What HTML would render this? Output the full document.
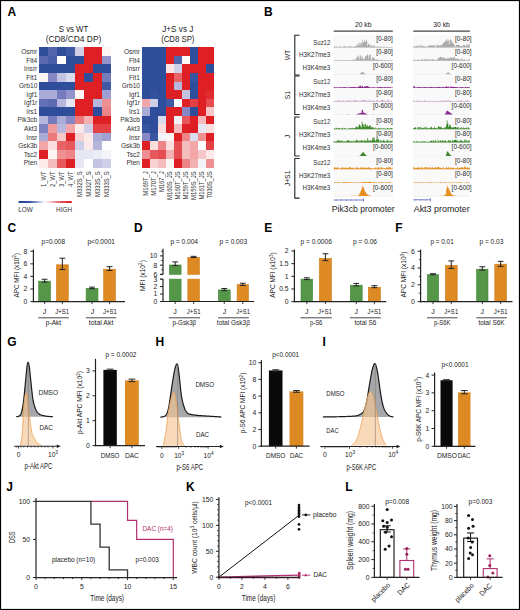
<!DOCTYPE html>
<html><head><meta charset="utf-8"><style>
html,body{margin:0;padding:0;background:#fff;}
svg{display:block;font-family:"Liberation Sans",sans-serif;}
</style></head><body>
<svg width="520" height="610" viewBox="0 0 520 610">
<rect x="0" y="0" width="520" height="610" fill="#fff"/>
<rect x="39.40" y="47.30" width="9.43" height="9.06" fill="#2e4e9c" shape-rendering="crispEdges"/>
<rect x="48.33" y="47.30" width="9.43" height="9.06" fill="#5265ad" shape-rendering="crispEdges"/>
<rect x="57.25" y="47.30" width="9.43" height="9.06" fill="#2e4e9c" shape-rendering="crispEdges"/>
<rect x="66.17" y="47.30" width="9.43" height="9.06" fill="#4059a4" shape-rendering="crispEdges"/>
<rect x="75.10" y="47.30" width="9.43" height="9.06" fill="#cfcfe8" shape-rendering="crispEdges"/>
<rect x="84.03" y="47.30" width="9.43" height="9.06" fill="#de2024" shape-rendering="crispEdges"/>
<rect x="92.95" y="47.30" width="9.43" height="9.06" fill="#de2024" shape-rendering="crispEdges"/>
<rect x="101.88" y="47.30" width="9.43" height="9.06" fill="#fdf4f4" shape-rendering="crispEdges"/>
<rect x="39.40" y="55.86" width="9.43" height="9.06" fill="#5a6ab1" shape-rendering="crispEdges"/>
<rect x="48.33" y="55.86" width="9.43" height="9.06" fill="#495fa9" shape-rendering="crispEdges"/>
<rect x="57.25" y="55.86" width="9.43" height="9.06" fill="#ffffff" shape-rendering="crispEdges"/>
<rect x="66.17" y="55.86" width="9.43" height="9.06" fill="#2e4e9c" shape-rendering="crispEdges"/>
<rect x="75.10" y="55.86" width="9.43" height="9.06" fill="#2e4e9c" shape-rendering="crispEdges"/>
<rect x="84.03" y="55.86" width="9.43" height="9.06" fill="#de2024" shape-rendering="crispEdges"/>
<rect x="92.95" y="55.86" width="9.43" height="9.06" fill="#de2024" shape-rendering="crispEdges"/>
<rect x="101.88" y="55.86" width="9.43" height="9.06" fill="#9393cc" shape-rendering="crispEdges"/>
<rect x="39.40" y="64.41" width="9.43" height="9.06" fill="#2e4e9c" shape-rendering="crispEdges"/>
<rect x="48.33" y="64.41" width="9.43" height="9.06" fill="#2e4e9c" shape-rendering="crispEdges"/>
<rect x="57.25" y="64.41" width="9.43" height="9.06" fill="#2e4e9c" shape-rendering="crispEdges"/>
<rect x="66.17" y="64.41" width="9.43" height="9.06" fill="#2e4e9c" shape-rendering="crispEdges"/>
<rect x="75.10" y="64.41" width="9.43" height="9.06" fill="#de2024" shape-rendering="crispEdges"/>
<rect x="84.03" y="64.41" width="9.43" height="9.06" fill="#de2024" shape-rendering="crispEdges"/>
<rect x="92.95" y="64.41" width="9.43" height="9.06" fill="#2e4e9c" shape-rendering="crispEdges"/>
<rect x="101.88" y="64.41" width="9.43" height="9.06" fill="#2e4e9c" shape-rendering="crispEdges"/>
<rect x="39.40" y="72.97" width="9.43" height="9.06" fill="#fdf4f4" shape-rendering="crispEdges"/>
<rect x="48.33" y="72.97" width="9.43" height="9.06" fill="#8787c6" shape-rendering="crispEdges"/>
<rect x="57.25" y="72.97" width="9.43" height="9.06" fill="#c3c3e2" shape-rendering="crispEdges"/>
<rect x="66.17" y="72.97" width="9.43" height="9.06" fill="#dbdbee" shape-rendering="crispEdges"/>
<rect x="75.10" y="72.97" width="9.43" height="9.06" fill="#de2024" shape-rendering="crispEdges"/>
<rect x="84.03" y="72.97" width="9.43" height="9.06" fill="#2e4e9c" shape-rendering="crispEdges"/>
<rect x="92.95" y="72.97" width="9.43" height="9.06" fill="#de2024" shape-rendering="crispEdges"/>
<rect x="101.88" y="72.97" width="9.43" height="9.06" fill="#757cbe" shape-rendering="crispEdges"/>
<rect x="39.40" y="81.53" width="9.43" height="9.06" fill="#2e4e9c" shape-rendering="crispEdges"/>
<rect x="48.33" y="81.53" width="9.43" height="9.06" fill="#2e4e9c" shape-rendering="crispEdges"/>
<rect x="57.25" y="81.53" width="9.43" height="9.06" fill="#2e4e9c" shape-rendering="crispEdges"/>
<rect x="66.17" y="81.53" width="9.43" height="9.06" fill="#2e4e9c" shape-rendering="crispEdges"/>
<rect x="75.10" y="81.53" width="9.43" height="9.06" fill="#de2024" shape-rendering="crispEdges"/>
<rect x="84.03" y="81.53" width="9.43" height="9.06" fill="#de2024" shape-rendering="crispEdges"/>
<rect x="92.95" y="81.53" width="9.43" height="9.06" fill="#de2024" shape-rendering="crispEdges"/>
<rect x="101.88" y="81.53" width="9.43" height="9.06" fill="#4059a4" shape-rendering="crispEdges"/>
<rect x="39.40" y="90.09" width="9.43" height="9.06" fill="#ababd7" shape-rendering="crispEdges"/>
<rect x="48.33" y="90.09" width="9.43" height="9.06" fill="#ababd7" shape-rendering="crispEdges"/>
<rect x="57.25" y="90.09" width="9.43" height="9.06" fill="#757cbe" shape-rendering="crispEdges"/>
<rect x="66.17" y="90.09" width="9.43" height="9.06" fill="#9393cc" shape-rendering="crispEdges"/>
<rect x="75.10" y="90.09" width="9.43" height="9.06" fill="#fdf4f4" shape-rendering="crispEdges"/>
<rect x="84.03" y="90.09" width="9.43" height="9.06" fill="#de2024" shape-rendering="crispEdges"/>
<rect x="92.95" y="90.09" width="9.43" height="9.06" fill="#de2024" shape-rendering="crispEdges"/>
<rect x="101.88" y="90.09" width="9.43" height="9.06" fill="#9f9fd1" shape-rendering="crispEdges"/>
<rect x="39.40" y="98.64" width="9.43" height="9.06" fill="#6370b5" shape-rendering="crispEdges"/>
<rect x="48.33" y="98.64" width="9.43" height="9.06" fill="#5a6ab1" shape-rendering="crispEdges"/>
<rect x="57.25" y="98.64" width="9.43" height="9.06" fill="#b7b7dd" shape-rendering="crispEdges"/>
<rect x="66.17" y="98.64" width="9.43" height="9.06" fill="#e7e7f4" shape-rendering="crispEdges"/>
<rect x="75.10" y="98.64" width="9.43" height="9.06" fill="#de2024" shape-rendering="crispEdges"/>
<rect x="84.03" y="98.64" width="9.43" height="9.06" fill="#de2024" shape-rendering="crispEdges"/>
<rect x="92.95" y="98.64" width="9.43" height="9.06" fill="#b7b7dd" shape-rendering="crispEdges"/>
<rect x="101.88" y="98.64" width="9.43" height="9.06" fill="#ee9092" shape-rendering="crispEdges"/>
<rect x="39.40" y="107.20" width="9.43" height="9.06" fill="#2e4e9c" shape-rendering="crispEdges"/>
<rect x="48.33" y="107.20" width="9.43" height="9.06" fill="#2e4e9c" shape-rendering="crispEdges"/>
<rect x="57.25" y="107.20" width="9.43" height="9.06" fill="#2e4e9c" shape-rendering="crispEdges"/>
<rect x="66.17" y="107.20" width="9.43" height="9.06" fill="#2e4e9c" shape-rendering="crispEdges"/>
<rect x="75.10" y="107.20" width="9.43" height="9.06" fill="#de2024" shape-rendering="crispEdges"/>
<rect x="84.03" y="107.20" width="9.43" height="9.06" fill="#de2024" shape-rendering="crispEdges"/>
<rect x="92.95" y="107.20" width="9.43" height="9.06" fill="#2e4e9c" shape-rendering="crispEdges"/>
<rect x="101.88" y="107.20" width="9.43" height="9.06" fill="#ed8487" shape-rendering="crispEdges"/>
<rect x="39.40" y="115.76" width="9.43" height="9.06" fill="#b7b7dd" shape-rendering="crispEdges"/>
<rect x="48.33" y="115.76" width="9.43" height="9.06" fill="#757cbe" shape-rendering="crispEdges"/>
<rect x="57.25" y="115.76" width="9.43" height="9.06" fill="#ababd7" shape-rendering="crispEdges"/>
<rect x="66.17" y="115.76" width="9.43" height="9.06" fill="#8787c6" shape-rendering="crispEdges"/>
<rect x="75.10" y="115.76" width="9.43" height="9.06" fill="#eb797c" shape-rendering="crispEdges"/>
<rect x="84.03" y="115.76" width="9.43" height="9.06" fill="#f3b1b2" shape-rendering="crispEdges"/>
<rect x="92.95" y="115.76" width="9.43" height="9.06" fill="#de2024" shape-rendering="crispEdges"/>
<rect x="101.88" y="115.76" width="9.43" height="9.06" fill="#de2024" shape-rendering="crispEdges"/>
<rect x="39.40" y="124.31" width="9.43" height="9.06" fill="#7e81c2" shape-rendering="crispEdges"/>
<rect x="48.33" y="124.31" width="9.43" height="9.06" fill="#f09b9c" shape-rendering="crispEdges"/>
<rect x="57.25" y="124.31" width="9.43" height="9.06" fill="#b7b7dd" shape-rendering="crispEdges"/>
<rect x="66.17" y="124.31" width="9.43" height="9.06" fill="#f2a6a7" shape-rendering="crispEdges"/>
<rect x="75.10" y="124.31" width="9.43" height="9.06" fill="#fce9e9" shape-rendering="crispEdges"/>
<rect x="84.03" y="124.31" width="9.43" height="9.06" fill="#cfcfe8" shape-rendering="crispEdges"/>
<rect x="92.95" y="124.31" width="9.43" height="9.06" fill="#e34145" shape-rendering="crispEdges"/>
<rect x="101.88" y="124.31" width="9.43" height="9.06" fill="#e34145" shape-rendering="crispEdges"/>
<rect x="39.40" y="132.87" width="9.43" height="9.06" fill="#ababd7" shape-rendering="crispEdges"/>
<rect x="48.33" y="132.87" width="9.43" height="9.06" fill="#eb797c" shape-rendering="crispEdges"/>
<rect x="57.25" y="132.87" width="9.43" height="9.06" fill="#f7c7c8" shape-rendering="crispEdges"/>
<rect x="66.17" y="132.87" width="9.43" height="9.06" fill="#de2024" shape-rendering="crispEdges"/>
<rect x="75.10" y="132.87" width="9.43" height="9.06" fill="#f8d2d3" shape-rendering="crispEdges"/>
<rect x="84.03" y="132.87" width="9.43" height="9.06" fill="#fce9e9" shape-rendering="crispEdges"/>
<rect x="92.95" y="132.87" width="9.43" height="9.06" fill="#ababd7" shape-rendering="crispEdges"/>
<rect x="101.88" y="132.87" width="9.43" height="9.06" fill="#9f9fd1" shape-rendering="crispEdges"/>
<rect x="39.40" y="141.43" width="9.43" height="9.06" fill="#f2a6a7" shape-rendering="crispEdges"/>
<rect x="48.33" y="141.43" width="9.43" height="9.06" fill="#fadede" shape-rendering="crispEdges"/>
<rect x="57.25" y="141.43" width="9.43" height="9.06" fill="#e86366" shape-rendering="crispEdges"/>
<rect x="66.17" y="141.43" width="9.43" height="9.06" fill="#e6585b" shape-rendering="crispEdges"/>
<rect x="75.10" y="141.43" width="9.43" height="9.06" fill="#cfcfe8" shape-rendering="crispEdges"/>
<rect x="84.03" y="141.43" width="9.43" height="9.06" fill="#fce9e9" shape-rendering="crispEdges"/>
<rect x="92.95" y="141.43" width="9.43" height="9.06" fill="#b7b7dd" shape-rendering="crispEdges"/>
<rect x="101.88" y="141.43" width="9.43" height="9.06" fill="#ffffff" shape-rendering="crispEdges"/>
<rect x="39.40" y="149.99" width="9.43" height="9.06" fill="#de2024" shape-rendering="crispEdges"/>
<rect x="48.33" y="149.99" width="9.43" height="9.06" fill="#fdf4f4" shape-rendering="crispEdges"/>
<rect x="57.25" y="149.99" width="9.43" height="9.06" fill="#ee9092" shape-rendering="crispEdges"/>
<rect x="66.17" y="149.99" width="9.43" height="9.06" fill="#ed8487" shape-rendering="crispEdges"/>
<rect x="75.10" y="149.99" width="9.43" height="9.06" fill="#e7e7f4" shape-rendering="crispEdges"/>
<rect x="84.03" y="149.99" width="9.43" height="9.06" fill="#e7e7f4" shape-rendering="crispEdges"/>
<rect x="92.95" y="149.99" width="9.43" height="9.06" fill="#ececf6" shape-rendering="crispEdges"/>
<rect x="101.88" y="149.99" width="9.43" height="9.06" fill="#f3f3f9" shape-rendering="crispEdges"/>
<rect x="39.40" y="158.54" width="9.43" height="9.06" fill="#fce9e9" shape-rendering="crispEdges"/>
<rect x="48.33" y="158.54" width="9.43" height="9.06" fill="#f5bcbd" shape-rendering="crispEdges"/>
<rect x="57.25" y="158.54" width="9.43" height="9.06" fill="#e6585b" shape-rendering="crispEdges"/>
<rect x="66.17" y="158.54" width="9.43" height="9.06" fill="#de2024" shape-rendering="crispEdges"/>
<rect x="75.10" y="158.54" width="9.43" height="9.06" fill="#e7e7f4" shape-rendering="crispEdges"/>
<rect x="84.03" y="158.54" width="9.43" height="9.06" fill="#ffffff" shape-rendering="crispEdges"/>
<rect x="92.95" y="158.54" width="9.43" height="9.06" fill="#c3c3e2" shape-rendering="crispEdges"/>
<rect x="101.88" y="158.54" width="9.43" height="9.06" fill="#cfcfe8" shape-rendering="crispEdges"/>
<text x="37.30" y="53.98" font-size="6.6" text-anchor="end" fill="#333">Osmr</text>
<text x="37.30" y="62.54" font-size="6.6" text-anchor="end" fill="#333">Flt4</text>
<text x="37.30" y="71.09" font-size="6.6" text-anchor="end" fill="#333">Insrr</text>
<text x="37.30" y="79.65" font-size="6.6" text-anchor="end" fill="#333">Flt1</text>
<text x="37.30" y="88.21" font-size="6.6" text-anchor="end" fill="#333">Grb10</text>
<text x="37.30" y="96.76" font-size="6.6" text-anchor="end" fill="#333">Igf1</text>
<text x="37.30" y="105.32" font-size="6.6" text-anchor="end" fill="#333">Igf1r</text>
<text x="37.30" y="113.88" font-size="6.6" text-anchor="end" fill="#333">Irs1</text>
<text x="37.30" y="122.44" font-size="6.6" text-anchor="end" fill="#333">Pik3cb</text>
<text x="37.30" y="130.99" font-size="6.6" text-anchor="end" fill="#333">Akt3</text>
<text x="37.30" y="139.55" font-size="6.6" text-anchor="end" fill="#333">Insr</text>
<text x="37.30" y="148.11" font-size="6.6" text-anchor="end" fill="#333">Gsk3b</text>
<text x="37.30" y="156.66" font-size="6.6" text-anchor="end" fill="#333">Tsc2</text>
<text x="37.30" y="165.22" font-size="6.6" text-anchor="end" fill="#333">Pten</text>
<text x="46.16" y="171.30" font-size="6.8" text-anchor="end" fill="#333" textLength="15.60" lengthAdjust="spacingAndGlyphs" transform="rotate(-90 46.16 171.30)">1_WT</text>
<text x="55.09" y="171.30" font-size="6.8" text-anchor="end" fill="#333" textLength="15.60" lengthAdjust="spacingAndGlyphs" transform="rotate(-90 55.09 171.30)">2_WT</text>
<text x="64.01" y="171.30" font-size="6.8" text-anchor="end" fill="#333" textLength="15.60" lengthAdjust="spacingAndGlyphs" transform="rotate(-90 64.01 171.30)">3_WT</text>
<text x="72.94" y="171.30" font-size="6.8" text-anchor="end" fill="#333" textLength="15.60" lengthAdjust="spacingAndGlyphs" transform="rotate(-90 72.94 171.30)">4_WT</text>
<text x="81.86" y="171.30" font-size="6.8" text-anchor="end" fill="#333" textLength="25.68" lengthAdjust="spacingAndGlyphs" transform="rotate(-90 81.86 171.30)">M332S_S</text>
<text x="90.79" y="171.30" font-size="6.8" text-anchor="end" fill="#333" textLength="25.35" lengthAdjust="spacingAndGlyphs" transform="rotate(-90 90.79 171.30)">M332T_S</text>
<text x="99.71" y="171.30" font-size="6.8" text-anchor="end" fill="#333" textLength="25.68" lengthAdjust="spacingAndGlyphs" transform="rotate(-90 99.71 171.30)">M333S_S</text>
<text x="108.64" y="171.30" font-size="6.8" text-anchor="end" fill="#333" textLength="25.68" lengthAdjust="spacingAndGlyphs" transform="rotate(-90 108.64 171.30)">M333S_S</text>
<text x="73.50" y="32.40" font-size="8.6" text-anchor="middle" fill="#222" textLength="29.50" lengthAdjust="spacingAndGlyphs">S vs WT</text>
<text x="73.50" y="42.00" font-size="8.6" text-anchor="middle" fill="#222" textLength="55.70" lengthAdjust="spacingAndGlyphs">(CD8/CD4 DP)</text>
<rect x="142.10" y="47.30" width="8.46" height="9.06" fill="#2e4e9c" shape-rendering="crispEdges"/>
<rect x="150.06" y="47.30" width="8.46" height="9.06" fill="#2e4e9c" shape-rendering="crispEdges"/>
<rect x="158.01" y="47.30" width="8.46" height="9.06" fill="#2e4e9c" shape-rendering="crispEdges"/>
<rect x="165.97" y="47.30" width="8.46" height="9.06" fill="#de2024" shape-rendering="crispEdges"/>
<rect x="173.92" y="47.30" width="8.46" height="9.06" fill="#de2024" shape-rendering="crispEdges"/>
<rect x="181.88" y="47.30" width="8.46" height="9.06" fill="#de2024" shape-rendering="crispEdges"/>
<rect x="189.83" y="47.30" width="8.46" height="9.06" fill="#2e4e9c" shape-rendering="crispEdges"/>
<rect x="197.79" y="47.30" width="8.46" height="9.06" fill="#de2024" shape-rendering="crispEdges"/>
<rect x="205.74" y="47.30" width="8.46" height="9.06" fill="#de2024" shape-rendering="crispEdges"/>
<rect x="142.10" y="55.86" width="8.46" height="9.06" fill="#2e4e9c" shape-rendering="crispEdges"/>
<rect x="150.06" y="55.86" width="8.46" height="9.06" fill="#2e4e9c" shape-rendering="crispEdges"/>
<rect x="158.01" y="55.86" width="8.46" height="9.06" fill="#2e4e9c" shape-rendering="crispEdges"/>
<rect x="165.97" y="55.86" width="8.46" height="9.06" fill="#de2024" shape-rendering="crispEdges"/>
<rect x="173.92" y="55.86" width="8.46" height="9.06" fill="#5265ad" shape-rendering="crispEdges"/>
<rect x="181.88" y="55.86" width="8.46" height="9.06" fill="#fef8f8" shape-rendering="crispEdges"/>
<rect x="189.83" y="55.86" width="8.46" height="9.06" fill="#2e4e9c" shape-rendering="crispEdges"/>
<rect x="197.79" y="55.86" width="8.46" height="9.06" fill="#de2024" shape-rendering="crispEdges"/>
<rect x="205.74" y="55.86" width="8.46" height="9.06" fill="#de2024" shape-rendering="crispEdges"/>
<rect x="142.10" y="64.41" width="8.46" height="9.06" fill="#2e4e9c" shape-rendering="crispEdges"/>
<rect x="150.06" y="64.41" width="8.46" height="9.06" fill="#2e4e9c" shape-rendering="crispEdges"/>
<rect x="158.01" y="64.41" width="8.46" height="9.06" fill="#2e4e9c" shape-rendering="crispEdges"/>
<rect x="165.97" y="64.41" width="8.46" height="9.06" fill="#fbe4e5" shape-rendering="crispEdges"/>
<rect x="173.92" y="64.41" width="8.46" height="9.06" fill="#cfcfe8" shape-rendering="crispEdges"/>
<rect x="181.88" y="64.41" width="8.46" height="9.06" fill="#de2024" shape-rendering="crispEdges"/>
<rect x="189.83" y="64.41" width="8.46" height="9.06" fill="#de2024" shape-rendering="crispEdges"/>
<rect x="197.79" y="64.41" width="8.46" height="9.06" fill="#de2024" shape-rendering="crispEdges"/>
<rect x="205.74" y="64.41" width="8.46" height="9.06" fill="#2e4e9c" shape-rendering="crispEdges"/>
<rect x="142.10" y="72.97" width="8.46" height="9.06" fill="#2e4e9c" shape-rendering="crispEdges"/>
<rect x="150.06" y="72.97" width="8.46" height="9.06" fill="#2e4e9c" shape-rendering="crispEdges"/>
<rect x="158.01" y="72.97" width="8.46" height="9.06" fill="#2e4e9c" shape-rendering="crispEdges"/>
<rect x="165.97" y="72.97" width="8.46" height="9.06" fill="#de2024" shape-rendering="crispEdges"/>
<rect x="173.92" y="72.97" width="8.46" height="9.06" fill="#e86366" shape-rendering="crispEdges"/>
<rect x="181.88" y="72.97" width="8.46" height="9.06" fill="#de2024" shape-rendering="crispEdges"/>
<rect x="189.83" y="72.97" width="8.46" height="9.06" fill="#3754a0" shape-rendering="crispEdges"/>
<rect x="197.79" y="72.97" width="8.46" height="9.06" fill="#de2024" shape-rendering="crispEdges"/>
<rect x="205.74" y="72.97" width="8.46" height="9.06" fill="#de2024" shape-rendering="crispEdges"/>
<rect x="142.10" y="81.53" width="8.46" height="9.06" fill="#2e4e9c" shape-rendering="crispEdges"/>
<rect x="150.06" y="81.53" width="8.46" height="9.06" fill="#2e4e9c" shape-rendering="crispEdges"/>
<rect x="158.01" y="81.53" width="8.46" height="9.06" fill="#2e4e9c" shape-rendering="crispEdges"/>
<rect x="165.97" y="81.53" width="8.46" height="9.06" fill="#de2024" shape-rendering="crispEdges"/>
<rect x="173.92" y="81.53" width="8.46" height="9.06" fill="#b7b7dd" shape-rendering="crispEdges"/>
<rect x="181.88" y="81.53" width="8.46" height="9.06" fill="#de2024" shape-rendering="crispEdges"/>
<rect x="189.83" y="81.53" width="8.46" height="9.06" fill="#2e4e9c" shape-rendering="crispEdges"/>
<rect x="197.79" y="81.53" width="8.46" height="9.06" fill="#de2024" shape-rendering="crispEdges"/>
<rect x="205.74" y="81.53" width="8.46" height="9.06" fill="#de2024" shape-rendering="crispEdges"/>
<rect x="142.10" y="90.09" width="8.46" height="9.06" fill="#2e4e9c" shape-rendering="crispEdges"/>
<rect x="150.06" y="90.09" width="8.46" height="9.06" fill="#33519f" shape-rendering="crispEdges"/>
<rect x="158.01" y="90.09" width="8.46" height="9.06" fill="#2e4e9c" shape-rendering="crispEdges"/>
<rect x="165.97" y="90.09" width="8.46" height="9.06" fill="#de2024" shape-rendering="crispEdges"/>
<rect x="173.92" y="90.09" width="8.46" height="9.06" fill="#de2024" shape-rendering="crispEdges"/>
<rect x="181.88" y="90.09" width="8.46" height="9.06" fill="#c3c3e2" shape-rendering="crispEdges"/>
<rect x="189.83" y="90.09" width="8.46" height="9.06" fill="#2e4e9c" shape-rendering="crispEdges"/>
<rect x="197.79" y="90.09" width="8.46" height="9.06" fill="#de2024" shape-rendering="crispEdges"/>
<rect x="205.74" y="90.09" width="8.46" height="9.06" fill="#e02b2f" shape-rendering="crispEdges"/>
<rect x="142.10" y="98.64" width="8.46" height="9.06" fill="#f2a6a7" shape-rendering="crispEdges"/>
<rect x="150.06" y="98.64" width="8.46" height="9.06" fill="#cfcfe8" shape-rendering="crispEdges"/>
<rect x="158.01" y="98.64" width="8.46" height="9.06" fill="#2e4e9c" shape-rendering="crispEdges"/>
<rect x="165.97" y="98.64" width="8.46" height="9.06" fill="#4059a4" shape-rendering="crispEdges"/>
<rect x="173.92" y="98.64" width="8.46" height="9.06" fill="#ffffff" shape-rendering="crispEdges"/>
<rect x="181.88" y="98.64" width="8.46" height="9.06" fill="#de2024" shape-rendering="crispEdges"/>
<rect x="189.83" y="98.64" width="8.46" height="9.06" fill="#e34145" shape-rendering="crispEdges"/>
<rect x="197.79" y="98.64" width="8.46" height="9.06" fill="#de2024" shape-rendering="crispEdges"/>
<rect x="205.74" y="98.64" width="8.46" height="9.06" fill="#e54d50" shape-rendering="crispEdges"/>
<rect x="142.10" y="107.20" width="8.46" height="9.06" fill="#ababd7" shape-rendering="crispEdges"/>
<rect x="150.06" y="107.20" width="8.46" height="9.06" fill="#2e4e9c" shape-rendering="crispEdges"/>
<rect x="158.01" y="107.20" width="8.46" height="9.06" fill="#2e4e9c" shape-rendering="crispEdges"/>
<rect x="165.97" y="107.20" width="8.46" height="9.06" fill="#de2024" shape-rendering="crispEdges"/>
<rect x="173.92" y="107.20" width="8.46" height="9.06" fill="#de2024" shape-rendering="crispEdges"/>
<rect x="181.88" y="107.20" width="8.46" height="9.06" fill="#8787c6" shape-rendering="crispEdges"/>
<rect x="189.83" y="107.20" width="8.46" height="9.06" fill="#2e4e9c" shape-rendering="crispEdges"/>
<rect x="197.79" y="107.20" width="8.46" height="9.06" fill="#de2024" shape-rendering="crispEdges"/>
<rect x="205.74" y="107.20" width="8.46" height="9.06" fill="#f7c7c8" shape-rendering="crispEdges"/>
<rect x="142.10" y="115.76" width="8.46" height="9.06" fill="#2e4e9c" shape-rendering="crispEdges"/>
<rect x="150.06" y="115.76" width="8.46" height="9.06" fill="#2e4e9c" shape-rendering="crispEdges"/>
<rect x="158.01" y="115.76" width="8.46" height="9.06" fill="#dbdbee" shape-rendering="crispEdges"/>
<rect x="165.97" y="115.76" width="8.46" height="9.06" fill="#de2024" shape-rendering="crispEdges"/>
<rect x="173.92" y="115.76" width="8.46" height="9.06" fill="#f3f3f9" shape-rendering="crispEdges"/>
<rect x="181.88" y="115.76" width="8.46" height="9.06" fill="#e6585b" shape-rendering="crispEdges"/>
<rect x="189.83" y="115.76" width="8.46" height="9.06" fill="#de2024" shape-rendering="crispEdges"/>
<rect x="197.79" y="115.76" width="8.46" height="9.06" fill="#f5bcbd" shape-rendering="crispEdges"/>
<rect x="205.74" y="115.76" width="8.46" height="9.06" fill="#de2024" shape-rendering="crispEdges"/>
<rect x="142.10" y="124.31" width="8.46" height="9.06" fill="#3754a0" shape-rendering="crispEdges"/>
<rect x="150.06" y="124.31" width="8.46" height="9.06" fill="#2e4e9c" shape-rendering="crispEdges"/>
<rect x="158.01" y="124.31" width="8.46" height="9.06" fill="#fadede" shape-rendering="crispEdges"/>
<rect x="165.97" y="124.31" width="8.46" height="9.06" fill="#de2024" shape-rendering="crispEdges"/>
<rect x="173.92" y="124.31" width="8.46" height="9.06" fill="#f5bcbd" shape-rendering="crispEdges"/>
<rect x="181.88" y="124.31" width="8.46" height="9.06" fill="#de2024" shape-rendering="crispEdges"/>
<rect x="189.83" y="124.31" width="8.46" height="9.06" fill="#de2024" shape-rendering="crispEdges"/>
<rect x="197.79" y="124.31" width="8.46" height="9.06" fill="#e7e7f4" shape-rendering="crispEdges"/>
<rect x="205.74" y="124.31" width="8.46" height="9.06" fill="#fadede" shape-rendering="crispEdges"/>
<rect x="142.10" y="132.87" width="8.46" height="9.06" fill="#8787c6" shape-rendering="crispEdges"/>
<rect x="150.06" y="132.87" width="8.46" height="9.06" fill="#3754a0" shape-rendering="crispEdges"/>
<rect x="158.01" y="132.87" width="8.46" height="9.06" fill="#f3f3f9" shape-rendering="crispEdges"/>
<rect x="165.97" y="132.87" width="8.46" height="9.06" fill="#fdf4f4" shape-rendering="crispEdges"/>
<rect x="173.92" y="132.87" width="8.46" height="9.06" fill="#de2024" shape-rendering="crispEdges"/>
<rect x="181.88" y="132.87" width="8.46" height="9.06" fill="#ed8487" shape-rendering="crispEdges"/>
<rect x="189.83" y="132.87" width="8.46" height="9.06" fill="#dbdbee" shape-rendering="crispEdges"/>
<rect x="197.79" y="132.87" width="8.46" height="9.06" fill="#ee9092" shape-rendering="crispEdges"/>
<rect x="205.74" y="132.87" width="8.46" height="9.06" fill="#de2024" shape-rendering="crispEdges"/>
<rect x="142.10" y="141.43" width="8.46" height="9.06" fill="#de2024" shape-rendering="crispEdges"/>
<rect x="150.06" y="141.43" width="8.46" height="9.06" fill="#fadede" shape-rendering="crispEdges"/>
<rect x="158.01" y="141.43" width="8.46" height="9.06" fill="#ed8487" shape-rendering="crispEdges"/>
<rect x="165.97" y="141.43" width="8.46" height="9.06" fill="#fadede" shape-rendering="crispEdges"/>
<rect x="173.92" y="141.43" width="8.46" height="9.06" fill="#e54d50" shape-rendering="crispEdges"/>
<rect x="181.88" y="141.43" width="8.46" height="9.06" fill="#f5bcbd" shape-rendering="crispEdges"/>
<rect x="189.83" y="141.43" width="8.46" height="9.06" fill="#f2a6a7" shape-rendering="crispEdges"/>
<rect x="197.79" y="141.43" width="8.46" height="9.06" fill="#ffffff" shape-rendering="crispEdges"/>
<rect x="205.74" y="141.43" width="8.46" height="9.06" fill="#e34145" shape-rendering="crispEdges"/>
<rect x="142.10" y="149.99" width="8.46" height="9.06" fill="#ee9092" shape-rendering="crispEdges"/>
<rect x="150.06" y="149.99" width="8.46" height="9.06" fill="#e6585b" shape-rendering="crispEdges"/>
<rect x="158.01" y="149.99" width="8.46" height="9.06" fill="#e54d50" shape-rendering="crispEdges"/>
<rect x="165.97" y="149.99" width="8.46" height="9.06" fill="#f3b1b2" shape-rendering="crispEdges"/>
<rect x="173.92" y="149.99" width="8.46" height="9.06" fill="#e54d50" shape-rendering="crispEdges"/>
<rect x="181.88" y="149.99" width="8.46" height="9.06" fill="#f5bcbd" shape-rendering="crispEdges"/>
<rect x="189.83" y="149.99" width="8.46" height="9.06" fill="#f2a6a7" shape-rendering="crispEdges"/>
<rect x="197.79" y="149.99" width="8.46" height="9.06" fill="#f7c7c8" shape-rendering="crispEdges"/>
<rect x="205.74" y="149.99" width="8.46" height="9.06" fill="#fce9e9" shape-rendering="crispEdges"/>
<rect x="142.10" y="158.54" width="8.46" height="9.06" fill="#de2024" shape-rendering="crispEdges"/>
<rect x="150.06" y="158.54" width="8.46" height="9.06" fill="#f8d2d3" shape-rendering="crispEdges"/>
<rect x="158.01" y="158.54" width="8.46" height="9.06" fill="#f5bcbd" shape-rendering="crispEdges"/>
<rect x="165.97" y="158.54" width="8.46" height="9.06" fill="#fdf4f4" shape-rendering="crispEdges"/>
<rect x="173.92" y="158.54" width="8.46" height="9.06" fill="#de2024" shape-rendering="crispEdges"/>
<rect x="181.88" y="158.54" width="8.46" height="9.06" fill="#ed8487" shape-rendering="crispEdges"/>
<rect x="189.83" y="158.54" width="8.46" height="9.06" fill="#f3b1b2" shape-rendering="crispEdges"/>
<rect x="197.79" y="158.54" width="8.46" height="9.06" fill="#f3f3f9" shape-rendering="crispEdges"/>
<rect x="205.74" y="158.54" width="8.46" height="9.06" fill="#ee9092" shape-rendering="crispEdges"/>
<text x="140.00" y="53.98" font-size="6.6" text-anchor="end" fill="#333">Osmr</text>
<text x="140.00" y="62.54" font-size="6.6" text-anchor="end" fill="#333">Flt4</text>
<text x="140.00" y="71.09" font-size="6.6" text-anchor="end" fill="#333">Insrr</text>
<text x="140.00" y="79.65" font-size="6.6" text-anchor="end" fill="#333">Flt1</text>
<text x="140.00" y="88.21" font-size="6.6" text-anchor="end" fill="#333">Grb10</text>
<text x="140.00" y="96.76" font-size="6.6" text-anchor="end" fill="#333">Igf1</text>
<text x="140.00" y="105.32" font-size="6.6" text-anchor="end" fill="#333">Igf1r</text>
<text x="140.00" y="113.88" font-size="6.6" text-anchor="end" fill="#333">Irs1</text>
<text x="140.00" y="122.44" font-size="6.6" text-anchor="end" fill="#333">Pik3cb</text>
<text x="140.00" y="130.99" font-size="6.6" text-anchor="end" fill="#333">Akt3</text>
<text x="140.00" y="139.55" font-size="6.6" text-anchor="end" fill="#333">Insr</text>
<text x="140.00" y="148.11" font-size="6.6" text-anchor="end" fill="#333">Gsk3b</text>
<text x="140.00" y="156.66" font-size="6.6" text-anchor="end" fill="#333">Tsc2</text>
<text x="140.00" y="165.22" font-size="6.6" text-anchor="end" fill="#333">Pten</text>
<text x="148.38" y="171.30" font-size="6.8" text-anchor="end" fill="#333" textLength="24.38" lengthAdjust="spacingAndGlyphs" transform="rotate(-90 148.38 171.30)">M169T_J</text>
<text x="156.33" y="171.30" font-size="6.8" text-anchor="end" fill="#333" textLength="24.38" lengthAdjust="spacingAndGlyphs" transform="rotate(-90 156.33 171.30)">M170T_J</text>
<text x="164.29" y="171.30" font-size="6.8" text-anchor="end" fill="#333" textLength="20.80" lengthAdjust="spacingAndGlyphs" transform="rotate(-90 164.29 171.30)">M167_J</text>
<text x="172.24" y="171.30" font-size="6.8" text-anchor="end" fill="#333" textLength="28.60" lengthAdjust="spacingAndGlyphs" transform="rotate(-90 172.24 171.30)">M160S_JS</text>
<text x="180.20" y="171.30" font-size="6.8" text-anchor="end" fill="#333" textLength="28.28" lengthAdjust="spacingAndGlyphs" transform="rotate(-90 180.20 171.30)">M160T_JS</text>
<text x="188.16" y="171.30" font-size="6.8" text-anchor="end" fill="#333" textLength="28.28" lengthAdjust="spacingAndGlyphs" transform="rotate(-90 188.16 171.30)">M159T_JS</text>
<text x="196.11" y="171.30" font-size="6.8" text-anchor="end" fill="#333" textLength="28.60" lengthAdjust="spacingAndGlyphs" transform="rotate(-90 196.11 171.30)">M159S_JS</text>
<text x="204.07" y="171.30" font-size="6.8" text-anchor="end" fill="#333" textLength="28.28" lengthAdjust="spacingAndGlyphs" transform="rotate(-90 204.07 171.30)">M161T_JS</text>
<text x="212.02" y="171.30" font-size="6.8" text-anchor="end" fill="#333" textLength="27.31" lengthAdjust="spacingAndGlyphs" transform="rotate(-90 212.02 171.30)">T030S_JS</text>
<text x="177.80" y="32.40" font-size="8.6" text-anchor="middle" fill="#222" textLength="31.10" lengthAdjust="spacingAndGlyphs">J+S vs J</text>
<text x="177.80" y="42.00" font-size="8.6" text-anchor="middle" fill="#222" textLength="33.30" lengthAdjust="spacingAndGlyphs">(CD8 SP)</text>
<text x="7.60" y="15.50" font-size="12" text-anchor="start" fill="#000" font-weight="bold">A</text>
<defs><linearGradient id="cb" x1="0" x2="1" y1="0" y2="0"><stop offset="0" stop-color="#22409e"/><stop offset="0.22" stop-color="#3c55a8"/><stop offset="0.5" stop-color="#ffffff"/><stop offset="0.78" stop-color="#e4595e"/><stop offset="1" stop-color="#d8151c"/></linearGradient></defs>
<rect x="18.30" y="200.90" width="53.70" height="2.20" fill="url(#cb)" rx="1"/>
<text x="18.30" y="211.50" font-size="6.4" text-anchor="start" fill="#333">LOW</text>
<text x="72.00" y="211.50" font-size="6.4" text-anchor="end" fill="#333">HIGH</text>
<text x="264.00" y="15.50" font-size="12" text-anchor="start" fill="#000" font-weight="bold">B</text>
<line x1="333.70" y1="31.10" x2="392.80" y2="31.10" stroke="#444" stroke-width="1.4"/>
<text x="363.25" y="27.00" font-size="6.8" text-anchor="middle" fill="#222">20 kb</text>
<line x1="413.20" y1="31.10" x2="469.90" y2="31.10" stroke="#444" stroke-width="1.4"/>
<text x="441.55" y="27.00" font-size="6.8" text-anchor="middle" fill="#222">30 kb</text>
<rect x="333.70" y="34.90" width="59.10" height="13.00" fill="#f9f9f9"/>
<line x1="333.70" y1="47.70" x2="392.80" y2="47.70" stroke="#e4e4e4" stroke-width="0.5"/>
<rect x="413.20" y="34.90" width="56.70" height="13.00" fill="#f9f9f9"/>
<line x1="413.20" y1="47.70" x2="469.90" y2="47.70" stroke="#e4e4e4" stroke-width="0.5"/>
<rect x="333.70" y="48.20" width="59.10" height="13.00" fill="#f9f9f9"/>
<line x1="333.70" y1="61.00" x2="392.80" y2="61.00" stroke="#e4e4e4" stroke-width="0.5"/>
<rect x="413.20" y="48.20" width="56.70" height="13.00" fill="#f9f9f9"/>
<line x1="413.20" y1="61.00" x2="469.90" y2="61.00" stroke="#e4e4e4" stroke-width="0.5"/>
<rect x="333.70" y="61.70" width="59.10" height="13.00" fill="#f9f9f9"/>
<line x1="333.70" y1="74.50" x2="392.80" y2="74.50" stroke="#e4e4e4" stroke-width="0.5"/>
<rect x="413.20" y="61.70" width="56.70" height="13.00" fill="#f9f9f9"/>
<line x1="413.20" y1="74.50" x2="469.90" y2="74.50" stroke="#e4e4e4" stroke-width="0.5"/>
<rect x="333.70" y="75.40" width="59.10" height="13.00" fill="#f9f9f9"/>
<line x1="333.70" y1="88.20" x2="392.80" y2="88.20" stroke="#e4e4e4" stroke-width="0.5"/>
<rect x="413.20" y="75.40" width="56.70" height="13.00" fill="#f9f9f9"/>
<line x1="413.20" y1="88.20" x2="469.90" y2="88.20" stroke="#e4e4e4" stroke-width="0.5"/>
<rect x="333.70" y="88.60" width="59.10" height="13.00" fill="#f9f9f9"/>
<line x1="333.70" y1="101.40" x2="392.80" y2="101.40" stroke="#e4e4e4" stroke-width="0.5"/>
<rect x="413.20" y="88.60" width="56.70" height="13.00" fill="#f9f9f9"/>
<line x1="413.20" y1="101.40" x2="469.90" y2="101.40" stroke="#e4e4e4" stroke-width="0.5"/>
<rect x="333.70" y="101.90" width="59.10" height="13.00" fill="#f9f9f9"/>
<line x1="333.70" y1="114.70" x2="392.80" y2="114.70" stroke="#e4e4e4" stroke-width="0.5"/>
<rect x="413.20" y="101.90" width="56.70" height="13.00" fill="#f9f9f9"/>
<line x1="413.20" y1="114.70" x2="469.90" y2="114.70" stroke="#e4e4e4" stroke-width="0.5"/>
<rect x="333.70" y="116.60" width="59.10" height="13.00" fill="#f9f9f9"/>
<line x1="333.70" y1="129.40" x2="392.80" y2="129.40" stroke="#e4e4e4" stroke-width="0.5"/>
<rect x="413.20" y="116.60" width="56.70" height="13.00" fill="#f9f9f9"/>
<line x1="413.20" y1="129.40" x2="469.90" y2="129.40" stroke="#e4e4e4" stroke-width="0.5"/>
<rect x="333.70" y="129.80" width="59.10" height="13.00" fill="#f9f9f9"/>
<line x1="333.70" y1="142.60" x2="392.80" y2="142.60" stroke="#e4e4e4" stroke-width="0.5"/>
<rect x="413.20" y="129.80" width="56.70" height="13.00" fill="#f9f9f9"/>
<line x1="413.20" y1="142.60" x2="469.90" y2="142.60" stroke="#e4e4e4" stroke-width="0.5"/>
<rect x="333.70" y="143.40" width="59.10" height="13.00" fill="#f9f9f9"/>
<line x1="333.70" y1="156.20" x2="392.80" y2="156.20" stroke="#e4e4e4" stroke-width="0.5"/>
<rect x="413.20" y="143.40" width="56.70" height="13.00" fill="#f9f9f9"/>
<line x1="413.20" y1="156.20" x2="469.90" y2="156.20" stroke="#e4e4e4" stroke-width="0.5"/>
<rect x="333.70" y="156.60" width="59.10" height="13.00" fill="#f9f9f9"/>
<line x1="333.70" y1="169.40" x2="392.80" y2="169.40" stroke="#e4e4e4" stroke-width="0.5"/>
<rect x="413.20" y="156.60" width="56.70" height="13.00" fill="#f9f9f9"/>
<line x1="413.20" y1="169.40" x2="469.90" y2="169.40" stroke="#e4e4e4" stroke-width="0.5"/>
<rect x="333.70" y="170.30" width="59.10" height="13.00" fill="#f9f9f9"/>
<line x1="333.70" y1="183.10" x2="392.80" y2="183.10" stroke="#e4e4e4" stroke-width="0.5"/>
<rect x="413.20" y="170.30" width="56.70" height="13.00" fill="#f9f9f9"/>
<line x1="413.20" y1="183.10" x2="469.90" y2="183.10" stroke="#e4e4e4" stroke-width="0.5"/>
<rect x="333.70" y="183.50" width="59.10" height="13.00" fill="#f9f9f9"/>
<line x1="333.70" y1="196.30" x2="392.80" y2="196.30" stroke="#e4e4e4" stroke-width="0.5"/>
<rect x="413.20" y="183.50" width="56.70" height="13.00" fill="#f9f9f9"/>
<line x1="413.20" y1="196.30" x2="469.90" y2="196.30" stroke="#e4e4e4" stroke-width="0.5"/>
<path d="M333.70 47.50 L333.70 46.55 L334.40 46.55 L334.40 46.51 L335.10 46.51 L335.10 46.80 L335.80 46.80 L335.80 46.37 L336.50 46.37 L336.50 46.70 L337.20 46.70 L337.20 47.05 L337.90 47.05 L337.90 47.05 L338.60 47.05 L338.60 46.73 L339.30 46.73 L339.30 46.33 L340.00 46.33 L340.00 46.39 L340.70 46.39 L340.70 46.77 L341.40 46.77 L341.40 46.47 L342.10 46.47 L342.10 46.78 L342.80 46.78 L342.80 47.05 L343.50 47.05 L343.50 46.29 L344.20 46.29 L344.20 46.26 L344.90 46.26 L344.90 46.32 L345.60 46.32 L345.60 46.24 L346.30 46.24 L346.30 47.05 L347.00 47.05 L347.00 46.45 L347.70 46.45 L347.70 46.97 L348.40 46.97 L348.40 46.08 L349.10 46.08 L349.10 46.13 L349.80 46.13 L349.80 46.52 L350.50 46.52 L350.50 46.41 L351.20 46.41 L351.20 46.20 L351.90 46.20 L351.90 46.89 L352.60 46.89 L352.60 46.41 L353.30 46.41 L353.30 46.74 L354.00 46.74 L354.00 46.83 L354.70 46.83 L354.70 45.86 L355.40 45.86 L355.40 46.54 L356.10 46.54 L356.10 45.46 L356.80 45.46 L356.80 45.93 L357.50 45.93 L357.50 43.62 L358.20 43.62 L358.20 44.55 L358.90 44.55 L358.90 42.38 L359.60 42.38 L359.60 46.11 L360.30 46.11 L360.30 43.34 L361.00 43.34 L361.00 42.26 L361.70 42.26 L361.70 44.45 L362.40 44.45 L362.40 39.41 L363.10 39.41 L363.10 42.46 L363.80 42.46 L363.80 42.05 L364.50 42.05 L364.50 39.98 L365.20 39.98 L365.20 42.10 L365.90 42.10 L365.90 40.31 L366.60 40.31 L366.60 41.02 L367.30 41.02 L367.30 45.97 L368.00 45.97 L368.00 43.97 L368.70 43.97 L368.70 44.19 L369.40 44.19 L369.40 44.52 L370.10 44.52 L370.10 46.54 L370.80 46.54 L370.80 44.78 L371.50 44.78 L371.50 45.41 L372.20 45.41 L372.20 46.60 L372.90 46.60 L372.90 45.89 L373.60 45.89 L373.60 45.21 L374.30 45.21 L374.30 45.80 L375.00 45.80 L375.00 46.92 L375.70 46.92 L375.70 46.74 L376.40 46.74 L376.40 46.79 L377.10 46.79 L377.10 46.62 L377.80 46.62 L377.80 46.92 L378.50 46.92 L378.50 46.52 L379.20 46.52 L379.20 46.74 L379.90 46.74 L379.90 46.81 L380.60 46.81 L380.60 46.81 L381.30 46.81 L381.30 46.68 L382.00 46.68 L382.00 46.78 L382.70 46.78 L382.70 46.94 L383.40 46.94 L383.40 46.62 L384.10 46.62 L384.10 46.85 L384.80 46.85 L384.80 47.05 L385.50 47.05 L385.50 46.75 L386.20 46.75 L386.20 46.90 L386.90 46.90 L386.90 46.80 L387.60 46.80 L387.60 47.05 L388.30 47.05 L388.30 47.05 L389.00 47.05 L389.00 46.66 L389.70 46.66 L389.70 47.05 L390.40 47.05 L390.40 46.90 L391.10 46.90 L391.10 46.86 L391.80 46.86 L391.80 47.05 L392.50 47.05 L392.50 47.50 Z" fill="#ababab"/>
<path d="M413.20 47.50 L413.20 46.05 L413.90 46.05 L413.90 46.71 L414.60 46.71 L414.60 46.85 L415.30 46.85 L415.30 46.02 L416.00 46.02 L416.00 46.05 L416.70 46.05 L416.70 45.85 L417.40 45.85 L417.40 45.85 L418.10 45.85 L418.10 46.93 L418.80 46.93 L418.80 45.13 L419.50 45.13 L419.50 46.52 L420.20 46.52 L420.20 45.10 L420.90 45.10 L420.90 46.90 L421.60 46.90 L421.60 45.25 L422.30 45.25 L422.30 45.67 L423.00 45.67 L423.00 45.91 L423.70 45.91 L423.70 46.28 L424.40 46.28 L424.40 45.98 L425.10 45.98 L425.10 46.98 L425.80 46.98 L425.80 46.65 L426.50 46.65 L426.50 46.54 L427.20 46.54 L427.20 46.70 L427.90 46.70 L427.90 45.32 L428.60 45.32 L428.60 45.94 L429.30 45.94 L429.30 45.62 L430.00 45.62 L430.00 45.03 L430.70 45.03 L430.70 45.87 L431.40 45.87 L431.40 45.13 L432.10 45.13 L432.10 45.23 L432.80 45.23 L432.80 46.06 L433.50 46.06 L433.50 45.17 L434.20 45.17 L434.20 45.20 L434.90 45.20 L434.90 46.56 L435.60 46.56 L435.60 46.95 L436.30 46.95 L436.30 44.86 L437.00 44.86 L437.00 45.70 L437.70 45.70 L437.70 45.18 L438.40 45.18 L438.40 45.08 L439.10 45.08 L439.10 45.80 L439.80 45.80 L439.80 45.35 L440.50 45.35 L440.50 45.31 L441.20 45.31 L441.20 45.70 L441.90 45.70 L441.90 43.70 L442.60 43.70 L442.60 44.02 L443.30 44.02 L443.30 42.37 L444.00 42.37 L444.00 42.52 L444.70 42.52 L444.70 41.83 L445.40 41.83 L445.40 39.71 L446.10 39.71 L446.10 40.50 L446.80 40.50 L446.80 41.60 L447.50 41.60 L447.50 38.97 L448.20 38.97 L448.20 40.30 L448.90 40.30 L448.90 44.05 L449.60 44.05 L449.60 40.72 L450.30 40.72 L450.30 39.07 L451.00 39.07 L451.00 39.91 L451.70 39.91 L451.70 42.88 L452.40 42.88 L452.40 41.94 L453.10 41.94 L453.10 43.96 L453.80 43.96 L453.80 44.10 L454.50 44.10 L454.50 46.63 L455.20 46.63 L455.20 46.37 L455.90 46.37 L455.90 45.29 L456.60 45.29 L456.60 44.71 L457.30 44.71 L457.30 44.61 L458.00 44.61 L458.00 45.00 L458.70 45.00 L458.70 45.20 L459.40 45.20 L459.40 45.18 L460.10 45.18 L460.10 45.92 L460.80 45.92 L460.80 46.10 L461.50 46.10 L461.50 46.02 L462.20 46.02 L462.20 46.82 L462.90 46.82 L462.90 44.87 L463.60 44.87 L463.60 44.89 L464.30 44.89 L464.30 44.93 L465.00 44.93 L465.00 46.62 L465.70 46.62 L465.70 45.79 L466.40 45.79 L466.40 44.62 L467.10 44.62 L467.10 45.56 L467.80 45.56 L467.80 43.93 L468.50 43.93 L468.50 45.25 L469.20 45.25 L469.20 44.53 L469.90 44.53 L469.90 47.50 Z" fill="#ababab"/>
<text x="392.90" y="40.90" font-size="7.4" text-anchor="end" fill="#2a2a2a" textLength="16.60" lengthAdjust="spacingAndGlyphs">[0-80]</text>
<text x="471.60" y="40.90" font-size="7.4" text-anchor="end" fill="#2a2a2a" textLength="16.60" lengthAdjust="spacingAndGlyphs">[0-80]</text>
<path d="M333.70 60.80 L333.70 60.35 L334.40 60.35 L334.40 60.21 L335.10 60.21 L335.10 60.28 L335.80 60.28 L335.80 60.27 L336.50 60.27 L336.50 60.26 L337.20 60.26 L337.20 60.23 L337.90 60.23 L337.90 60.35 L338.60 60.35 L338.60 60.33 L339.30 60.33 L339.30 60.12 L340.00 60.12 L340.00 60.20 L340.70 60.20 L340.70 60.15 L341.40 60.15 L341.40 60.35 L342.10 60.35 L342.10 60.10 L342.80 60.10 L342.80 60.35 L343.50 60.35 L343.50 60.09 L344.20 60.09 L344.20 60.25 L344.90 60.25 L344.90 60.13 L345.60 60.13 L345.60 60.26 L346.30 60.26 L346.30 59.98 L347.00 59.98 L347.00 60.07 L347.70 60.07 L347.70 60.00 L348.40 60.00 L348.40 60.22 L349.10 60.22 L349.10 60.31 L349.80 60.31 L349.80 60.17 L350.50 60.17 L350.50 60.17 L351.20 60.17 L351.20 60.00 L351.90 60.00 L351.90 59.90 L352.60 59.90 L352.60 59.87 L353.30 59.87 L353.30 59.49 L354.00 59.49 L354.00 60.21 L354.70 60.21 L354.70 58.65 L355.40 58.65 L355.40 59.95 L356.10 59.95 L356.10 57.26 L356.80 57.26 L356.80 57.99 L357.50 57.99 L357.50 56.44 L358.20 56.44 L358.20 55.29 L358.90 55.29 L358.90 59.31 L359.60 59.31 L359.60 56.55 L360.30 56.55 L360.30 55.35 L361.00 55.35 L361.00 58.69 L361.70 58.69 L361.70 56.28 L362.40 56.28 L362.40 57.96 L363.10 57.96 L363.10 59.23 L363.80 59.23 L363.80 59.41 L364.50 59.41 L364.50 58.08 L365.20 58.08 L365.20 55.93 L365.90 55.93 L365.90 56.32 L366.60 56.32 L366.60 55.34 L367.30 55.34 L367.30 54.46 L368.00 54.46 L368.00 58.44 L368.70 58.44 L368.70 55.57 L369.40 55.57 L369.40 54.43 L370.10 54.43 L370.10 54.72 L370.80 54.72 L370.80 59.55 L371.50 59.55 L371.50 59.43 L372.20 59.43 L372.20 56.95 L372.90 56.95 L372.90 57.66 L373.60 57.66 L373.60 58.02 L374.30 58.02 L374.30 58.61 L375.00 58.61 L375.00 60.06 L375.70 60.06 L375.70 59.61 L376.40 59.61 L376.40 59.56 L377.10 59.56 L377.10 59.51 L377.80 59.51 L377.80 60.00 L378.50 60.00 L378.50 59.82 L379.20 59.82 L379.20 59.71 L379.90 59.71 L379.90 60.12 L380.60 60.12 L380.60 60.35 L381.30 60.35 L381.30 59.87 L382.00 59.87 L382.00 59.97 L382.70 59.97 L382.70 60.04 L383.40 60.04 L383.40 60.18 L384.10 60.18 L384.10 59.97 L384.80 59.97 L384.80 60.07 L385.50 60.07 L385.50 60.16 L386.20 60.16 L386.20 60.17 L386.90 60.17 L386.90 60.35 L387.60 60.35 L387.60 60.26 L388.30 60.26 L388.30 60.24 L389.00 60.24 L389.00 60.25 L389.70 60.25 L389.70 60.15 L390.40 60.15 L390.40 60.15 L391.10 60.15 L391.10 60.35 L391.80 60.35 L391.80 60.35 L392.50 60.35 L392.50 60.80 Z" fill="#ababab"/>
<path d="M413.20 60.80 L413.20 59.44 L413.90 59.44 L413.90 59.91 L414.60 59.91 L414.60 59.40 L415.30 59.40 L415.30 60.23 L416.00 60.23 L416.00 59.93 L416.70 59.93 L416.70 59.88 L417.40 59.88 L417.40 59.52 L418.10 59.52 L418.10 59.81 L418.80 59.81 L418.80 60.01 L419.50 60.01 L419.50 60.15 L420.20 60.15 L420.20 60.32 L420.90 60.32 L420.90 59.46 L421.60 59.46 L421.60 59.07 L422.30 59.07 L422.30 59.72 L423.00 59.72 L423.00 60.27 L423.70 60.27 L423.70 59.28 L424.40 59.28 L424.40 59.23 L425.10 59.23 L425.10 59.50 L425.80 59.50 L425.80 59.52 L426.50 59.52 L426.50 59.44 L427.20 59.44 L427.20 59.46 L427.90 59.46 L427.90 59.51 L428.60 59.51 L428.60 58.97 L429.30 58.97 L429.30 60.35 L430.00 60.35 L430.00 59.30 L430.70 59.30 L430.70 59.56 L431.40 59.56 L431.40 59.85 L432.10 59.85 L432.10 58.94 L432.80 58.94 L432.80 58.99 L433.50 58.99 L433.50 59.78 L434.20 59.78 L434.20 60.17 L434.90 60.17 L434.90 60.12 L435.60 60.12 L435.60 59.53 L436.30 59.53 L436.30 59.88 L437.00 59.88 L437.00 59.87 L437.70 59.87 L437.70 57.84 L438.40 57.84 L438.40 58.43 L439.10 58.43 L439.10 57.51 L439.80 57.51 L439.80 56.73 L440.50 56.73 L440.50 56.93 L441.20 56.93 L441.20 56.97 L441.90 56.97 L441.90 57.69 L442.60 57.69 L442.60 57.98 L443.30 57.98 L443.30 57.02 L444.00 57.02 L444.00 58.33 L444.70 58.33 L444.70 58.14 L445.40 58.14 L445.40 58.71 L446.10 58.71 L446.10 58.61 L446.80 58.61 L446.80 58.62 L447.50 58.62 L447.50 58.36 L448.20 58.36 L448.20 58.29 L448.90 58.29 L448.90 58.16 L449.60 58.16 L449.60 58.20 L450.30 58.20 L450.30 56.96 L451.00 56.96 L451.00 58.23 L451.70 58.23 L451.70 56.89 L452.40 56.89 L452.40 58.22 L453.10 58.22 L453.10 57.45 L453.80 57.45 L453.80 56.27 L454.50 56.27 L454.50 58.61 L455.20 58.61 L455.20 58.54 L455.90 58.54 L455.90 58.25 L456.60 58.25 L456.60 58.98 L457.30 58.98 L457.30 58.63 L458.00 58.63 L458.00 58.38 L458.70 58.38 L458.70 59.95 L459.40 59.95 L459.40 58.95 L460.10 58.95 L460.10 59.84 L460.80 59.84 L460.80 59.41 L461.50 59.41 L461.50 58.23 L462.20 58.23 L462.20 59.68 L462.90 59.68 L462.90 59.59 L463.60 59.59 L463.60 59.69 L464.30 59.69 L464.30 58.94 L465.00 58.94 L465.00 60.26 L465.70 60.26 L465.70 60.16 L466.40 60.16 L466.40 59.99 L467.10 59.99 L467.10 60.35 L467.80 60.35 L467.80 59.24 L468.50 59.24 L468.50 60.35 L469.20 60.35 L469.20 59.09 L469.90 59.09 L469.90 60.80 Z" fill="#ababab"/>
<text x="392.90" y="54.20" font-size="7.4" text-anchor="end" fill="#2a2a2a" textLength="16.60" lengthAdjust="spacingAndGlyphs">[0-80]</text>
<text x="471.60" y="54.20" font-size="7.4" text-anchor="end" fill="#2a2a2a" textLength="16.60" lengthAdjust="spacingAndGlyphs">[0-80]</text>
<path d="M333.70 74.30 L333.70 74.30 L334.40 74.30 L334.40 74.30 L335.10 74.30 L335.10 74.30 L335.80 74.30 L335.80 74.30 L336.50 74.30 L336.50 74.30 L337.20 74.30 L337.20 74.30 L337.90 74.30 L337.90 74.30 L338.60 74.30 L338.60 74.30 L339.30 74.30 L339.30 74.30 L340.00 74.30 L340.00 74.30 L340.70 74.30 L340.70 74.30 L341.40 74.30 L341.40 74.30 L342.10 74.30 L342.10 74.30 L342.80 74.30 L342.80 74.30 L343.50 74.30 L343.50 74.30 L344.20 74.30 L344.20 74.30 L344.90 74.30 L344.90 74.30 L345.60 74.30 L345.60 74.30 L346.30 74.30 L346.30 74.30 L347.00 74.30 L347.00 74.30 L347.70 74.30 L347.70 74.30 L348.40 74.30 L348.40 74.30 L349.10 74.30 L349.10 74.30 L349.80 74.30 L349.80 74.30 L350.50 74.30 L350.50 74.30 L351.20 74.30 L351.20 74.30 L351.90 74.30 L351.90 74.30 L352.60 74.30 L352.60 74.30 L353.30 74.30 L353.30 74.30 L354.00 74.30 L354.00 74.30 L354.70 74.30 L354.70 74.30 L355.40 74.30 L355.40 74.30 L356.10 74.30 L356.10 74.30 L356.80 74.30 L356.80 74.30 L357.50 74.30 L357.50 74.30 L358.20 74.30 L358.20 74.30 L358.90 74.30 L358.90 74.09 L359.60 74.09 L359.60 73.71 L360.30 73.71 L360.30 73.20 L361.00 73.20 L361.00 72.50 L361.70 72.50 L361.70 71.93 L362.40 71.93 L362.40 71.94 L363.10 71.94 L363.10 72.39 L363.80 72.39 L363.80 72.99 L364.50 72.99 L364.50 73.60 L365.20 73.60 L365.20 73.93 L365.90 73.93 L365.90 74.30 L366.60 74.30 L366.60 74.30 L367.30 74.30 L367.30 74.30 L368.00 74.30 L368.00 74.30 L368.70 74.30 L368.70 74.30 L369.40 74.30 L369.40 74.30 L370.10 74.30 L370.10 74.30 L370.80 74.30 L370.80 74.30 L371.50 74.30 L371.50 74.30 L372.20 74.30 L372.20 74.30 L372.90 74.30 L372.90 74.30 L373.60 74.30 L373.60 74.30 L374.30 74.30 L374.30 74.30 L375.00 74.30 L375.00 74.30 L375.70 74.30 L375.70 74.30 L376.40 74.30 L376.40 74.30 L377.10 74.30 L377.10 74.30 L377.80 74.30 L377.80 74.30 L378.50 74.30 L378.50 74.30 L379.20 74.30 L379.20 74.30 L379.90 74.30 L379.90 74.30 L380.60 74.30 L380.60 74.30 L381.30 74.30 L381.30 74.30 L382.00 74.30 L382.00 74.30 L382.70 74.30 L382.70 74.30 L383.40 74.30 L383.40 74.30 L384.10 74.30 L384.10 74.30 L384.80 74.30 L384.80 74.30 L385.50 74.30 L385.50 74.30 L386.20 74.30 L386.20 74.30 L386.90 74.30 L386.90 74.30 L387.60 74.30 L387.60 74.30 L388.30 74.30 L388.30 74.30 L389.00 74.30 L389.00 74.30 L389.70 74.30 L389.70 74.30 L390.40 74.30 L390.40 74.30 L391.10 74.30 L391.10 74.30 L391.80 74.30 L391.80 74.30 L392.50 74.30 L392.50 74.30 Z" fill="#ababab"/>
<path d="M413.20 74.30 L413.20 74.30 L413.90 74.30 L413.90 74.30 L414.60 74.30 L414.60 74.30 L415.30 74.30 L415.30 74.30 L416.00 74.30 L416.00 74.30 L416.70 74.30 L416.70 74.30 L417.40 74.30 L417.40 74.30 L418.10 74.30 L418.10 74.30 L418.80 74.30 L418.80 74.30 L419.50 74.30 L419.50 74.30 L420.20 74.30 L420.20 74.30 L420.90 74.30 L420.90 74.30 L421.60 74.30 L421.60 74.30 L422.30 74.30 L422.30 74.30 L423.00 74.30 L423.00 74.30 L423.70 74.30 L423.70 74.30 L424.40 74.30 L424.40 74.30 L425.10 74.30 L425.10 74.30 L425.80 74.30 L425.80 74.30 L426.50 74.30 L426.50 74.30 L427.20 74.30 L427.20 74.30 L427.90 74.30 L427.90 74.30 L428.60 74.30 L428.60 74.30 L429.30 74.30 L429.30 74.30 L430.00 74.30 L430.00 74.30 L430.70 74.30 L430.70 74.30 L431.40 74.30 L431.40 74.30 L432.10 74.30 L432.10 74.30 L432.80 74.30 L432.80 74.30 L433.50 74.30 L433.50 74.30 L434.20 74.30 L434.20 74.30 L434.90 74.30 L434.90 74.30 L435.60 74.30 L435.60 74.30 L436.30 74.30 L436.30 74.30 L437.00 74.30 L437.00 74.30 L437.70 74.30 L437.70 74.30 L438.40 74.30 L438.40 74.30 L439.10 74.30 L439.10 74.30 L439.80 74.30 L439.80 74.30 L440.50 74.30 L440.50 74.30 L441.20 74.30 L441.20 74.30 L441.90 74.30 L441.90 74.30 L442.60 74.30 L442.60 74.30 L443.30 74.30 L443.30 74.30 L444.00 74.30 L444.00 74.30 L444.70 74.30 L444.70 74.30 L445.40 74.30 L445.40 74.03 L446.10 74.03 L446.10 73.57 L446.80 73.57 L446.80 72.97 L447.50 72.97 L447.50 72.21 L448.20 72.21 L448.20 72.46 L448.90 72.46 L448.90 72.94 L449.60 72.94 L449.60 73.49 L450.30 73.49 L450.30 73.95 L451.00 73.95 L451.00 74.30 L451.70 74.30 L451.70 74.30 L452.40 74.30 L452.40 74.30 L453.10 74.30 L453.10 74.30 L453.80 74.30 L453.80 74.30 L454.50 74.30 L454.50 74.30 L455.20 74.30 L455.20 74.30 L455.90 74.30 L455.90 74.30 L456.60 74.30 L456.60 74.30 L457.30 74.30 L457.30 74.30 L458.00 74.30 L458.00 74.30 L458.70 74.30 L458.70 74.30 L459.40 74.30 L459.40 74.30 L460.10 74.30 L460.10 74.30 L460.80 74.30 L460.80 74.30 L461.50 74.30 L461.50 74.30 L462.20 74.30 L462.20 74.30 L462.90 74.30 L462.90 74.30 L463.60 74.30 L463.60 74.30 L464.30 74.30 L464.30 74.30 L465.00 74.30 L465.00 74.30 L465.70 74.30 L465.70 74.30 L466.40 74.30 L466.40 74.30 L467.10 74.30 L467.10 74.30 L467.80 74.30 L467.80 74.30 L468.50 74.30 L468.50 74.30 L469.20 74.30 L469.20 74.30 L469.90 74.30 L469.90 74.30 Z" fill="#ababab"/>
<text x="392.90" y="67.70" font-size="7.4" text-anchor="end" fill="#2a2a2a" textLength="20.00" lengthAdjust="spacingAndGlyphs">[0-600]</text>
<text x="471.60" y="67.70" font-size="7.4" text-anchor="end" fill="#2a2a2a" textLength="20.00" lengthAdjust="spacingAndGlyphs">[0-600]</text>
<path d="M333.70 88.00 L333.70 87.27 L334.40 87.27 L334.40 87.14 L335.10 87.14 L335.10 87.55 L335.80 87.55 L335.80 87.10 L336.50 87.10 L336.50 87.55 L337.20 87.55 L337.20 87.55 L337.90 87.55 L337.90 87.32 L338.60 87.32 L338.60 87.55 L339.30 87.55 L339.30 87.34 L340.00 87.34 L340.00 87.13 L340.70 87.13 L340.70 87.23 L341.40 87.23 L341.40 87.34 L342.10 87.34 L342.10 87.40 L342.80 87.40 L342.80 87.04 L343.50 87.04 L343.50 87.36 L344.20 87.36 L344.20 86.99 L344.90 86.99 L344.90 86.97 L345.60 86.97 L345.60 87.55 L346.30 87.55 L346.30 87.55 L347.00 87.55 L347.00 87.21 L347.70 87.21 L347.70 87.19 L348.40 87.19 L348.40 87.55 L349.10 87.55 L349.10 87.32 L349.80 87.32 L349.80 87.05 L350.50 87.05 L350.50 87.35 L351.20 87.35 L351.20 87.04 L351.90 87.04 L351.90 87.36 L352.60 87.36 L352.60 86.86 L353.30 86.86 L353.30 87.07 L354.00 87.07 L354.00 86.95 L354.70 86.95 L354.70 86.94 L355.40 86.94 L355.40 87.25 L356.10 87.25 L356.10 87.31 L356.80 87.31 L356.80 87.55 L357.50 87.55 L357.50 86.82 L358.20 86.82 L358.20 86.72 L358.90 86.72 L358.90 86.61 L359.60 86.61 L359.60 85.86 L360.30 85.86 L360.30 85.81 L361.00 85.81 L361.00 87.01 L361.70 87.01 L361.70 85.79 L362.40 85.79 L362.40 86.37 L363.10 86.37 L363.10 87.12 L363.80 87.12 L363.80 87.33 L364.50 87.33 L364.50 85.94 L365.20 85.94 L365.20 86.47 L365.90 86.47 L365.90 86.08 L366.60 86.08 L366.60 86.09 L367.30 86.09 L367.30 86.31 L368.00 86.31 L368.00 86.34 L368.70 86.34 L368.70 87.03 L369.40 87.03 L369.40 87.55 L370.10 87.55 L370.10 87.36 L370.80 87.36 L370.80 87.32 L371.50 87.32 L371.50 87.55 L372.20 87.55 L372.20 87.55 L372.90 87.55 L372.90 86.95 L373.60 86.95 L373.60 87.20 L374.30 87.20 L374.30 87.55 L375.00 87.55 L375.00 87.55 L375.70 87.55 L375.70 87.55 L376.40 87.55 L376.40 87.55 L377.10 87.55 L377.10 86.97 L377.80 86.97 L377.80 87.37 L378.50 87.37 L378.50 87.28 L379.20 87.28 L379.20 87.11 L379.90 87.11 L379.90 87.07 L380.60 87.07 L380.60 87.22 L381.30 87.22 L381.30 87.07 L382.00 87.07 L382.00 87.29 L382.70 87.29 L382.70 87.29 L383.40 87.29 L383.40 87.39 L384.10 87.39 L384.10 87.07 L384.80 87.07 L384.80 86.98 L385.50 86.98 L385.50 87.55 L386.20 87.55 L386.20 87.36 L386.90 87.36 L386.90 87.22 L387.60 87.22 L387.60 87.19 L388.30 87.19 L388.30 87.05 L389.00 87.05 L389.00 87.23 L389.70 87.23 L389.70 87.55 L390.40 87.55 L390.40 87.33 L391.10 87.33 L391.10 87.55 L391.80 87.55 L391.80 87.21 L392.50 87.21 L392.50 88.00 Z" fill="#8a2a8c"/>
<path d="M413.20 88.00 L413.20 86.13 L413.90 86.13 L413.90 86.09 L414.60 86.09 L414.60 87.13 L415.30 87.13 L415.30 87.55 L416.00 87.55 L416.00 87.55 L416.70 87.55 L416.70 87.33 L417.40 87.33 L417.40 87.18 L418.10 87.18 L418.10 87.09 L418.80 87.09 L418.80 87.19 L419.50 87.19 L419.50 86.97 L420.20 86.97 L420.20 87.21 L420.90 87.21 L420.90 87.13 L421.60 87.13 L421.60 87.02 L422.30 87.02 L422.30 87.55 L423.00 87.55 L423.00 87.26 L423.70 87.26 L423.70 86.96 L424.40 86.96 L424.40 86.94 L425.10 86.94 L425.10 87.19 L425.80 87.19 L425.80 87.31 L426.50 87.31 L426.50 86.90 L427.20 86.90 L427.20 87.55 L427.90 87.55 L427.90 86.88 L428.60 86.88 L428.60 87.55 L429.30 87.55 L429.30 87.07 L430.00 87.07 L430.00 87.22 L430.70 87.22 L430.70 86.84 L431.40 86.84 L431.40 87.11 L432.10 87.11 L432.10 87.09 L432.80 87.09 L432.80 87.55 L433.50 87.55 L433.50 87.55 L434.20 87.55 L434.20 87.05 L434.90 87.05 L434.90 86.89 L435.60 86.89 L435.60 87.54 L436.30 87.54 L436.30 87.27 L437.00 87.27 L437.00 87.03 L437.70 87.03 L437.70 87.15 L438.40 87.15 L438.40 86.85 L439.10 86.85 L439.10 86.96 L439.80 86.96 L439.80 87.03 L440.50 87.03 L440.50 87.51 L441.20 87.51 L441.20 87.10 L441.90 87.10 L441.90 87.55 L442.60 87.55 L442.60 86.64 L443.30 86.64 L443.30 86.92 L444.00 86.92 L444.00 87.38 L444.70 87.38 L444.70 86.74 L445.40 86.74 L445.40 86.86 L446.10 86.86 L446.10 86.22 L446.80 86.22 L446.80 86.76 L447.50 86.76 L447.50 86.88 L448.20 86.88 L448.20 86.42 L448.90 86.42 L448.90 87.43 L449.60 87.43 L449.60 87.55 L450.30 87.55 L450.30 86.30 L451.00 86.30 L451.00 86.79 L451.70 86.79 L451.70 86.79 L452.40 86.79 L452.40 87.02 L453.10 87.02 L453.10 86.65 L453.80 86.65 L453.80 86.88 L454.50 86.88 L454.50 86.91 L455.20 86.91 L455.20 87.06 L455.90 87.06 L455.90 87.32 L456.60 87.32 L456.60 87.27 L457.30 87.27 L457.30 87.00 L458.00 87.00 L458.00 87.55 L458.70 87.55 L458.70 87.55 L459.40 87.55 L459.40 87.31 L460.10 87.31 L460.10 86.94 L460.80 86.94 L460.80 87.31 L461.50 87.31 L461.50 87.31 L462.20 87.31 L462.20 86.99 L462.90 86.99 L462.90 87.29 L463.60 87.29 L463.60 87.55 L464.30 87.55 L464.30 87.55 L465.00 87.55 L465.00 86.99 L465.70 86.99 L465.70 87.10 L466.40 87.10 L466.40 87.38 L467.10 87.38 L467.10 87.08 L467.80 87.08 L467.80 87.16 L468.50 87.16 L468.50 87.18 L469.20 87.18 L469.20 87.18 L469.90 87.18 L469.90 88.00 Z" fill="#8a2a8c"/>
<text x="392.90" y="81.40" font-size="7.4" text-anchor="end" fill="#2a2a2a" textLength="16.60" lengthAdjust="spacingAndGlyphs">[0-80]</text>
<text x="471.60" y="81.40" font-size="7.4" text-anchor="end" fill="#2a2a2a" textLength="16.60" lengthAdjust="spacingAndGlyphs">[0-80]</text>
<path d="M333.70 101.20 L333.70 101.03 L334.40 101.03 L334.40 100.93 L335.10 100.93 L335.10 101.03 L335.80 101.03 L335.80 100.94 L336.50 100.94 L336.50 100.69 L337.20 100.69 L337.20 100.75 L337.90 100.75 L337.90 101.00 L338.60 101.00 L338.60 101.04 L339.30 101.04 L339.30 100.50 L340.00 100.50 L340.00 100.91 L340.70 100.91 L340.70 100.97 L341.40 100.97 L341.40 101.04 L342.10 101.04 L342.10 100.98 L342.80 100.98 L342.80 100.56 L343.50 100.56 L343.50 100.97 L344.20 100.97 L344.20 101.00 L344.90 101.00 L344.90 100.95 L345.60 100.95 L345.60 100.90 L346.30 100.90 L346.30 100.91 L347.00 100.91 L347.00 100.43 L347.70 100.43 L347.70 100.69 L348.40 100.69 L348.40 100.93 L349.10 100.93 L349.10 100.94 L349.80 100.94 L349.80 100.41 L350.50 100.41 L350.50 100.96 L351.20 100.96 L351.20 100.89 L351.90 100.89 L351.90 100.94 L352.60 100.94 L352.60 100.92 L353.30 100.92 L353.30 100.52 L354.00 100.52 L354.00 100.88 L354.70 100.88 L354.70 100.34 L355.40 100.34 L355.40 100.83 L356.10 100.83 L356.10 100.97 L356.80 100.97 L356.80 100.83 L357.50 100.83 L357.50 100.83 L358.20 100.83 L358.20 100.93 L358.90 100.93 L358.90 100.89 L359.60 100.89 L359.60 100.91 L360.30 100.91 L360.30 100.80 L361.00 100.80 L361.00 100.95 L361.70 100.95 L361.70 100.38 L362.40 100.38 L362.40 100.95 L363.10 100.95 L363.10 100.41 L363.80 100.41 L363.80 100.55 L364.50 100.55 L364.50 100.80 L365.20 100.80 L365.20 100.84 L365.90 100.84 L365.90 100.82 L366.60 100.82 L366.60 100.91 L367.30 100.91 L367.30 100.98 L368.00 100.98 L368.00 100.93 L368.70 100.93 L368.70 100.83 L369.40 100.83 L369.40 100.55 L370.10 100.55 L370.10 100.90 L370.80 100.90 L370.80 100.63 L371.50 100.63 L371.50 101.01 L372.20 101.01 L372.20 100.98 L372.90 100.98 L372.90 100.52 L373.60 100.52 L373.60 100.95 L374.30 100.95 L374.30 100.91 L375.00 100.91 L375.00 101.01 L375.70 101.01 L375.70 100.91 L376.40 100.91 L376.40 100.56 L377.10 100.56 L377.10 100.87 L377.80 100.87 L377.80 100.71 L378.50 100.71 L378.50 100.97 L379.20 100.97 L379.20 100.91 L379.90 100.91 L379.90 100.98 L380.60 100.98 L380.60 100.91 L381.30 100.91 L381.30 100.61 L382.00 100.61 L382.00 100.54 L382.70 100.54 L382.70 100.45 L383.40 100.45 L383.40 100.96 L384.10 100.96 L384.10 100.67 L384.80 100.67 L384.80 100.92 L385.50 100.92 L385.50 101.01 L386.20 101.01 L386.20 100.95 L386.90 100.95 L386.90 101.02 L387.60 101.02 L387.60 100.49 L388.30 100.49 L388.30 100.61 L389.00 100.61 L389.00 101.00 L389.70 101.00 L389.70 100.92 L390.40 100.92 L390.40 100.95 L391.10 100.95 L391.10 100.76 L391.80 100.76 L391.80 101.01 L392.50 101.01 L392.50 101.20 Z" fill="#8a2a8c"/>
<path d="M413.20 101.20 L413.20 100.54 L413.90 100.54 L413.90 100.94 L414.60 100.94 L414.60 101.04 L415.30 101.04 L415.30 101.00 L416.00 101.00 L416.00 101.03 L416.70 101.03 L416.70 100.64 L417.40 100.64 L417.40 100.94 L418.10 100.94 L418.10 101.05 L418.80 101.05 L418.80 101.01 L419.50 101.01 L419.50 100.71 L420.20 100.71 L420.20 100.96 L420.90 100.96 L420.90 101.04 L421.60 101.04 L421.60 101.00 L422.30 101.00 L422.30 101.03 L423.00 101.03 L423.00 101.03 L423.70 101.03 L423.70 100.97 L424.40 100.97 L424.40 100.57 L425.10 100.57 L425.10 100.98 L425.80 100.98 L425.80 100.97 L426.50 100.97 L426.50 101.05 L427.20 101.05 L427.20 100.94 L427.90 100.94 L427.90 100.98 L428.60 100.98 L428.60 100.93 L429.30 100.93 L429.30 101.03 L430.00 101.03 L430.00 100.92 L430.70 100.92 L430.70 100.92 L431.40 100.92 L431.40 101.03 L432.10 101.03 L432.10 101.01 L432.80 101.01 L432.80 100.98 L433.50 100.98 L433.50 100.63 L434.20 100.63 L434.20 100.99 L434.90 100.99 L434.90 100.94 L435.60 100.94 L435.60 100.99 L436.30 100.99 L436.30 100.94 L437.00 100.94 L437.00 101.05 L437.70 101.05 L437.70 100.98 L438.40 100.98 L438.40 100.94 L439.10 100.94 L439.10 100.98 L439.80 100.98 L439.80 100.94 L440.50 100.94 L440.50 101.02 L441.20 101.02 L441.20 100.59 L441.90 100.59 L441.90 101.01 L442.60 101.01 L442.60 100.98 L443.30 100.98 L443.30 100.96 L444.00 100.96 L444.00 101.01 L444.70 101.01 L444.70 100.62 L445.40 100.62 L445.40 100.96 L446.10 100.96 L446.10 100.67 L446.80 100.67 L446.80 100.67 L447.50 100.67 L447.50 101.05 L448.20 101.05 L448.20 100.64 L448.90 100.64 L448.90 100.99 L449.60 100.99 L449.60 100.75 L450.30 100.75 L450.30 100.93 L451.00 100.93 L451.00 100.99 L451.70 100.99 L451.70 101.05 L452.40 101.05 L452.40 101.02 L453.10 101.02 L453.10 101.04 L453.80 101.04 L453.80 100.99 L454.50 100.99 L454.50 101.02 L455.20 101.02 L455.20 101.03 L455.90 101.03 L455.90 100.99 L456.60 100.99 L456.60 100.72 L457.30 100.72 L457.30 100.95 L458.00 100.95 L458.00 100.93 L458.70 100.93 L458.70 100.58 L459.40 100.58 L459.40 101.03 L460.10 101.03 L460.10 100.92 L460.80 100.92 L460.80 100.95 L461.50 100.95 L461.50 100.59 L462.20 100.59 L462.20 100.99 L462.90 100.99 L462.90 100.94 L463.60 100.94 L463.60 100.99 L464.30 100.99 L464.30 101.00 L465.00 101.00 L465.00 101.02 L465.70 101.02 L465.70 100.98 L466.40 100.98 L466.40 101.05 L467.10 101.05 L467.10 100.60 L467.80 100.60 L467.80 100.95 L468.50 100.95 L468.50 100.93 L469.20 100.93 L469.20 100.96 L469.90 100.96 L469.90 101.20 Z" fill="#8a2a8c"/>
<text x="392.90" y="94.60" font-size="7.4" text-anchor="end" fill="#2a2a2a" textLength="16.60" lengthAdjust="spacingAndGlyphs">[0-80]</text>
<text x="471.60" y="94.60" font-size="7.4" text-anchor="end" fill="#2a2a2a" textLength="16.60" lengthAdjust="spacingAndGlyphs">[0-80]</text>
<path d="M333.70 114.50 L333.70 114.50 L334.40 114.50 L334.40 114.50 L335.10 114.50 L335.10 114.50 L335.80 114.50 L335.80 114.50 L336.50 114.50 L336.50 114.50 L337.20 114.50 L337.20 114.50 L337.90 114.50 L337.90 114.50 L338.60 114.50 L338.60 114.50 L339.30 114.50 L339.30 114.50 L340.00 114.50 L340.00 114.50 L340.70 114.50 L340.70 114.50 L341.40 114.50 L341.40 114.50 L342.10 114.50 L342.10 114.50 L342.80 114.50 L342.80 114.50 L343.50 114.50 L343.50 114.50 L344.20 114.50 L344.20 114.50 L344.90 114.50 L344.90 114.50 L345.60 114.50 L345.60 114.50 L346.30 114.50 L346.30 114.50 L347.00 114.50 L347.00 114.00 L347.70 114.00 L347.70 114.50 L348.40 114.50 L348.40 114.50 L349.10 114.50 L349.10 114.50 L349.80 114.50 L349.80 114.50 L350.50 114.50 L350.50 114.50 L351.20 114.50 L351.20 114.50 L351.90 114.50 L351.90 114.50 L352.60 114.50 L352.60 114.50 L353.30 114.50 L353.30 114.50 L354.00 114.50 L354.00 114.50 L354.70 114.50 L354.70 114.50 L355.40 114.50 L355.40 114.50 L356.10 114.50 L356.10 114.35 L356.80 114.35 L356.80 114.00 L357.50 114.00 L357.50 113.75 L358.20 113.75 L358.20 113.54 L358.90 113.54 L358.90 113.33 L359.60 113.33 L359.60 113.14 L360.30 113.14 L360.30 112.95 L361.00 112.95 L361.00 112.75 L361.70 112.75 L361.70 110.20 L362.40 110.20 L362.40 109.70 L363.10 109.70 L363.10 112.50 L363.80 112.50 L363.80 112.80 L364.50 112.80 L364.50 113.10 L365.20 113.10 L365.20 113.43 L365.90 113.43 L365.90 113.77 L366.60 113.77 L366.60 114.10 L367.30 114.10 L367.30 114.41 L368.00 114.41 L368.00 114.50 L368.70 114.50 L368.70 114.50 L369.40 114.50 L369.40 114.50 L370.10 114.50 L370.10 114.50 L370.80 114.50 L370.80 114.50 L371.50 114.50 L371.50 114.50 L372.20 114.50 L372.20 114.50 L372.90 114.50 L372.90 114.10 L373.60 114.10 L373.60 114.50 L374.30 114.50 L374.30 114.50 L375.00 114.50 L375.00 114.50 L375.70 114.50 L375.70 114.50 L376.40 114.50 L376.40 114.50 L377.10 114.50 L377.10 114.50 L377.80 114.50 L377.80 114.50 L378.50 114.50 L378.50 114.50 L379.20 114.50 L379.20 114.50 L379.90 114.50 L379.90 114.50 L380.60 114.50 L380.60 114.50 L381.30 114.50 L381.30 114.50 L382.00 114.50 L382.00 114.50 L382.70 114.50 L382.70 114.50 L383.40 114.50 L383.40 114.50 L384.10 114.50 L384.10 114.50 L384.80 114.50 L384.80 114.50 L385.50 114.50 L385.50 114.50 L386.20 114.50 L386.20 114.50 L386.90 114.50 L386.90 114.50 L387.60 114.50 L387.60 114.50 L388.30 114.50 L388.30 114.50 L389.00 114.50 L389.00 114.50 L389.70 114.50 L389.70 114.50 L390.40 114.50 L390.40 114.50 L391.10 114.50 L391.10 114.50 L391.80 114.50 L391.80 114.50 L392.50 114.50 L392.50 114.50 Z" fill="#8a2a8c"/>
<path d="M413.20 114.50 L413.20 114.50 L413.90 114.50 L413.90 114.50 L414.60 114.50 L414.60 114.50 L415.30 114.50 L415.30 114.50 L416.00 114.50 L416.00 114.50 L416.70 114.50 L416.70 114.50 L417.40 114.50 L417.40 114.50 L418.10 114.50 L418.10 114.50 L418.80 114.50 L418.80 114.50 L419.50 114.50 L419.50 114.50 L420.20 114.50 L420.20 114.50 L420.90 114.50 L420.90 114.50 L421.60 114.50 L421.60 114.50 L422.30 114.50 L422.30 114.50 L423.00 114.50 L423.00 114.50 L423.70 114.50 L423.70 114.50 L424.40 114.50 L424.40 114.50 L425.10 114.50 L425.10 114.50 L425.80 114.50 L425.80 114.50 L426.50 114.50 L426.50 114.50 L427.20 114.50 L427.20 114.50 L427.90 114.50 L427.90 114.50 L428.60 114.50 L428.60 114.50 L429.30 114.50 L429.30 114.50 L430.00 114.50 L430.00 114.50 L430.70 114.50 L430.70 114.50 L431.40 114.50 L431.40 114.50 L432.10 114.50 L432.10 114.50 L432.80 114.50 L432.80 114.50 L433.50 114.50 L433.50 114.50 L434.20 114.50 L434.20 114.50 L434.90 114.50 L434.90 114.50 L435.60 114.50 L435.60 114.50 L436.30 114.50 L436.30 114.50 L437.00 114.50 L437.00 114.50 L437.70 114.50 L437.70 114.50 L438.40 114.50 L438.40 114.50 L439.10 114.50 L439.10 114.50 L439.80 114.50 L439.80 114.50 L440.50 114.50 L440.50 114.50 L441.20 114.50 L441.20 114.50 L441.90 114.50 L441.90 114.50 L442.60 114.50 L442.60 114.50 L443.30 114.50 L443.30 114.50 L444.00 114.50 L444.00 114.50 L444.70 114.50 L444.70 113.64 L445.40 113.64 L445.40 113.23 L446.10 113.23 L446.10 111.60 L446.80 111.60 L446.80 110.45 L447.50 110.45 L447.50 110.90 L448.20 110.90 L448.20 111.46 L448.90 111.46 L448.90 112.02 L449.60 112.02 L449.60 112.57 L450.30 112.57 L450.30 113.05 L451.00 113.05 L451.00 113.52 L451.70 113.52 L451.70 114.00 L452.40 114.00 L452.40 114.44 L453.10 114.44 L453.10 114.50 L453.80 114.50 L453.80 114.50 L454.50 114.50 L454.50 114.50 L455.20 114.50 L455.20 114.50 L455.90 114.50 L455.90 114.50 L456.60 114.50 L456.60 114.50 L457.30 114.50 L457.30 114.50 L458.00 114.50 L458.00 114.50 L458.70 114.50 L458.70 114.50 L459.40 114.50 L459.40 114.50 L460.10 114.50 L460.10 114.50 L460.80 114.50 L460.80 114.50 L461.50 114.50 L461.50 114.50 L462.20 114.50 L462.20 114.50 L462.90 114.50 L462.90 114.50 L463.60 114.50 L463.60 114.50 L464.30 114.50 L464.30 114.50 L465.00 114.50 L465.00 114.50 L465.70 114.50 L465.70 114.50 L466.40 114.50 L466.40 114.50 L467.10 114.50 L467.10 114.50 L467.80 114.50 L467.80 114.50 L468.50 114.50 L468.50 114.50 L469.20 114.50 L469.20 114.50 L469.90 114.50 L469.90 114.50 Z" fill="#8a2a8c"/>
<text x="392.90" y="107.90" font-size="7.4" text-anchor="end" fill="#2a2a2a" textLength="20.00" lengthAdjust="spacingAndGlyphs">[0-600]</text>
<text x="471.60" y="107.90" font-size="7.4" text-anchor="end" fill="#2a2a2a" textLength="20.00" lengthAdjust="spacingAndGlyphs">[0-600]</text>
<path d="M333.70 129.20 L333.70 128.67 L334.40 128.67 L334.40 128.01 L335.10 128.01 L335.10 128.75 L335.80 128.75 L335.80 127.75 L336.50 127.75 L336.50 128.21 L337.20 128.21 L337.20 128.52 L337.90 128.52 L337.90 128.00 L338.60 128.00 L338.60 128.49 L339.30 128.49 L339.30 128.01 L340.00 128.01 L340.00 128.75 L340.70 128.75 L340.70 128.43 L341.40 128.43 L341.40 128.34 L342.10 128.34 L342.10 127.75 L342.80 127.75 L342.80 128.43 L343.50 128.43 L343.50 128.67 L344.20 128.67 L344.20 127.95 L344.90 127.95 L344.90 128.61 L345.60 128.61 L345.60 128.29 L346.30 128.29 L346.30 128.75 L347.00 128.75 L347.00 128.73 L347.70 128.73 L347.70 128.70 L348.40 128.70 L348.40 128.21 L349.10 128.21 L349.10 128.05 L349.80 128.05 L349.80 128.71 L350.50 128.71 L350.50 128.05 L351.20 128.05 L351.20 128.15 L351.90 128.15 L351.90 127.84 L352.60 127.84 L352.60 128.15 L353.30 128.15 L353.30 128.47 L354.00 128.47 L354.00 128.14 L354.70 128.14 L354.70 127.89 L355.40 127.89 L355.40 127.11 L356.10 127.11 L356.10 126.62 L356.80 126.62 L356.80 127.06 L357.50 127.06 L357.50 127.67 L358.20 127.67 L358.20 126.16 L358.90 126.16 L358.90 124.36 L359.60 124.36 L359.60 124.92 L360.30 124.92 L360.30 126.50 L361.00 126.50 L361.00 127.60 L361.70 127.60 L361.70 121.73 L362.40 121.73 L362.40 123.75 L363.10 123.75 L363.10 124.85 L363.80 124.85 L363.80 126.95 L364.50 126.95 L364.50 124.33 L365.20 124.33 L365.20 123.66 L365.90 123.66 L365.90 126.82 L366.60 126.82 L366.60 124.73 L367.30 124.73 L367.30 125.86 L368.00 125.86 L368.00 126.73 L368.70 126.73 L368.70 126.00 L369.40 126.00 L369.40 125.34 L370.10 125.34 L370.10 125.61 L370.80 125.61 L370.80 127.83 L371.50 127.83 L371.50 126.99 L372.20 126.99 L372.20 127.10 L372.90 127.10 L372.90 127.99 L373.60 127.99 L373.60 127.22 L374.30 127.22 L374.30 128.64 L375.00 128.64 L375.00 127.44 L375.70 127.44 L375.70 128.73 L376.40 128.73 L376.40 128.20 L377.10 128.20 L377.10 128.29 L377.80 128.29 L377.80 128.69 L378.50 128.69 L378.50 128.05 L379.20 128.05 L379.20 128.29 L379.90 128.29 L379.90 128.40 L380.60 128.40 L380.60 128.06 L381.30 128.06 L381.30 128.75 L382.00 128.75 L382.00 128.42 L382.70 128.42 L382.70 128.51 L383.40 128.51 L383.40 128.19 L384.10 128.19 L384.10 128.57 L384.80 128.57 L384.80 128.57 L385.50 128.57 L385.50 128.51 L386.20 128.51 L386.20 128.75 L386.90 128.75 L386.90 128.36 L387.60 128.36 L387.60 128.10 L388.30 128.10 L388.30 128.42 L389.00 128.42 L389.00 128.50 L389.70 128.50 L389.70 128.54 L390.40 128.54 L390.40 128.22 L391.10 128.22 L391.10 128.12 L391.80 128.12 L391.80 128.09 L392.50 128.09 L392.50 129.20 Z" fill="#3f8a2c"/>
<path d="M413.20 129.20 L413.20 127.89 L413.90 127.89 L413.90 127.80 L414.60 127.80 L414.60 127.84 L415.30 127.84 L415.30 127.36 L416.00 127.36 L416.00 128.66 L416.70 128.66 L416.70 128.38 L417.40 128.38 L417.40 126.93 L418.10 126.93 L418.10 127.22 L418.80 127.22 L418.80 128.68 L419.50 128.68 L419.50 126.93 L420.20 126.93 L420.20 127.05 L420.90 127.05 L420.90 128.51 L421.60 128.51 L421.60 128.02 L422.30 128.02 L422.30 127.69 L423.00 127.69 L423.00 127.64 L423.70 127.64 L423.70 128.58 L424.40 128.58 L424.40 126.80 L425.10 126.80 L425.10 127.70 L425.80 127.70 L425.80 128.56 L426.50 128.56 L426.50 126.86 L427.20 126.86 L427.20 127.94 L427.90 127.94 L427.90 128.57 L428.60 128.57 L428.60 128.51 L429.30 128.51 L429.30 127.93 L430.00 127.93 L430.00 127.33 L430.70 127.33 L430.70 127.41 L431.40 127.41 L431.40 126.83 L432.10 126.83 L432.10 128.26 L432.80 128.26 L432.80 128.14 L433.50 128.14 L433.50 127.90 L434.20 127.90 L434.20 126.54 L434.90 126.54 L434.90 128.15 L435.60 128.15 L435.60 128.03 L436.30 128.03 L436.30 128.13 L437.00 128.13 L437.00 128.49 L437.70 128.49 L437.70 126.49 L438.40 126.49 L438.40 126.52 L439.10 126.52 L439.10 126.98 L439.80 126.98 L439.80 126.53 L440.50 126.53 L440.50 127.55 L441.20 127.55 L441.20 127.07 L441.90 127.07 L441.90 127.95 L442.60 127.95 L442.60 128.13 L443.30 128.13 L443.30 128.41 L444.00 128.41 L444.00 127.53 L444.70 127.53 L444.70 127.54 L445.40 127.54 L445.40 127.36 L446.10 127.36 L446.10 124.55 L446.80 124.55 L446.80 120.39 L447.50 120.39 L447.50 123.51 L448.20 123.51 L448.20 126.69 L448.90 126.69 L448.90 124.29 L449.60 124.29 L449.60 126.30 L450.30 126.30 L450.30 125.33 L451.00 125.33 L451.00 126.95 L451.70 126.95 L451.70 127.99 L452.40 127.99 L452.40 127.19 L453.10 127.19 L453.10 127.42 L453.80 127.42 L453.80 127.18 L454.50 127.18 L454.50 126.84 L455.20 126.84 L455.20 127.04 L455.90 127.04 L455.90 127.16 L456.60 127.16 L456.60 128.26 L457.30 128.26 L457.30 127.13 L458.00 127.13 L458.00 127.08 L458.70 127.08 L458.70 128.72 L459.40 128.72 L459.40 128.25 L460.10 128.25 L460.10 127.75 L460.80 127.75 L460.80 127.27 L461.50 127.27 L461.50 128.46 L462.20 128.46 L462.20 128.52 L462.90 128.52 L462.90 127.18 L463.60 127.18 L463.60 128.32 L464.30 128.32 L464.30 128.06 L465.00 128.06 L465.00 128.42 L465.70 128.42 L465.70 127.48 L466.40 127.48 L466.40 127.78 L467.10 127.78 L467.10 128.70 L467.80 128.70 L467.80 127.49 L468.50 127.49 L468.50 127.47 L469.20 127.47 L469.20 128.48 L469.90 128.48 L469.90 129.20 Z" fill="#3f8a2c"/>
<text x="392.90" y="122.60" font-size="7.4" text-anchor="end" fill="#2a2a2a" textLength="16.60" lengthAdjust="spacingAndGlyphs">[0-80]</text>
<text x="471.60" y="122.60" font-size="7.4" text-anchor="end" fill="#2a2a2a" textLength="16.60" lengthAdjust="spacingAndGlyphs">[0-80]</text>
<path d="M333.70 142.40 L333.70 140.91 L334.40 140.91 L334.40 141.86 L335.10 141.86 L335.10 141.53 L335.80 141.53 L335.80 141.75 L336.50 141.75 L336.50 140.67 L337.20 140.67 L337.20 140.56 L337.90 140.56 L337.90 140.35 L338.60 140.35 L338.60 141.34 L339.30 141.34 L339.30 140.26 L340.00 140.26 L340.00 141.07 L340.70 141.07 L340.70 140.56 L341.40 140.56 L341.40 141.14 L342.10 141.14 L342.10 140.41 L342.80 140.41 L342.80 141.57 L343.50 141.57 L343.50 141.58 L344.20 141.58 L344.20 141.00 L344.90 141.00 L344.90 141.71 L345.60 141.71 L345.60 141.50 L346.30 141.50 L346.30 140.64 L347.00 140.64 L347.00 140.04 L347.70 140.04 L347.70 140.87 L348.40 140.87 L348.40 140.61 L349.10 140.61 L349.10 140.79 L349.80 140.79 L349.80 140.79 L350.50 140.79 L350.50 141.80 L351.20 141.80 L351.20 141.11 L351.90 141.11 L351.90 141.85 L352.60 141.85 L352.60 140.84 L353.30 140.84 L353.30 141.27 L354.00 141.27 L354.00 141.39 L354.70 141.39 L354.70 140.57 L355.40 140.57 L355.40 141.27 L356.10 141.27 L356.10 139.74 L356.80 139.74 L356.80 140.43 L357.50 140.43 L357.50 140.17 L358.20 140.17 L358.20 141.39 L358.90 141.39 L358.90 140.51 L359.60 140.51 L359.60 141.34 L360.30 141.34 L360.30 140.68 L361.00 140.68 L361.00 139.90 L361.70 139.90 L361.70 140.15 L362.40 140.15 L362.40 141.32 L363.10 141.32 L363.10 141.14 L363.80 141.14 L363.80 140.32 L364.50 140.32 L364.50 140.26 L365.20 140.26 L365.20 141.01 L365.90 141.01 L365.90 140.72 L366.60 140.72 L366.60 140.84 L367.30 140.84 L367.30 138.20 L368.00 138.20 L368.00 140.53 L368.70 140.53 L368.70 140.00 L369.40 140.00 L369.40 141.26 L370.10 141.26 L370.10 140.13 L370.80 140.13 L370.80 140.74 L371.50 140.74 L371.50 140.46 L372.20 140.46 L372.20 138.26 L372.90 138.26 L372.90 137.06 L373.60 137.06 L373.60 140.05 L374.30 140.05 L374.30 137.64 L375.00 137.64 L375.00 140.88 L375.70 140.88 L375.70 140.29 L376.40 140.29 L376.40 138.15 L377.10 138.15 L377.10 138.75 L377.80 138.75 L377.80 138.69 L378.50 138.69 L378.50 139.54 L379.20 139.54 L379.20 141.72 L379.90 141.72 L379.90 140.73 L380.60 140.73 L380.60 140.12 L381.30 140.12 L381.30 141.38 L382.00 141.38 L382.00 141.42 L382.70 141.42 L382.70 140.52 L383.40 140.52 L383.40 139.94 L384.10 139.94 L384.10 140.86 L384.80 140.86 L384.80 141.13 L385.50 141.13 L385.50 141.85 L386.20 141.85 L386.20 140.67 L386.90 140.67 L386.90 140.53 L387.60 140.53 L387.60 139.83 L388.30 139.83 L388.30 141.57 L389.00 141.57 L389.00 141.43 L389.70 141.43 L389.70 140.17 L390.40 140.17 L390.40 141.40 L391.10 141.40 L391.10 140.98 L391.80 140.98 L391.80 140.55 L392.50 140.55 L392.50 142.40 Z" fill="#3f8a2c"/>
<path d="M413.20 142.40 L413.20 141.22 L413.90 141.22 L413.90 141.15 L414.60 141.15 L414.60 141.63 L415.30 141.63 L415.30 141.93 L416.00 141.93 L416.00 141.38 L416.70 141.38 L416.70 141.29 L417.40 141.29 L417.40 141.62 L418.10 141.62 L418.10 141.85 L418.80 141.85 L418.80 141.95 L419.50 141.95 L419.50 141.18 L420.20 141.18 L420.20 141.91 L420.90 141.91 L420.90 141.18 L421.60 141.18 L421.60 141.51 L422.30 141.51 L422.30 141.43 L423.00 141.43 L423.00 141.13 L423.70 141.13 L423.70 141.95 L424.40 141.95 L424.40 140.92 L425.10 140.92 L425.10 141.28 L425.80 141.28 L425.80 141.95 L426.50 141.95 L426.50 141.89 L427.20 141.89 L427.20 141.54 L427.90 141.54 L427.90 141.72 L428.60 141.72 L428.60 141.58 L429.30 141.58 L429.30 141.83 L430.00 141.83 L430.00 141.05 L430.70 141.05 L430.70 140.91 L431.40 140.91 L431.40 140.21 L432.10 140.21 L432.10 141.54 L432.80 141.54 L432.80 140.24 L433.50 140.24 L433.50 140.63 L434.20 140.63 L434.20 141.43 L434.90 141.43 L434.90 140.07 L435.60 140.07 L435.60 141.00 L436.30 141.00 L436.30 141.71 L437.00 141.71 L437.00 141.68 L437.70 141.68 L437.70 139.86 L438.40 139.86 L438.40 141.06 L439.10 141.06 L439.10 141.81 L439.80 141.81 L439.80 139.99 L440.50 139.99 L440.50 140.86 L441.20 140.86 L441.20 141.42 L441.90 141.42 L441.90 140.35 L442.60 140.35 L442.60 140.72 L443.30 140.72 L443.30 141.31 L444.00 141.31 L444.00 141.08 L444.70 141.08 L444.70 139.98 L445.40 139.98 L445.40 141.11 L446.10 141.11 L446.10 141.74 L446.80 141.74 L446.80 141.57 L447.50 141.57 L447.50 141.36 L448.20 141.36 L448.20 139.94 L448.90 139.94 L448.90 140.98 L449.60 140.98 L449.60 140.07 L450.30 140.07 L450.30 140.81 L451.00 140.81 L451.00 141.70 L451.70 141.70 L451.70 141.21 L452.40 141.21 L452.40 139.67 L453.10 139.67 L453.10 141.07 L453.80 141.07 L453.80 140.11 L454.50 140.11 L454.50 139.63 L455.20 139.63 L455.20 139.66 L455.90 139.66 L455.90 139.77 L456.60 139.77 L456.60 141.23 L457.30 141.23 L457.30 140.17 L458.00 140.17 L458.00 141.17 L458.70 141.17 L458.70 141.31 L459.40 141.31 L459.40 141.34 L460.10 141.34 L460.10 139.77 L460.80 139.77 L460.80 140.37 L461.50 140.37 L461.50 141.37 L462.20 141.37 L462.20 140.96 L462.90 140.96 L462.90 141.20 L463.60 141.20 L463.60 141.53 L464.30 141.53 L464.30 139.84 L465.00 139.84 L465.00 139.87 L465.70 139.87 L465.70 141.71 L466.40 141.71 L466.40 140.06 L467.10 140.06 L467.10 141.44 L467.80 141.44 L467.80 140.43 L468.50 140.43 L468.50 141.07 L469.20 141.07 L469.20 140.22 L469.90 140.22 L469.90 142.40 Z" fill="#3f8a2c"/>
<text x="392.90" y="135.80" font-size="7.4" text-anchor="end" fill="#2a2a2a" textLength="16.60" lengthAdjust="spacingAndGlyphs">[0-80]</text>
<text x="471.60" y="135.80" font-size="7.4" text-anchor="end" fill="#2a2a2a" textLength="16.60" lengthAdjust="spacingAndGlyphs">[0-80]</text>
<path d="M333.70 156.00 L333.70 156.00 L334.40 156.00 L334.40 156.00 L335.10 156.00 L335.10 156.00 L335.80 156.00 L335.80 156.00 L336.50 156.00 L336.50 156.00 L337.20 156.00 L337.20 156.00 L337.90 156.00 L337.90 156.00 L338.60 156.00 L338.60 156.00 L339.30 156.00 L339.30 156.00 L340.00 156.00 L340.00 156.00 L340.70 156.00 L340.70 156.00 L341.40 156.00 L341.40 156.00 L342.10 156.00 L342.10 156.00 L342.80 156.00 L342.80 156.00 L343.50 156.00 L343.50 156.00 L344.20 156.00 L344.20 156.00 L344.90 156.00 L344.90 156.00 L345.60 156.00 L345.60 156.00 L346.30 156.00 L346.30 156.00 L347.00 156.00 L347.00 156.00 L347.70 156.00 L347.70 156.00 L348.40 156.00 L348.40 156.00 L349.10 156.00 L349.10 156.00 L349.80 156.00 L349.80 156.00 L350.50 156.00 L350.50 156.00 L351.20 156.00 L351.20 156.00 L351.90 156.00 L351.90 156.00 L352.60 156.00 L352.60 156.00 L353.30 156.00 L353.30 156.00 L354.00 156.00 L354.00 156.00 L354.70 156.00 L354.70 156.00 L355.40 156.00 L355.40 156.00 L356.10 156.00 L356.10 156.00 L356.80 156.00 L356.80 156.00 L357.50 156.00 L357.50 156.00 L358.20 156.00 L358.20 156.00 L358.90 156.00 L358.90 155.93 L359.60 155.93 L359.60 155.47 L360.30 155.47 L360.30 154.86 L361.00 154.86 L361.00 154.07 L361.70 154.07 L361.70 153.21 L362.40 153.21 L362.40 152.18 L363.10 152.18 L363.10 152.05 L363.80 152.05 L363.80 153.10 L364.50 153.10 L364.50 153.92 L365.20 153.92 L365.20 154.66 L365.90 154.66 L365.90 155.39 L366.60 155.39 L366.60 155.80 L367.30 155.80 L367.30 156.00 L368.00 156.00 L368.00 156.00 L368.70 156.00 L368.70 156.00 L369.40 156.00 L369.40 156.00 L370.10 156.00 L370.10 156.00 L370.80 156.00 L370.80 156.00 L371.50 156.00 L371.50 156.00 L372.20 156.00 L372.20 156.00 L372.90 156.00 L372.90 156.00 L373.60 156.00 L373.60 156.00 L374.30 156.00 L374.30 156.00 L375.00 156.00 L375.00 156.00 L375.70 156.00 L375.70 156.00 L376.40 156.00 L376.40 156.00 L377.10 156.00 L377.10 156.00 L377.80 156.00 L377.80 156.00 L378.50 156.00 L378.50 156.00 L379.20 156.00 L379.20 156.00 L379.90 156.00 L379.90 156.00 L380.60 156.00 L380.60 156.00 L381.30 156.00 L381.30 156.00 L382.00 156.00 L382.00 156.00 L382.70 156.00 L382.70 156.00 L383.40 156.00 L383.40 156.00 L384.10 156.00 L384.10 156.00 L384.80 156.00 L384.80 156.00 L385.50 156.00 L385.50 156.00 L386.20 156.00 L386.20 156.00 L386.90 156.00 L386.90 156.00 L387.60 156.00 L387.60 156.00 L388.30 156.00 L388.30 156.00 L389.00 156.00 L389.00 156.00 L389.70 156.00 L389.70 156.00 L390.40 156.00 L390.40 156.00 L391.10 156.00 L391.10 156.00 L391.80 156.00 L391.80 156.00 L392.50 156.00 L392.50 156.00 Z" fill="#3f8a2c"/>
<path d="M413.20 156.00 L413.20 156.00 L413.90 156.00 L413.90 156.00 L414.60 156.00 L414.60 156.00 L415.30 156.00 L415.30 156.00 L416.00 156.00 L416.00 156.00 L416.70 156.00 L416.70 156.00 L417.40 156.00 L417.40 156.00 L418.10 156.00 L418.10 156.00 L418.80 156.00 L418.80 156.00 L419.50 156.00 L419.50 156.00 L420.20 156.00 L420.20 156.00 L420.90 156.00 L420.90 156.00 L421.60 156.00 L421.60 156.00 L422.30 156.00 L422.30 156.00 L423.00 156.00 L423.00 156.00 L423.70 156.00 L423.70 156.00 L424.40 156.00 L424.40 156.00 L425.10 156.00 L425.10 156.00 L425.80 156.00 L425.80 156.00 L426.50 156.00 L426.50 156.00 L427.20 156.00 L427.20 156.00 L427.90 156.00 L427.90 156.00 L428.60 156.00 L428.60 156.00 L429.30 156.00 L429.30 156.00 L430.00 156.00 L430.00 156.00 L430.70 156.00 L430.70 156.00 L431.40 156.00 L431.40 156.00 L432.10 156.00 L432.10 156.00 L432.80 156.00 L432.80 156.00 L433.50 156.00 L433.50 156.00 L434.20 156.00 L434.20 156.00 L434.90 156.00 L434.90 156.00 L435.60 156.00 L435.60 156.00 L436.30 156.00 L436.30 156.00 L437.00 156.00 L437.00 156.00 L437.70 156.00 L437.70 156.00 L438.40 156.00 L438.40 156.00 L439.10 156.00 L439.10 156.00 L439.80 156.00 L439.80 156.00 L440.50 156.00 L440.50 156.00 L441.20 156.00 L441.20 156.00 L441.90 156.00 L441.90 156.00 L442.60 156.00 L442.60 156.00 L443.30 156.00 L443.30 156.00 L444.00 156.00 L444.00 156.00 L444.70 156.00 L444.70 156.00 L445.40 156.00 L445.40 155.71 L446.10 155.71 L446.10 153.73 L446.80 153.73 L446.80 151.87 L447.50 151.87 L447.50 151.31 L448.20 151.31 L448.20 152.49 L448.90 152.49 L448.90 153.48 L449.60 153.48 L449.60 154.32 L450.30 154.32 L450.30 155.16 L451.00 155.16 L451.00 155.83 L451.70 155.83 L451.70 156.00 L452.40 156.00 L452.40 156.00 L453.10 156.00 L453.10 156.00 L453.80 156.00 L453.80 156.00 L454.50 156.00 L454.50 156.00 L455.20 156.00 L455.20 156.00 L455.90 156.00 L455.90 156.00 L456.60 156.00 L456.60 156.00 L457.30 156.00 L457.30 156.00 L458.00 156.00 L458.00 156.00 L458.70 156.00 L458.70 156.00 L459.40 156.00 L459.40 156.00 L460.10 156.00 L460.10 156.00 L460.80 156.00 L460.80 156.00 L461.50 156.00 L461.50 156.00 L462.20 156.00 L462.20 156.00 L462.90 156.00 L462.90 156.00 L463.60 156.00 L463.60 156.00 L464.30 156.00 L464.30 156.00 L465.00 156.00 L465.00 156.00 L465.70 156.00 L465.70 156.00 L466.40 156.00 L466.40 156.00 L467.10 156.00 L467.10 156.00 L467.80 156.00 L467.80 156.00 L468.50 156.00 L468.50 156.00 L469.20 156.00 L469.20 156.00 L469.90 156.00 L469.90 156.00 Z" fill="#3f8a2c"/>
<text x="392.90" y="149.40" font-size="7.4" text-anchor="end" fill="#2a2a2a" textLength="20.00" lengthAdjust="spacingAndGlyphs">[0-600]</text>
<text x="471.60" y="149.40" font-size="7.4" text-anchor="end" fill="#2a2a2a" textLength="20.00" lengthAdjust="spacingAndGlyphs">[0-600]</text>
<path d="M333.70 169.20 L333.70 167.48 L334.40 167.48 L334.40 167.42 L335.10 167.42 L335.10 167.58 L335.80 167.58 L335.80 167.43 L336.50 167.43 L336.50 167.70 L337.20 167.70 L337.20 167.54 L337.90 167.54 L337.90 167.48 L338.60 167.48 L338.60 168.39 L339.30 168.39 L339.30 168.71 L340.00 168.71 L340.00 168.16 L340.70 168.16 L340.70 168.13 L341.40 168.13 L341.40 167.33 L342.10 167.33 L342.10 167.47 L342.80 167.47 L342.80 167.62 L343.50 167.62 L343.50 168.15 L344.20 168.15 L344.20 167.80 L344.90 167.80 L344.90 167.57 L345.60 167.57 L345.60 167.75 L346.30 167.75 L346.30 167.69 L347.00 167.69 L347.00 168.12 L347.70 168.12 L347.70 168.17 L348.40 168.17 L348.40 167.27 L349.10 167.27 L349.10 167.27 L349.80 167.27 L349.80 167.28 L350.50 167.28 L350.50 167.50 L351.20 167.50 L351.20 168.17 L351.90 168.17 L351.90 167.70 L352.60 167.70 L352.60 167.60 L353.30 167.60 L353.30 168.47 L354.00 168.47 L354.00 168.21 L354.70 168.21 L354.70 167.62 L355.40 167.62 L355.40 168.75 L356.10 168.75 L356.10 167.17 L356.80 167.17 L356.80 167.50 L357.50 167.50 L357.50 167.88 L358.20 167.88 L358.20 167.67 L358.90 167.67 L358.90 168.56 L359.60 168.56 L359.60 167.98 L360.30 167.98 L360.30 167.60 L361.00 167.60 L361.00 167.25 L361.70 167.25 L361.70 167.14 L362.40 167.14 L362.40 168.03 L363.10 168.03 L363.10 168.24 L363.80 168.24 L363.80 167.30 L364.50 167.30 L364.50 167.27 L365.20 167.27 L365.20 168.22 L365.90 168.22 L365.90 167.74 L366.60 167.74 L366.60 167.98 L367.30 167.98 L367.30 167.62 L368.00 167.62 L368.00 167.37 L368.70 167.37 L368.70 167.61 L369.40 167.61 L369.40 168.31 L370.10 168.31 L370.10 167.71 L370.80 167.71 L370.80 167.89 L371.50 167.89 L371.50 168.45 L372.20 168.45 L372.20 168.35 L372.90 168.35 L372.90 168.61 L373.60 168.61 L373.60 168.14 L374.30 168.14 L374.30 168.14 L375.00 168.14 L375.00 167.51 L375.70 167.51 L375.70 167.54 L376.40 167.54 L376.40 168.45 L377.10 168.45 L377.10 167.58 L377.80 167.58 L377.80 167.57 L378.50 167.57 L378.50 167.64 L379.20 167.64 L379.20 167.44 L379.90 167.44 L379.90 167.49 L380.60 167.49 L380.60 168.75 L381.30 168.75 L381.30 167.17 L382.00 167.17 L382.00 167.38 L382.70 167.38 L382.70 168.30 L383.40 168.30 L383.40 168.38 L384.10 168.38 L384.10 168.02 L384.80 168.02 L384.80 168.43 L385.50 168.43 L385.50 167.90 L386.20 167.90 L386.20 167.48 L386.90 167.48 L386.90 168.31 L387.60 168.31 L387.60 167.37 L388.30 167.37 L388.30 167.60 L389.00 167.60 L389.00 167.17 L389.70 167.17 L389.70 167.28 L390.40 167.28 L390.40 167.87 L391.10 167.87 L391.10 168.73 L391.80 168.73 L391.80 167.52 L392.50 167.52 L392.50 169.20 Z" fill="#e8901f"/>
<path d="M413.20 169.20 L413.20 167.14 L413.90 167.14 L413.90 167.47 L414.60 167.47 L414.60 167.66 L415.30 167.66 L415.30 168.35 L416.00 168.35 L416.00 168.09 L416.70 168.09 L416.70 167.16 L417.40 167.16 L417.40 167.58 L418.10 167.58 L418.10 167.63 L418.80 167.63 L418.80 167.79 L419.50 167.79 L419.50 167.22 L420.20 167.22 L420.20 168.51 L420.90 168.51 L420.90 167.10 L421.60 167.10 L421.60 168.08 L422.30 168.08 L422.30 167.20 L423.00 167.20 L423.00 168.16 L423.70 168.16 L423.70 168.68 L424.40 168.68 L424.40 166.98 L425.10 166.98 L425.10 167.29 L425.80 167.29 L425.80 167.16 L426.50 167.16 L426.50 168.29 L427.20 168.29 L427.20 167.05 L427.90 167.05 L427.90 167.69 L428.60 167.69 L428.60 168.60 L429.30 168.60 L429.30 167.24 L430.00 167.24 L430.00 166.94 L430.70 166.94 L430.70 168.36 L431.40 168.36 L431.40 168.03 L432.10 168.03 L432.10 167.51 L432.80 167.51 L432.80 167.52 L433.50 167.52 L433.50 168.02 L434.20 168.02 L434.20 168.58 L434.90 168.58 L434.90 166.95 L435.60 166.95 L435.60 167.36 L436.30 167.36 L436.30 168.08 L437.00 168.08 L437.00 167.14 L437.70 167.14 L437.70 167.03 L438.40 167.03 L438.40 167.05 L439.10 167.05 L439.10 167.67 L439.80 167.67 L439.80 168.08 L440.50 168.08 L440.50 167.77 L441.20 167.77 L441.20 167.97 L441.90 167.97 L441.90 167.82 L442.60 167.82 L442.60 168.70 L443.30 168.70 L443.30 167.07 L444.00 167.07 L444.00 167.90 L444.70 167.90 L444.70 168.68 L445.40 168.68 L445.40 168.23 L446.10 168.23 L446.10 167.04 L446.80 167.04 L446.80 167.85 L447.50 167.85 L447.50 168.14 L448.20 168.14 L448.20 167.30 L448.90 167.30 L448.90 167.49 L449.60 167.49 L449.60 167.38 L450.30 167.38 L450.30 168.50 L451.00 168.50 L451.00 167.34 L451.70 167.34 L451.70 168.16 L452.40 168.16 L452.40 167.70 L453.10 167.70 L453.10 167.85 L453.80 167.85 L453.80 167.87 L454.50 167.87 L454.50 168.55 L455.20 168.55 L455.20 168.13 L455.90 168.13 L455.90 167.93 L456.60 167.93 L456.60 168.52 L457.30 168.52 L457.30 166.86 L458.00 166.86 L458.00 168.35 L458.70 168.35 L458.70 167.77 L459.40 167.77 L459.40 167.87 L460.10 167.87 L460.10 167.93 L460.80 167.93 L460.80 167.16 L461.50 167.16 L461.50 167.60 L462.20 167.60 L462.20 167.36 L462.90 167.36 L462.90 168.21 L463.60 168.21 L463.60 167.57 L464.30 167.57 L464.30 166.45 L465.00 166.45 L465.00 166.88 L465.70 166.88 L465.70 167.42 L466.40 167.42 L466.40 167.84 L467.10 167.84 L467.10 167.60 L467.80 167.60 L467.80 167.39 L468.50 167.39 L468.50 168.01 L469.20 168.01 L469.20 167.84 L469.90 167.84 L469.90 169.20 Z" fill="#e8901f"/>
<text x="392.90" y="162.60" font-size="7.4" text-anchor="end" fill="#2a2a2a" textLength="16.60" lengthAdjust="spacingAndGlyphs">[0-80]</text>
<text x="471.60" y="162.60" font-size="7.4" text-anchor="end" fill="#2a2a2a" textLength="16.60" lengthAdjust="spacingAndGlyphs">[0-80]</text>
<path d="M333.70 182.90 L333.70 182.39 L334.40 182.39 L334.40 182.32 L335.10 182.32 L335.10 182.59 L335.80 182.59 L335.80 182.71 L336.50 182.71 L336.50 182.40 L337.20 182.40 L337.20 182.22 L337.90 182.22 L337.90 182.28 L338.60 182.28 L338.60 182.20 L339.30 182.20 L339.30 182.66 L340.00 182.66 L340.00 182.68 L340.70 182.68 L340.70 182.62 L341.40 182.62 L341.40 182.25 L342.10 182.25 L342.10 182.69 L342.80 182.69 L342.80 182.10 L343.50 182.10 L343.50 182.37 L344.20 182.37 L344.20 182.23 L344.90 182.23 L344.90 182.30 L345.60 182.30 L345.60 182.35 L346.30 182.35 L346.30 182.61 L347.00 182.61 L347.00 182.18 L347.70 182.18 L347.70 181.99 L348.40 181.99 L348.40 182.69 L349.10 182.69 L349.10 182.65 L349.80 182.65 L349.80 182.03 L350.50 182.03 L350.50 182.56 L351.20 182.56 L351.20 182.53 L351.90 182.53 L351.90 182.58 L352.60 182.58 L352.60 182.54 L353.30 182.54 L353.30 182.65 L354.00 182.65 L354.00 182.15 L354.70 182.15 L354.70 182.64 L355.40 182.64 L355.40 182.54 L356.10 182.54 L356.10 182.60 L356.80 182.60 L356.80 182.66 L357.50 182.66 L357.50 182.68 L358.20 182.68 L358.20 182.57 L358.90 182.57 L358.90 182.25 L359.60 182.25 L359.60 182.56 L360.30 182.56 L360.30 182.63 L361.00 182.63 L361.00 182.53 L361.70 182.53 L361.70 181.71 L362.40 181.71 L362.40 182.50 L363.10 182.50 L363.10 181.90 L363.80 181.90 L363.80 182.06 L364.50 182.06 L364.50 182.60 L365.20 182.60 L365.20 181.70 L365.90 181.70 L365.90 181.92 L366.60 181.92 L366.60 182.47 L367.30 182.47 L367.30 181.81 L368.00 181.81 L368.00 181.78 L368.70 181.78 L368.70 181.93 L369.40 181.93 L369.40 181.87 L370.10 181.87 L370.10 181.98 L370.80 181.98 L370.80 181.87 L371.50 181.87 L371.50 182.63 L372.20 182.63 L372.20 182.48 L372.90 182.48 L372.90 182.27 L373.60 182.27 L373.60 182.49 L374.30 182.49 L374.30 181.99 L375.00 181.99 L375.00 182.65 L375.70 182.65 L375.70 182.64 L376.40 182.64 L376.40 182.60 L377.10 182.60 L377.10 182.68 L377.80 182.68 L377.80 182.57 L378.50 182.57 L378.50 182.40 L379.20 182.40 L379.20 182.30 L379.90 182.30 L379.90 182.57 L380.60 182.57 L380.60 182.57 L381.30 182.57 L381.30 182.26 L382.00 182.26 L382.00 182.56 L382.70 182.56 L382.70 182.57 L383.40 182.57 L383.40 182.58 L384.10 182.58 L384.10 182.64 L384.80 182.64 L384.80 182.32 L385.50 182.32 L385.50 182.34 L386.20 182.34 L386.20 182.68 L386.90 182.68 L386.90 182.43 L387.60 182.43 L387.60 182.25 L388.30 182.25 L388.30 182.57 L389.00 182.57 L389.00 182.37 L389.70 182.37 L389.70 182.09 L390.40 182.09 L390.40 182.63 L391.10 182.63 L391.10 182.74 L391.80 182.74 L391.80 182.68 L392.50 182.68 L392.50 182.90 Z" fill="#e8901f"/>
<path d="M413.20 182.90 L413.20 182.68 L413.90 182.68 L413.90 182.69 L414.60 182.69 L414.60 182.34 L415.30 182.34 L415.30 182.67 L416.00 182.67 L416.00 182.31 L416.70 182.31 L416.70 182.68 L417.40 182.68 L417.40 182.61 L418.10 182.61 L418.10 182.61 L418.80 182.61 L418.80 182.60 L419.50 182.60 L419.50 182.66 L420.20 182.66 L420.20 182.39 L420.90 182.39 L420.90 182.60 L421.60 182.60 L421.60 182.66 L422.30 182.66 L422.30 182.72 L423.00 182.72 L423.00 182.58 L423.70 182.58 L423.70 182.22 L424.40 182.22 L424.40 182.64 L425.10 182.64 L425.10 182.70 L425.80 182.70 L425.80 182.59 L426.50 182.59 L426.50 182.68 L427.20 182.68 L427.20 182.61 L427.90 182.61 L427.90 182.62 L428.60 182.62 L428.60 182.71 L429.30 182.71 L429.30 182.19 L430.00 182.19 L430.00 182.73 L430.70 182.73 L430.70 182.32 L431.40 182.32 L431.40 182.19 L432.10 182.19 L432.10 182.23 L432.80 182.23 L432.80 182.68 L433.50 182.68 L433.50 182.67 L434.20 182.67 L434.20 182.63 L434.90 182.63 L434.90 182.71 L435.60 182.71 L435.60 182.62 L436.30 182.62 L436.30 182.66 L437.00 182.66 L437.00 182.69 L437.70 182.69 L437.70 182.25 L438.40 182.25 L438.40 182.72 L439.10 182.72 L439.10 182.68 L439.80 182.68 L439.80 182.62 L440.50 182.62 L440.50 182.35 L441.20 182.35 L441.20 182.58 L441.90 182.58 L441.90 182.65 L442.60 182.65 L442.60 182.61 L443.30 182.61 L443.30 182.61 L444.00 182.61 L444.00 182.16 L444.70 182.16 L444.70 182.65 L445.40 182.65 L445.40 182.36 L446.10 182.36 L446.10 182.67 L446.80 182.67 L446.80 182.64 L447.50 182.64 L447.50 182.72 L448.20 182.72 L448.20 182.63 L448.90 182.63 L448.90 182.60 L449.60 182.60 L449.60 182.26 L450.30 182.26 L450.30 182.73 L451.00 182.73 L451.00 182.36 L451.70 182.36 L451.70 182.69 L452.40 182.69 L452.40 182.61 L453.10 182.61 L453.10 182.73 L453.80 182.73 L453.80 182.61 L454.50 182.61 L454.50 182.60 L455.20 182.60 L455.20 182.64 L455.90 182.64 L455.90 182.65 L456.60 182.65 L456.60 182.33 L457.30 182.33 L457.30 182.69 L458.00 182.69 L458.00 182.60 L458.70 182.60 L458.70 182.61 L459.40 182.61 L459.40 182.66 L460.10 182.66 L460.10 182.36 L460.80 182.36 L460.80 182.25 L461.50 182.25 L461.50 182.73 L462.20 182.73 L462.20 182.72 L462.90 182.72 L462.90 182.74 L463.60 182.74 L463.60 182.72 L464.30 182.72 L464.30 182.68 L465.00 182.68 L465.00 182.67 L465.70 182.67 L465.70 182.61 L466.40 182.61 L466.40 182.26 L467.10 182.26 L467.10 182.58 L467.80 182.58 L467.80 182.73 L468.50 182.73 L468.50 182.59 L469.20 182.59 L469.20 182.68 L469.90 182.68 L469.90 182.90 Z" fill="#e8901f"/>
<text x="392.90" y="176.30" font-size="7.4" text-anchor="end" fill="#2a2a2a" textLength="16.60" lengthAdjust="spacingAndGlyphs">[0-80]</text>
<text x="471.60" y="176.30" font-size="7.4" text-anchor="end" fill="#2a2a2a" textLength="16.60" lengthAdjust="spacingAndGlyphs">[0-80]</text>
<path d="M333.70 196.10 L333.70 196.10 L334.40 196.10 L334.40 196.10 L335.10 196.10 L335.10 196.10 L335.80 196.10 L335.80 196.10 L336.50 196.10 L336.50 196.10 L337.20 196.10 L337.20 196.10 L337.90 196.10 L337.90 196.10 L338.60 196.10 L338.60 196.10 L339.30 196.10 L339.30 196.10 L340.00 196.10 L340.00 196.10 L340.70 196.10 L340.70 196.10 L341.40 196.10 L341.40 196.10 L342.10 196.10 L342.10 196.10 L342.80 196.10 L342.80 196.10 L343.50 196.10 L343.50 196.10 L344.20 196.10 L344.20 196.10 L344.90 196.10 L344.90 196.10 L345.60 196.10 L345.60 196.10 L346.30 196.10 L346.30 196.10 L347.00 196.10 L347.00 196.10 L347.70 196.10 L347.70 196.10 L348.40 196.10 L348.40 196.10 L349.10 196.10 L349.10 196.10 L349.80 196.10 L349.80 196.10 L350.50 196.10 L350.50 195.80 L351.20 195.80 L351.20 195.79 L351.90 195.79 L351.90 195.78 L352.60 195.78 L352.60 195.77 L353.30 195.77 L353.30 195.76 L354.00 195.76 L354.00 195.75 L354.70 195.75 L354.70 195.74 L355.40 195.74 L355.40 195.73 L356.10 195.73 L356.10 195.73 L356.80 195.73 L356.80 195.72 L357.50 195.72 L357.50 195.71 L358.20 195.71 L358.20 195.38 L358.90 195.38 L358.90 194.26 L359.60 194.26 L359.60 192.84 L360.30 192.84 L360.30 191.37 L361.00 191.37 L361.00 189.90 L361.70 189.90 L361.70 187.75 L362.40 187.75 L362.40 185.60 L363.10 185.60 L363.10 187.06 L363.80 187.06 L363.80 188.80 L364.50 188.80 L364.50 190.90 L365.20 190.90 L365.20 192.11 L365.90 192.11 L365.90 193.33 L366.60 193.33 L366.60 193.98 L367.30 193.98 L367.30 194.54 L368.00 194.54 L368.00 195.10 L368.70 195.10 L368.70 195.34 L369.40 195.34 L369.40 195.59 L370.10 195.59 L370.10 195.81 L370.80 195.81 L370.80 195.92 L371.50 195.92 L371.50 196.02 L372.20 196.02 L372.20 196.10 L372.90 196.10 L372.90 196.10 L373.60 196.10 L373.60 196.10 L374.30 196.10 L374.30 196.10 L375.00 196.10 L375.00 196.10 L375.70 196.10 L375.70 196.10 L376.40 196.10 L376.40 196.10 L377.10 196.10 L377.10 196.10 L377.80 196.10 L377.80 196.10 L378.50 196.10 L378.50 196.10 L379.20 196.10 L379.20 196.10 L379.90 196.10 L379.90 196.10 L380.60 196.10 L380.60 196.10 L381.30 196.10 L381.30 196.10 L382.00 196.10 L382.00 196.10 L382.70 196.10 L382.70 196.10 L383.40 196.10 L383.40 196.10 L384.10 196.10 L384.10 196.10 L384.80 196.10 L384.80 196.10 L385.50 196.10 L385.50 196.10 L386.20 196.10 L386.20 196.10 L386.90 196.10 L386.90 196.10 L387.60 196.10 L387.60 196.10 L388.30 196.10 L388.30 196.10 L389.00 196.10 L389.00 196.10 L389.70 196.10 L389.70 196.10 L390.40 196.10 L390.40 196.10 L391.10 196.10 L391.10 196.10 L391.80 196.10 L391.80 196.10 L392.50 196.10 L392.50 196.10 Z" fill="#e8901f"/>
<path d="M413.20 196.10 L413.20 196.10 L413.90 196.10 L413.90 196.10 L414.60 196.10 L414.60 196.10 L415.30 196.10 L415.30 196.10 L416.00 196.10 L416.00 196.10 L416.70 196.10 L416.70 196.10 L417.40 196.10 L417.40 196.10 L418.10 196.10 L418.10 196.10 L418.80 196.10 L418.80 196.10 L419.50 196.10 L419.50 196.10 L420.20 196.10 L420.20 196.10 L420.90 196.10 L420.90 196.10 L421.60 196.10 L421.60 196.10 L422.30 196.10 L422.30 196.10 L423.00 196.10 L423.00 196.10 L423.70 196.10 L423.70 196.10 L424.40 196.10 L424.40 196.10 L425.10 196.10 L425.10 196.10 L425.80 196.10 L425.80 196.10 L426.50 196.10 L426.50 196.10 L427.20 196.10 L427.20 196.10 L427.90 196.10 L427.90 196.10 L428.60 196.10 L428.60 196.10 L429.30 196.10 L429.30 196.10 L430.00 196.10 L430.00 196.10 L430.70 196.10 L430.70 196.10 L431.40 196.10 L431.40 196.10 L432.10 196.10 L432.10 196.10 L432.80 196.10 L432.80 196.10 L433.50 196.10 L433.50 196.10 L434.20 196.10 L434.20 196.10 L434.90 196.10 L434.90 196.10 L435.60 196.10 L435.60 196.10 L436.30 196.10 L436.30 196.10 L437.00 196.10 L437.00 196.10 L437.70 196.10 L437.70 196.10 L438.40 196.10 L438.40 196.10 L439.10 196.10 L439.10 196.10 L439.80 196.10 L439.80 196.10 L440.50 196.10 L440.50 195.80 L441.20 195.80 L441.20 195.76 L441.90 195.76 L441.90 195.72 L442.60 195.72 L442.60 195.68 L443.30 195.68 L443.30 195.64 L444.00 195.64 L444.00 195.60 L444.70 195.60 L444.70 194.81 L445.40 194.81 L445.40 194.01 L446.10 194.01 L446.10 189.21 L446.80 189.21 L446.80 185.66 L447.50 185.66 L447.50 186.91 L448.20 186.91 L448.20 188.21 L448.90 188.21 L448.90 189.66 L449.60 189.66 L449.60 191.10 L450.30 191.10 L450.30 192.50 L451.00 192.50 L451.00 193.90 L451.70 193.90 L451.70 194.46 L452.40 194.46 L452.40 195.02 L453.10 195.02 L453.10 195.51 L453.80 195.51 L453.80 195.58 L454.50 195.58 L454.50 195.65 L455.20 195.65 L455.20 195.72 L455.90 195.72 L455.90 195.79 L456.60 195.79 L456.60 196.10 L457.30 196.10 L457.30 196.10 L458.00 196.10 L458.00 196.10 L458.70 196.10 L458.70 196.10 L459.40 196.10 L459.40 196.10 L460.10 196.10 L460.10 196.10 L460.80 196.10 L460.80 196.10 L461.50 196.10 L461.50 196.10 L462.20 196.10 L462.20 196.10 L462.90 196.10 L462.90 196.10 L463.60 196.10 L463.60 196.10 L464.30 196.10 L464.30 196.10 L465.00 196.10 L465.00 196.10 L465.70 196.10 L465.70 196.10 L466.40 196.10 L466.40 196.10 L467.10 196.10 L467.10 196.10 L467.80 196.10 L467.80 196.10 L468.50 196.10 L468.50 196.10 L469.20 196.10 L469.20 196.10 L469.90 196.10 L469.90 196.10 Z" fill="#e8901f"/>
<text x="392.90" y="189.50" font-size="7.4" text-anchor="end" fill="#2a2a2a" textLength="20.00" lengthAdjust="spacingAndGlyphs">[0-600]</text>
<text x="471.60" y="189.50" font-size="7.4" text-anchor="end" fill="#2a2a2a" textLength="20.00" lengthAdjust="spacingAndGlyphs">[0-600]</text>
<text x="330.30" y="44.70" font-size="7.0" text-anchor="end" fill="#2a2a2a" textLength="17.00" lengthAdjust="spacingAndGlyphs">Suz12</text>
<text x="330.30" y="56.80" font-size="7.0" text-anchor="end" fill="#2a2a2a" textLength="31.40" lengthAdjust="spacingAndGlyphs">H3K27me3</text>
<text x="330.30" y="69.60" font-size="7.0" text-anchor="end" fill="#2a2a2a" textLength="27.70" lengthAdjust="spacingAndGlyphs">H3K4me3</text>
<text x="330.30" y="83.90" font-size="7.0" text-anchor="end" fill="#2a2a2a" textLength="17.00" lengthAdjust="spacingAndGlyphs">Suz12</text>
<text x="330.30" y="96.80" font-size="7.0" text-anchor="end" fill="#2a2a2a" textLength="31.40" lengthAdjust="spacingAndGlyphs">H3K27me3</text>
<text x="330.30" y="109.80" font-size="7.0" text-anchor="end" fill="#2a2a2a" textLength="27.70" lengthAdjust="spacingAndGlyphs">H3K4me3</text>
<text x="330.30" y="123.80" font-size="7.0" text-anchor="end" fill="#2a2a2a" textLength="17.00" lengthAdjust="spacingAndGlyphs">Suz12</text>
<text x="330.30" y="136.50" font-size="7.0" text-anchor="end" fill="#2a2a2a" textLength="31.40" lengthAdjust="spacingAndGlyphs">H3K27me3</text>
<text x="330.30" y="149.50" font-size="7.0" text-anchor="end" fill="#2a2a2a" textLength="27.70" lengthAdjust="spacingAndGlyphs">H3K4me3</text>
<text x="330.30" y="165.40" font-size="7.0" text-anchor="end" fill="#2a2a2a" textLength="17.00" lengthAdjust="spacingAndGlyphs">Suz12</text>
<text x="330.30" y="177.70" font-size="7.0" text-anchor="end" fill="#2a2a2a" textLength="31.40" lengthAdjust="spacingAndGlyphs">H3K27me3</text>
<text x="330.30" y="189.60" font-size="7.0" text-anchor="end" fill="#2a2a2a" textLength="27.70" lengthAdjust="spacingAndGlyphs">H3K4me3</text>
<path d="M299.6 35.30 H294.8 V75.00 H299.6" fill="none" stroke="#222" stroke-width="1.1"/>
<text x="290.20" y="55.00" font-size="6.8" text-anchor="middle" fill="#222" transform="rotate(-90 290.20 55.00)">WT</text>
<path d="M299.6 76.00 H294.8 V114.50 H299.6" fill="none" stroke="#222" stroke-width="1.1"/>
<text x="290.20" y="95.00" font-size="6.8" text-anchor="middle" fill="#222" transform="rotate(-90 290.20 95.00)">S1</text>
<path d="M299.6 117.00 H294.8 V156.00 H299.6" fill="none" stroke="#222" stroke-width="1.1"/>
<text x="290.20" y="136.50" font-size="6.8" text-anchor="middle" fill="#222" transform="rotate(-90 290.20 136.50)">J</text>
<path d="M299.6 158.50 H294.8 V198.10 H299.6" fill="none" stroke="#222" stroke-width="1.1"/>
<text x="290.20" y="178.40" font-size="6.8" text-anchor="middle" fill="#222" transform="rotate(-90 290.20 178.40)">J+S1</text>
<line x1="333.70" y1="200.00" x2="363.40" y2="200.00" stroke="#5560c0" stroke-width="0.8"/>
<line x1="363.40" y1="198.40" x2="363.40" y2="201.60" stroke="#5560c0" stroke-width="0.8"/>
<path d="M335.90 199.20 L336.70 200.00 L335.90 200.80" fill="none" stroke="#5560c0" stroke-width="0.5"/>
<path d="M340.90 199.20 L341.70 200.00 L340.90 200.80" fill="none" stroke="#5560c0" stroke-width="0.5"/>
<path d="M345.90 199.20 L346.70 200.00 L345.90 200.80" fill="none" stroke="#5560c0" stroke-width="0.5"/>
<path d="M350.90 199.20 L351.70 200.00 L350.90 200.80" fill="none" stroke="#5560c0" stroke-width="0.5"/>
<path d="M355.90 199.20 L356.70 200.00 L355.90 200.80" fill="none" stroke="#5560c0" stroke-width="0.5"/>
<line x1="413.20" y1="199.80" x2="430.30" y2="199.80" stroke="#5560c0" stroke-width="0.8"/>
<line x1="430.30" y1="198.20" x2="430.30" y2="201.40" stroke="#5560c0" stroke-width="0.8"/>
<path d="M415.40 199.00 L416.20 199.80 L415.40 200.60" fill="none" stroke="#5560c0" stroke-width="0.5"/>
<path d="M420.40 199.00 L421.20 199.80 L420.40 200.60" fill="none" stroke="#5560c0" stroke-width="0.5"/>
<path d="M425.40 199.00 L426.20 199.80 L425.40 200.60" fill="none" stroke="#5560c0" stroke-width="0.5"/>
<text x="363.30" y="211.60" font-size="8.8" text-anchor="middle" fill="#222" textLength="62.90" lengthAdjust="spacingAndGlyphs">Pik3cb promoter</text>
<text x="441.70" y="211.80" font-size="8.8" text-anchor="middle" fill="#222" textLength="56.00" lengthAdjust="spacingAndGlyphs">Akt3 promoter</text>
<text x="7.50" y="232.20" font-size="12" text-anchor="start" fill="#000" font-weight="bold">C</text>
<rect x="38.60" y="281.14" width="12.00" height="20.46" fill="#559649" stroke="#478a3b" stroke-width="0.6"/>
<line x1="44.60" y1="282.10" x2="44.60" y2="279.27" stroke="#222" stroke-width="1.0"/>
<line x1="41.70" y1="279.27" x2="47.50" y2="279.27" stroke="#222" stroke-width="1.0"/>
<line x1="41.70" y1="282.10" x2="47.50" y2="282.10" stroke="#222" stroke-width="1.0"/>
<rect x="56.40" y="264.79" width="11.90" height="36.81" fill="#dd8924" stroke="#d27e1c" stroke-width="0.6"/>
<line x1="62.35" y1="269.52" x2="62.35" y2="258.20" stroke="#222" stroke-width="1.0"/>
<line x1="59.45" y1="258.20" x2="65.25" y2="258.20" stroke="#222" stroke-width="1.0"/>
<line x1="59.45" y1="269.52" x2="65.25" y2="269.52" stroke="#222" stroke-width="1.0"/>
<rect x="86.10" y="288.38" width="11.90" height="13.22" fill="#559649" stroke="#478a3b" stroke-width="0.6"/>
<line x1="92.05" y1="288.71" x2="92.05" y2="287.13" stroke="#222" stroke-width="1.0"/>
<line x1="89.15" y1="287.13" x2="94.95" y2="287.13" stroke="#222" stroke-width="1.0"/>
<line x1="89.15" y1="288.71" x2="94.95" y2="288.71" stroke="#222" stroke-width="1.0"/>
<rect x="103.60" y="269.19" width="11.90" height="32.41" fill="#dd8924" stroke="#d27e1c" stroke-width="0.6"/>
<line x1="109.55" y1="270.46" x2="109.55" y2="266.69" stroke="#222" stroke-width="1.0"/>
<line x1="106.65" y1="266.69" x2="112.45" y2="266.69" stroke="#222" stroke-width="1.0"/>
<line x1="106.65" y1="270.46" x2="112.45" y2="270.46" stroke="#222" stroke-width="1.0"/>
<line x1="33.40" y1="249.50" x2="33.40" y2="302.20" stroke="#222" stroke-width="1.2"/>
<line x1="30.40" y1="301.60" x2="33.40" y2="301.60" stroke="#222" stroke-width="1.0"/>
<text x="27.40" y="304.00" font-size="6.8" text-anchor="end" fill="#222">0</text>
<line x1="30.40" y1="289.02" x2="33.40" y2="289.02" stroke="#222" stroke-width="1.0"/>
<text x="27.40" y="291.42" font-size="6.8" text-anchor="end" fill="#222">2</text>
<line x1="30.40" y1="276.44" x2="33.40" y2="276.44" stroke="#222" stroke-width="1.0"/>
<text x="27.40" y="278.84" font-size="6.8" text-anchor="end" fill="#222">4</text>
<line x1="30.40" y1="263.86" x2="33.40" y2="263.86" stroke="#222" stroke-width="1.0"/>
<text x="27.40" y="266.26" font-size="6.8" text-anchor="end" fill="#222">6</text>
<line x1="30.40" y1="251.28" x2="33.40" y2="251.28" stroke="#222" stroke-width="1.0"/>
<text x="27.40" y="253.68" font-size="6.8" text-anchor="end" fill="#222">8</text>
<line x1="32.80" y1="301.60" x2="125.00" y2="301.60" stroke="#222" stroke-width="1.2"/>
<line x1="44.60" y1="301.60" x2="44.60" y2="304.10" stroke="#222" stroke-width="0.9"/>
<line x1="62.35" y1="301.60" x2="62.35" y2="304.10" stroke="#222" stroke-width="0.9"/>
<line x1="92.05" y1="301.60" x2="92.05" y2="304.10" stroke="#222" stroke-width="0.9"/>
<line x1="109.55" y1="301.60" x2="109.55" y2="304.10" stroke="#222" stroke-width="0.9"/>
<text x="53.30" y="243.50" font-size="6.8" text-anchor="middle" fill="#222" textLength="23.50" lengthAdjust="spacingAndGlyphs">p=0.008</text>
<text x="101.20" y="243.50" font-size="6.8" text-anchor="middle" fill="#222" textLength="27.50" lengthAdjust="spacingAndGlyphs">p&lt;0.0001</text>
<text x="18.80" y="275.30" font-size="8.0" text-anchor="middle" fill="#222" textLength="44.50" lengthAdjust="spacingAndGlyphs" transform="rotate(-90 18.80 275.30)">APC MFI (x10<tspan dy="-2.6" font-size="0.72em">2</tspan><tspan dy="2.6">)</tspan></text>
<text x="44.60" y="313.80" font-size="7.0" text-anchor="middle" fill="#222">J</text>
<text x="62.20" y="313.80" font-size="7.0" text-anchor="middle" fill="#222" textLength="13.90" lengthAdjust="spacingAndGlyphs">J+S1</text>
<line x1="38.20" y1="317.80" x2="68.80" y2="317.80" stroke="#333" stroke-width="0.9"/>
<text x="53.50" y="325.40" font-size="7.0" text-anchor="middle" fill="#222" textLength="15.30" lengthAdjust="spacingAndGlyphs">p-Akt</text>
<text x="92.50" y="313.80" font-size="7.0" text-anchor="middle" fill="#222">J</text>
<text x="109.90" y="313.80" font-size="7.0" text-anchor="middle" fill="#222" textLength="13.90" lengthAdjust="spacingAndGlyphs">J+S1</text>
<line x1="85.80" y1="317.80" x2="116.30" y2="317.80" stroke="#333" stroke-width="0.9"/>
<text x="101.05" y="325.40" font-size="7.0" text-anchor="middle" fill="#222" textLength="24.60" lengthAdjust="spacingAndGlyphs">total Akt</text>
<text x="134.00" y="232.10" font-size="12" text-anchor="start" fill="#000" font-weight="bold">D</text>
<rect x="169.30" y="264.98" width="11.80" height="9.42" fill="#559649" stroke="#478a3b" stroke-width="0.6"/>
<rect x="169.30" y="279.10" width="11.80" height="22.40" fill="#559649" stroke="#478a3b" stroke-width="0.6"/>
<line x1="175.20" y1="265.60" x2="175.20" y2="261.90" stroke="#222" stroke-width="1.0"/>
<line x1="172.30" y1="261.90" x2="178.10" y2="261.90" stroke="#222" stroke-width="1.0"/>
<line x1="172.30" y1="265.60" x2="178.10" y2="265.60" stroke="#222" stroke-width="1.0"/>
<line x1="175.20" y1="301.50" x2="175.20" y2="304.00" stroke="#222" stroke-width="0.9"/>
<rect x="187.80" y="257.34" width="11.70" height="17.06" fill="#dd8924" stroke="#d27e1c" stroke-width="0.6"/>
<rect x="187.80" y="279.10" width="11.70" height="22.40" fill="#dd8924" stroke="#d27e1c" stroke-width="0.6"/>
<line x1="193.65" y1="257.50" x2="193.65" y2="256.34" stroke="#222" stroke-width="1.0"/>
<line x1="190.75" y1="256.34" x2="196.55" y2="256.34" stroke="#222" stroke-width="1.0"/>
<line x1="190.75" y1="257.50" x2="196.55" y2="257.50" stroke="#222" stroke-width="1.0"/>
<line x1="193.65" y1="301.50" x2="193.65" y2="304.00" stroke="#222" stroke-width="0.9"/>
<rect x="218.30" y="289.88" width="11.90" height="11.62" fill="#559649" stroke="#478a3b" stroke-width="0.6"/>
<line x1="224.25" y1="290.70" x2="224.25" y2="288.46" stroke="#222" stroke-width="1.0"/>
<line x1="221.35" y1="288.46" x2="227.15" y2="288.46" stroke="#222" stroke-width="1.0"/>
<line x1="221.35" y1="290.70" x2="227.15" y2="290.70" stroke="#222" stroke-width="1.0"/>
<line x1="224.25" y1="301.50" x2="224.25" y2="304.00" stroke="#222" stroke-width="0.9"/>
<rect x="237.10" y="284.67" width="11.40" height="16.83" fill="#dd8924" stroke="#d27e1c" stroke-width="0.6"/>
<line x1="242.80" y1="285.48" x2="242.80" y2="283.25" stroke="#222" stroke-width="1.0"/>
<line x1="239.90" y1="283.25" x2="245.70" y2="283.25" stroke="#222" stroke-width="1.0"/>
<line x1="239.90" y1="285.48" x2="245.70" y2="285.48" stroke="#222" stroke-width="1.0"/>
<line x1="242.80" y1="301.50" x2="242.80" y2="304.00" stroke="#222" stroke-width="0.9"/>
<line x1="163.00" y1="248.70" x2="163.00" y2="274.40" stroke="#222" stroke-width="1.2"/>
<line x1="163.00" y1="279.10" x2="163.00" y2="302.10" stroke="#222" stroke-width="1.2"/>
<line x1="160.00" y1="301.50" x2="163.00" y2="301.50" stroke="#222" stroke-width="1.0"/>
<text x="157.40" y="303.90" font-size="6.8" text-anchor="end" fill="#222">0</text>
<line x1="160.00" y1="294.05" x2="163.00" y2="294.05" stroke="#222" stroke-width="1.0"/>
<text x="157.40" y="296.45" font-size="6.8" text-anchor="end" fill="#222">1</text>
<line x1="160.00" y1="286.60" x2="163.00" y2="286.60" stroke="#222" stroke-width="1.0"/>
<text x="157.40" y="289.00" font-size="6.8" text-anchor="end" fill="#222">2</text>
<line x1="160.00" y1="279.15" x2="163.00" y2="279.15" stroke="#222" stroke-width="1.3"/>
<text x="157.40" y="281.55" font-size="6.8" text-anchor="end" fill="#222">3</text>
<line x1="160.00" y1="274.40" x2="163.00" y2="274.40" stroke="#222" stroke-width="1.3"/>
<text x="157.40" y="276.80" font-size="6.8" text-anchor="end" fill="#222">6</text>
<line x1="160.00" y1="265.14" x2="163.00" y2="265.14" stroke="#222" stroke-width="1.0"/>
<text x="157.40" y="267.54" font-size="6.8" text-anchor="end" fill="#222">8</text>
<line x1="160.00" y1="255.88" x2="163.00" y2="255.88" stroke="#222" stroke-width="1.0"/>
<text x="157.40" y="258.28" font-size="6.8" text-anchor="end" fill="#222">10</text>
<line x1="161.20" y1="269.77" x2="163.00" y2="269.77" stroke="#222" stroke-width="0.8"/>
<line x1="161.20" y1="260.51" x2="163.00" y2="260.51" stroke="#222" stroke-width="0.8"/>
<line x1="161.20" y1="251.25" x2="163.00" y2="251.25" stroke="#222" stroke-width="0.8"/>
<line x1="162.40" y1="301.50" x2="254.30" y2="301.50" stroke="#222" stroke-width="1.2"/>
<text x="184.20" y="243.50" font-size="6.8" text-anchor="middle" fill="#222" textLength="27.50" lengthAdjust="spacingAndGlyphs">p = 0.004</text>
<text x="233.30" y="243.50" font-size="6.8" text-anchor="middle" fill="#222" textLength="27.50" lengthAdjust="spacingAndGlyphs">p = 0.003</text>
<text x="144.60" y="275.60" font-size="8.0" text-anchor="middle" fill="#222" textLength="31.00" lengthAdjust="spacingAndGlyphs" transform="rotate(-90 144.60 275.60)">MFI (x10<tspan dy="-2.6" font-size="0.72em">2</tspan><tspan dy="2.6">)</tspan></text>
<text x="175.00" y="313.80" font-size="7.0" text-anchor="middle" fill="#222">J</text>
<text x="193.60" y="313.80" font-size="7.0" text-anchor="middle" fill="#222" textLength="13.90" lengthAdjust="spacingAndGlyphs">J+S1</text>
<line x1="168.70" y1="317.80" x2="200.00" y2="317.80" stroke="#333" stroke-width="0.9"/>
<text x="184.35" y="325.40" font-size="7.0" text-anchor="middle" fill="#222" textLength="23.70" lengthAdjust="spacingAndGlyphs">p-Gsk3β</text>
<text x="224.40" y="313.80" font-size="7.0" text-anchor="middle" fill="#222">J</text>
<text x="243.10" y="313.80" font-size="7.0" text-anchor="middle" fill="#222" textLength="13.90" lengthAdjust="spacingAndGlyphs">J+S1</text>
<line x1="218.00" y1="317.80" x2="248.80" y2="317.80" stroke="#333" stroke-width="0.9"/>
<text x="233.40" y="325.40" font-size="7.0" text-anchor="middle" fill="#222" textLength="33.10" lengthAdjust="spacingAndGlyphs">total Gsk3β</text>
<text x="264.20" y="232.10" font-size="12" text-anchor="start" fill="#000" font-weight="bold">E</text>
<rect x="301.00" y="279.13" width="11.70" height="22.47" fill="#559649" stroke="#478a3b" stroke-width="0.6"/>
<line x1="306.85" y1="279.59" x2="306.85" y2="277.82" stroke="#222" stroke-width="1.0"/>
<line x1="303.95" y1="277.82" x2="309.75" y2="277.82" stroke="#222" stroke-width="1.0"/>
<line x1="303.95" y1="279.59" x2="309.75" y2="279.59" stroke="#222" stroke-width="1.0"/>
<rect x="319.30" y="258.38" width="12.20" height="43.22" fill="#dd8924" stroke="#d27e1c" stroke-width="0.6"/>
<line x1="325.40" y1="260.61" x2="325.40" y2="253.78" stroke="#222" stroke-width="1.0"/>
<line x1="322.50" y1="253.78" x2="328.30" y2="253.78" stroke="#222" stroke-width="1.0"/>
<line x1="322.50" y1="260.61" x2="328.30" y2="260.61" stroke="#222" stroke-width="1.0"/>
<rect x="350.30" y="285.20" width="11.90" height="16.40" fill="#559649" stroke="#478a3b" stroke-width="0.6"/>
<line x1="356.25" y1="285.91" x2="356.25" y2="283.38" stroke="#222" stroke-width="1.0"/>
<line x1="353.35" y1="283.38" x2="359.15" y2="283.38" stroke="#222" stroke-width="1.0"/>
<line x1="353.35" y1="285.91" x2="359.15" y2="285.91" stroke="#222" stroke-width="1.0"/>
<rect x="368.30" y="287.23" width="12.20" height="14.37" fill="#dd8924" stroke="#d27e1c" stroke-width="0.6"/>
<line x1="374.40" y1="287.69" x2="374.40" y2="285.66" stroke="#222" stroke-width="1.0"/>
<line x1="371.50" y1="285.66" x2="377.30" y2="285.66" stroke="#222" stroke-width="1.0"/>
<line x1="371.50" y1="287.69" x2="377.30" y2="287.69" stroke="#222" stroke-width="1.0"/>
<line x1="294.40" y1="249.50" x2="294.40" y2="302.20" stroke="#222" stroke-width="1.2"/>
<line x1="291.40" y1="301.60" x2="294.40" y2="301.60" stroke="#222" stroke-width="1.0"/>
<text x="288.60" y="304.00" font-size="6.8" text-anchor="end" fill="#222">0</text>
<line x1="291.40" y1="288.95" x2="294.40" y2="288.95" stroke="#222" stroke-width="1.0"/>
<text x="288.60" y="291.35" font-size="6.8" text-anchor="end" fill="#222">0.5</text>
<line x1="291.40" y1="276.30" x2="294.40" y2="276.30" stroke="#222" stroke-width="1.0"/>
<text x="288.60" y="278.70" font-size="6.8" text-anchor="end" fill="#222">1</text>
<line x1="291.40" y1="263.65" x2="294.40" y2="263.65" stroke="#222" stroke-width="1.0"/>
<text x="288.60" y="266.05" font-size="6.8" text-anchor="end" fill="#222">1.5</text>
<line x1="291.40" y1="251.00" x2="294.40" y2="251.00" stroke="#222" stroke-width="1.0"/>
<text x="288.60" y="253.40" font-size="6.8" text-anchor="end" fill="#222">2</text>
<line x1="293.80" y1="301.60" x2="386.30" y2="301.60" stroke="#222" stroke-width="1.2"/>
<line x1="306.85" y1="301.60" x2="306.85" y2="304.10" stroke="#222" stroke-width="0.9"/>
<line x1="325.40" y1="301.60" x2="325.40" y2="304.10" stroke="#222" stroke-width="0.9"/>
<line x1="356.25" y1="301.60" x2="356.25" y2="304.10" stroke="#222" stroke-width="0.9"/>
<line x1="374.40" y1="301.60" x2="374.40" y2="304.10" stroke="#222" stroke-width="0.9"/>
<text x="316.20" y="243.50" font-size="6.8" text-anchor="middle" fill="#222" textLength="31.20" lengthAdjust="spacingAndGlyphs">p = 0.0006</text>
<text x="365.00" y="243.50" font-size="6.8" text-anchor="middle" fill="#222" textLength="24.00" lengthAdjust="spacingAndGlyphs">p = 0.06</text>
<text x="275.20" y="275.00" font-size="8.0" text-anchor="middle" fill="#222" textLength="45.30" lengthAdjust="spacingAndGlyphs" transform="rotate(-90 275.20 275.00)">APC MFI (x10<tspan dy="-2.6" font-size="0.72em">3</tspan><tspan dy="2.6">)</tspan></text>
<text x="306.80" y="313.80" font-size="7.0" text-anchor="middle" fill="#222">J</text>
<text x="325.00" y="313.80" font-size="7.0" text-anchor="middle" fill="#222" textLength="13.90" lengthAdjust="spacingAndGlyphs">J+S1</text>
<line x1="300.50" y1="317.80" x2="331.80" y2="317.80" stroke="#333" stroke-width="0.9"/>
<text x="316.15" y="325.40" font-size="7.0" text-anchor="middle" fill="#222" textLength="12.50" lengthAdjust="spacingAndGlyphs">p-S6</text>
<text x="356.30" y="313.80" font-size="7.0" text-anchor="middle" fill="#222">J</text>
<text x="374.40" y="313.80" font-size="7.0" text-anchor="middle" fill="#222" textLength="13.90" lengthAdjust="spacingAndGlyphs">J+S1</text>
<line x1="350.00" y1="317.80" x2="380.80" y2="317.80" stroke="#333" stroke-width="0.9"/>
<text x="365.40" y="325.40" font-size="7.0" text-anchor="middle" fill="#222" textLength="21.80" lengthAdjust="spacingAndGlyphs">total S6</text>
<text x="395.30" y="232.10" font-size="12" text-anchor="start" fill="#000" font-weight="bold">F</text>
<rect x="427.30" y="274.63" width="11.40" height="26.97" fill="#559649" stroke="#478a3b" stroke-width="0.6"/>
<line x1="433.00" y1="274.75" x2="433.00" y2="273.75" stroke="#222" stroke-width="1.0"/>
<line x1="430.10" y1="273.75" x2="435.90" y2="273.75" stroke="#222" stroke-width="1.0"/>
<line x1="430.10" y1="274.75" x2="435.90" y2="274.75" stroke="#222" stroke-width="1.0"/>
<rect x="445.30" y="265.40" width="11.90" height="36.20" fill="#dd8924" stroke="#d27e1c" stroke-width="0.6"/>
<line x1="451.25" y1="268.46" x2="451.25" y2="260.91" stroke="#222" stroke-width="1.0"/>
<line x1="448.35" y1="260.91" x2="454.15" y2="260.91" stroke="#222" stroke-width="1.0"/>
<line x1="448.35" y1="268.46" x2="454.15" y2="268.46" stroke="#222" stroke-width="1.0"/>
<rect x="476.60" y="269.18" width="11.40" height="32.42" fill="#559649" stroke="#478a3b" stroke-width="0.6"/>
<line x1="482.30" y1="270.14" x2="482.30" y2="266.78" stroke="#222" stroke-width="1.0"/>
<line x1="479.40" y1="266.78" x2="485.20" y2="266.78" stroke="#222" stroke-width="1.0"/>
<line x1="479.40" y1="270.14" x2="485.20" y2="270.14" stroke="#222" stroke-width="1.0"/>
<rect x="494.80" y="264.15" width="11.70" height="37.45" fill="#dd8924" stroke="#d27e1c" stroke-width="0.6"/>
<line x1="500.65" y1="266.36" x2="500.65" y2="261.33" stroke="#222" stroke-width="1.0"/>
<line x1="497.75" y1="261.33" x2="503.55" y2="261.33" stroke="#222" stroke-width="1.0"/>
<line x1="497.75" y1="266.36" x2="503.55" y2="266.36" stroke="#222" stroke-width="1.0"/>
<line x1="420.60" y1="249.50" x2="420.60" y2="302.20" stroke="#222" stroke-width="1.2"/>
<line x1="417.60" y1="301.60" x2="420.60" y2="301.60" stroke="#222" stroke-width="1.0"/>
<text x="414.90" y="304.00" font-size="6.8" text-anchor="end" fill="#222">0</text>
<line x1="417.60" y1="284.82" x2="420.60" y2="284.82" stroke="#222" stroke-width="1.0"/>
<text x="414.90" y="287.22" font-size="6.8" text-anchor="end" fill="#222">2</text>
<line x1="417.60" y1="268.04" x2="420.60" y2="268.04" stroke="#222" stroke-width="1.0"/>
<text x="414.90" y="270.44" font-size="6.8" text-anchor="end" fill="#222">4</text>
<line x1="417.60" y1="251.26" x2="420.60" y2="251.26" stroke="#222" stroke-width="1.0"/>
<text x="414.90" y="253.66" font-size="6.8" text-anchor="end" fill="#222">6</text>
<line x1="418.80" y1="293.21" x2="420.60" y2="293.21" stroke="#222" stroke-width="0.8"/>
<line x1="418.80" y1="276.43" x2="420.60" y2="276.43" stroke="#222" stroke-width="0.8"/>
<line x1="418.80" y1="259.65" x2="420.60" y2="259.65" stroke="#222" stroke-width="0.8"/>
<line x1="420.00" y1="301.60" x2="512.50" y2="301.60" stroke="#222" stroke-width="1.2"/>
<line x1="433.00" y1="301.60" x2="433.00" y2="304.10" stroke="#222" stroke-width="0.9"/>
<line x1="451.25" y1="301.60" x2="451.25" y2="304.10" stroke="#222" stroke-width="0.9"/>
<line x1="482.30" y1="301.60" x2="482.30" y2="304.10" stroke="#222" stroke-width="0.9"/>
<line x1="500.65" y1="301.60" x2="500.65" y2="304.10" stroke="#222" stroke-width="0.9"/>
<text x="442.10" y="243.50" font-size="6.8" text-anchor="middle" fill="#222" textLength="23.30" lengthAdjust="spacingAndGlyphs">p = 0.01</text>
<text x="491.40" y="243.50" font-size="6.8" text-anchor="middle" fill="#222" textLength="23.80" lengthAdjust="spacingAndGlyphs">p = 0.03</text>
<text x="406.30" y="274.60" font-size="8.0" text-anchor="middle" fill="#222" textLength="45.90" lengthAdjust="spacingAndGlyphs" transform="rotate(-90 406.30 274.60)">APC MFI (x10<tspan dy="-2.6" font-size="0.72em">3</tspan><tspan dy="2.6">)</tspan></text>
<text x="433.00" y="313.80" font-size="7.0" text-anchor="middle" fill="#222">J</text>
<text x="451.30" y="313.80" font-size="7.0" text-anchor="middle" fill="#222" textLength="13.90" lengthAdjust="spacingAndGlyphs">J+S1</text>
<line x1="427.00" y1="317.80" x2="457.50" y2="317.80" stroke="#333" stroke-width="0.9"/>
<text x="442.25" y="325.40" font-size="7.0" text-anchor="middle" fill="#222" textLength="16.30" lengthAdjust="spacingAndGlyphs">p-S6K</text>
<text x="482.30" y="313.80" font-size="7.0" text-anchor="middle" fill="#222">J</text>
<text x="500.60" y="313.80" font-size="7.0" text-anchor="middle" fill="#222" textLength="13.90" lengthAdjust="spacingAndGlyphs">J+S1</text>
<line x1="476.30" y1="317.80" x2="506.80" y2="317.80" stroke="#333" stroke-width="0.9"/>
<text x="491.55" y="325.40" font-size="7.0" text-anchor="middle" fill="#222" textLength="26.30" lengthAdjust="spacingAndGlyphs">total S6K</text>
<text x="7.30" y="346.20" font-size="12" text-anchor="start" fill="#000" font-weight="bold">G</text>
<path d="M16.20 416.80 L16.20 416.80 L16.35 416.76 L16.55 416.72 L16.78 416.68 L17.05 416.63 L17.33 416.57 L17.62 416.50 L17.92 416.43 L18.22 416.34 L18.50 416.24 L18.76 416.13 L19.00 416.00 L19.29 415.85 L19.55 415.74 L19.80 415.64 L20.03 415.51 L20.26 415.29 L20.50 414.97 L20.74 414.48 L21.00 413.80 L21.24 413.06 L21.49 412.26 L21.74 411.36 L22.00 410.36 L22.26 409.25 L22.52 408.00 L22.78 406.60 L23.04 405.04 L23.30 403.30 L23.56 401.28 L23.83 398.94 L24.10 396.37 L24.37 393.66 L24.64 390.88 L24.90 388.11 L25.15 385.46 L25.38 382.99 L25.60 380.80 L25.94 377.30 L26.24 374.13 L26.50 371.31 L26.75 368.86 L27.00 366.80 L27.29 364.80 L27.56 363.39 L27.82 362.57 L28.10 362.30 L28.39 362.57 L28.68 363.39 L28.98 364.80 L29.30 366.80 L29.52 368.52 L29.75 370.56 L29.98 372.86 L30.23 375.37 L30.50 378.04 L30.80 380.80 L31.02 382.78 L31.24 384.95 L31.48 387.25 L31.73 389.62 L31.99 392.00 L32.25 394.31 L32.53 396.51 L32.81 398.53 L33.10 400.30 L33.33 401.48 L33.56 402.57 L33.80 403.57 L34.05 404.51 L34.31 405.38 L34.56 406.19 L34.82 406.94 L35.08 407.64 L35.34 408.31 L35.60 408.93 L35.85 409.53 L36.10 410.10 L36.37 410.67 L36.63 411.17 L36.89 411.61 L37.15 411.99 L37.41 412.32 L37.67 412.61 L37.93 412.87 L38.20 413.11 L38.46 413.34 L38.73 413.57 L39.00 413.80 L39.25 414.00 L39.48 414.18 L39.72 414.34 L39.95 414.48 L40.19 414.61 L40.43 414.72 L40.67 414.82 L40.93 414.92 L41.19 415.01 L41.48 415.10 L41.78 415.20 L42.10 415.30 L42.31 415.37 L42.53 415.43 L42.76 415.49 L42.99 415.55 L43.23 415.61 L43.48 415.67 L43.73 415.73 L43.98 415.78 L44.24 415.84 L44.50 415.89 L44.77 415.94 L45.04 415.99 L45.31 416.04 L45.59 416.09 L45.86 416.13 L46.15 416.18 L46.43 416.22 L46.71 416.26 L47.00 416.30 L47.23 416.33 L47.48 416.36 L47.74 416.39 L48.01 416.42 L48.28 416.45 L48.56 416.47 L48.85 416.50 L49.14 416.52 L49.43 416.55 L49.73 416.57 L50.02 416.59 L50.31 416.61 L50.59 416.63 L50.87 416.65 L51.14 416.67 L51.40 416.69 L51.66 416.71 L51.90 416.72 L52.12 416.74 L52.33 416.75 L52.53 416.76 L52.71 416.78 L52.86 416.79 L53.00 416.80 L53.00 416.80 Z" fill="#a6a7aa" fill-opacity="1.0"/>
<path d="M16.20 416.80 L16.35 416.76 L16.55 416.72 L16.78 416.68 L17.05 416.63 L17.33 416.57 L17.62 416.50 L17.92 416.43 L18.22 416.34 L18.50 416.24 L18.76 416.13 L19.00 416.00 L19.29 415.85 L19.55 415.74 L19.80 415.64 L20.03 415.51 L20.26 415.29 L20.50 414.97 L20.74 414.48 L21.00 413.80 L21.24 413.06 L21.49 412.26 L21.74 411.36 L22.00 410.36 L22.26 409.25 L22.52 408.00 L22.78 406.60 L23.04 405.04 L23.30 403.30 L23.56 401.28 L23.83 398.94 L24.10 396.37 L24.37 393.66 L24.64 390.88 L24.90 388.11 L25.15 385.46 L25.38 382.99 L25.60 380.80 L25.94 377.30 L26.24 374.13 L26.50 371.31 L26.75 368.86 L27.00 366.80 L27.29 364.80 L27.56 363.39 L27.82 362.57 L28.10 362.30 L28.39 362.57 L28.68 363.39 L28.98 364.80 L29.30 366.80 L29.52 368.52 L29.75 370.56 L29.98 372.86 L30.23 375.37 L30.50 378.04 L30.80 380.80 L31.02 382.78 L31.24 384.95 L31.48 387.25 L31.73 389.62 L31.99 392.00 L32.25 394.31 L32.53 396.51 L32.81 398.53 L33.10 400.30 L33.33 401.48 L33.56 402.57 L33.80 403.57 L34.05 404.51 L34.31 405.38 L34.56 406.19 L34.82 406.94 L35.08 407.64 L35.34 408.31 L35.60 408.93 L35.85 409.53 L36.10 410.10 L36.37 410.67 L36.63 411.17 L36.89 411.61 L37.15 411.99 L37.41 412.32 L37.67 412.61 L37.93 412.87 L38.20 413.11 L38.46 413.34 L38.73 413.57 L39.00 413.80 L39.25 414.00 L39.48 414.18 L39.72 414.34 L39.95 414.48 L40.19 414.61 L40.43 414.72 L40.67 414.82 L40.93 414.92 L41.19 415.01 L41.48 415.10 L41.78 415.20 L42.10 415.30 L42.31 415.37 L42.53 415.43 L42.76 415.49 L42.99 415.55 L43.23 415.61 L43.48 415.67 L43.73 415.73 L43.98 415.78 L44.24 415.84 L44.50 415.89 L44.77 415.94 L45.04 415.99 L45.31 416.04 L45.59 416.09 L45.86 416.13 L46.15 416.18 L46.43 416.22 L46.71 416.26 L47.00 416.30 L47.23 416.33 L47.48 416.36 L47.74 416.39 L48.01 416.42 L48.28 416.45 L48.56 416.47 L48.85 416.50 L49.14 416.52 L49.43 416.55 L49.73 416.57 L50.02 416.59 L50.31 416.61 L50.59 416.63 L50.87 416.65 L51.14 416.67 L51.40 416.69 L51.66 416.71 L51.90 416.72 L52.12 416.74 L52.33 416.75 L52.53 416.76 L52.71 416.78 L52.86 416.79 L53.00 416.80" fill="none" stroke="#1a1a1a" stroke-width="1.2" stroke-linejoin="round"/>
<path d="M19.50 445.60 L19.50 445.60 L19.66 445.42 L19.89 445.26 L20.16 445.02 L20.44 444.61 L20.73 443.94 L21.00 442.90 L21.25 441.52 L21.51 439.87 L21.77 437.96 L22.02 435.77 L22.27 433.32 L22.50 430.60 L22.82 425.55 L23.11 419.58 L23.40 413.62 L23.70 408.60 L23.95 405.43 L24.21 402.68 L24.48 400.32 L24.74 398.31 L25.00 396.60 L25.26 395.19 L25.53 394.12 L25.79 393.38 L26.05 392.97 L26.30 392.90 L26.59 393.34 L26.86 394.33 L27.12 395.79 L27.40 397.60 L27.67 399.74 L27.93 402.27 L28.23 405.21 L28.60 408.60 L28.83 410.58 L29.09 412.84 L29.37 415.28 L29.67 417.79 L29.97 420.27 L30.26 422.64 L30.54 424.78 L30.80 426.60 L31.11 428.56 L31.39 430.16 L31.66 431.48 L31.92 432.60 L32.20 433.61 L32.50 434.60 L32.74 435.29 L33.00 435.89 L33.27 436.41 L33.54 436.88 L33.81 437.31 L34.08 437.73 L34.34 438.15 L34.60 438.60 L34.88 439.14 L35.14 439.68 L35.39 440.21 L35.65 440.73 L35.91 441.22 L36.19 441.68 L36.50 442.10 L36.73 442.36 L36.98 442.60 L37.24 442.83 L37.50 443.03 L37.77 443.23 L38.05 443.41 L38.32 443.58 L38.59 443.76 L38.85 443.93 L39.10 444.10 L39.38 444.30 L39.68 444.50 L39.97 444.69 L40.27 444.88 L40.55 445.06 L40.81 445.23 L41.05 445.38 L41.25 445.50 L41.40 445.60 L41.40 445.60 Z" fill="#f5c593" fill-opacity="0.65"/>
<path d="M19.50 445.60 L19.66 445.42 L19.89 445.26 L20.16 445.02 L20.44 444.61 L20.73 443.94 L21.00 442.90 L21.25 441.52 L21.51 439.87 L21.77 437.96 L22.02 435.77 L22.27 433.32 L22.50 430.60 L22.82 425.55 L23.11 419.58 L23.40 413.62 L23.70 408.60 L23.95 405.43 L24.21 402.68 L24.48 400.32 L24.74 398.31 L25.00 396.60 L25.26 395.19 L25.53 394.12 L25.79 393.38 L26.05 392.97 L26.30 392.90 L26.59 393.34 L26.86 394.33 L27.12 395.79 L27.40 397.60 L27.67 399.74 L27.93 402.27 L28.23 405.21 L28.60 408.60 L28.83 410.58 L29.09 412.84 L29.37 415.28 L29.67 417.79 L29.97 420.27 L30.26 422.64 L30.54 424.78 L30.80 426.60 L31.11 428.56 L31.39 430.16 L31.66 431.48 L31.92 432.60 L32.20 433.61 L32.50 434.60 L32.74 435.29 L33.00 435.89 L33.27 436.41 L33.54 436.88 L33.81 437.31 L34.08 437.73 L34.34 438.15 L34.60 438.60 L34.88 439.14 L35.14 439.68 L35.39 440.21 L35.65 440.73 L35.91 441.22 L36.19 441.68 L36.50 442.10 L36.73 442.36 L36.98 442.60 L37.24 442.83 L37.50 443.03 L37.77 443.23 L38.05 443.41 L38.32 443.58 L38.59 443.76 L38.85 443.93 L39.10 444.10 L39.38 444.30 L39.68 444.50 L39.97 444.69 L40.27 444.88 L40.55 445.06 L40.81 445.23 L41.05 445.38 L41.25 445.50 L41.40 445.60" fill="none" stroke="#eda55a" stroke-width="0.9" stroke-linejoin="round"/>
<line x1="28.30" y1="362.50" x2="28.30" y2="446.00" stroke="#8a7a6a" stroke-width="0.6"/>
<line x1="14.20" y1="446.30" x2="58.80" y2="446.30" stroke="#222" stroke-width="1.1"/>
<path d="M60.80 446.30 L56.80 444.50 L56.80 448.10 Z" fill="#222"/>
<line x1="18.40" y1="446.30" x2="18.40" y2="448.50" stroke="#222" stroke-width="0.9"/>
<line x1="52.90" y1="446.30" x2="52.90" y2="448.50" stroke="#222" stroke-width="0.9"/>
<line x1="16.30" y1="446.30" x2="16.30" y2="447.60" stroke="#222" stroke-width="0.7"/>
<line x1="21.00" y1="446.30" x2="21.00" y2="447.60" stroke="#222" stroke-width="0.7"/>
<line x1="23.80" y1="446.30" x2="23.80" y2="447.60" stroke="#222" stroke-width="0.7"/>
<line x1="27.50" y1="446.30" x2="27.50" y2="447.60" stroke="#222" stroke-width="0.7"/>
<line x1="31.20" y1="446.30" x2="31.20" y2="447.60" stroke="#222" stroke-width="0.7"/>
<line x1="34.90" y1="446.30" x2="34.90" y2="447.60" stroke="#222" stroke-width="0.7"/>
<line x1="38.00" y1="446.30" x2="38.00" y2="447.60" stroke="#222" stroke-width="0.7"/>
<line x1="41.70" y1="446.30" x2="41.70" y2="447.60" stroke="#222" stroke-width="0.7"/>
<line x1="45.00" y1="446.30" x2="45.00" y2="447.60" stroke="#222" stroke-width="0.7"/>
<line x1="48.00" y1="446.30" x2="48.00" y2="447.60" stroke="#222" stroke-width="0.7"/>
<text x="18.60" y="456.80" font-size="6.6" text-anchor="middle" fill="#222">0</text>
<text x="53.00" y="456.80" font-size="6.6" text-anchor="middle" fill="#222">10<tspan dy="-2.6" font-size="0.72em">3</tspan><tspan dy="2.6"></tspan></text>
<text x="38.55" y="469.40" font-size="8.2" text-anchor="middle" fill="#222" textLength="27.90" lengthAdjust="spacingAndGlyphs">p-Akt APC</text>
<text x="38.50" y="394.60" font-size="6.8" text-anchor="start" fill="#222" textLength="19.50" lengthAdjust="spacingAndGlyphs">DMSO</text>
<text x="39.40" y="430.00" font-size="6.8" text-anchor="start" fill="#222" textLength="13.50" lengthAdjust="spacingAndGlyphs">DAC</text>
<rect x="103.40" y="369.90" width="13.40" height="75.70" fill="#0a0a0a"/>
<line x1="110.10" y1="370.90" x2="110.10" y2="369.16" stroke="#222" stroke-width="1.0"/>
<line x1="106.70" y1="369.16" x2="113.50" y2="369.16" stroke="#222" stroke-width="1.0"/>
<line x1="106.70" y1="370.90" x2="113.50" y2="370.90" stroke="#222" stroke-width="1.0"/>
<line x1="110.10" y1="445.60" x2="110.10" y2="448.10" stroke="#222" stroke-width="0.9"/>
<rect x="125.00" y="380.36" width="13.80" height="65.24" fill="#dd8924"/>
<line x1="131.90" y1="381.61" x2="131.90" y2="379.12" stroke="#222" stroke-width="1.0"/>
<line x1="128.50" y1="379.12" x2="135.30" y2="379.12" stroke="#222" stroke-width="1.0"/>
<line x1="128.50" y1="381.61" x2="135.30" y2="381.61" stroke="#222" stroke-width="1.0"/>
<line x1="131.90" y1="445.60" x2="131.90" y2="448.10" stroke="#222" stroke-width="0.9"/>
<line x1="95.50" y1="358.80" x2="95.50" y2="446.20" stroke="#222" stroke-width="1.2"/>
<line x1="92.50" y1="445.60" x2="95.50" y2="445.60" stroke="#222" stroke-width="1.0"/>
<text x="89.80" y="448.00" font-size="6.8" text-anchor="end" fill="#222">0</text>
<line x1="92.50" y1="420.70" x2="95.50" y2="420.70" stroke="#222" stroke-width="1.0"/>
<text x="89.80" y="423.10" font-size="6.8" text-anchor="end" fill="#222">1</text>
<line x1="92.50" y1="395.80" x2="95.50" y2="395.80" stroke="#222" stroke-width="1.0"/>
<text x="89.80" y="398.20" font-size="6.8" text-anchor="end" fill="#222">2</text>
<line x1="92.50" y1="370.90" x2="95.50" y2="370.90" stroke="#222" stroke-width="1.0"/>
<text x="89.80" y="373.30" font-size="6.8" text-anchor="end" fill="#222">3</text>
<line x1="94.90" y1="445.60" x2="145.00" y2="445.60" stroke="#222" stroke-width="1.2"/>
<text x="120.90" y="356.80" font-size="6.8" text-anchor="middle" fill="#222" textLength="31.00" lengthAdjust="spacingAndGlyphs">p = 0.0002</text>
<text x="82.40" y="402.50" font-size="8.0" text-anchor="middle" fill="#222" textLength="63.00" lengthAdjust="spacingAndGlyphs" transform="rotate(-90 82.40 402.50)">p-Akt APC MFI (x10<tspan dy="-2.6" font-size="0.72em">2</tspan><tspan dy="2.6">)</tspan></text>
<text x="110.10" y="457.50" font-size="6.8" text-anchor="middle" fill="#222" textLength="18.70" lengthAdjust="spacingAndGlyphs">DMSO</text>
<text x="131.90" y="457.50" font-size="6.8" text-anchor="middle" fill="#222" textLength="13.80" lengthAdjust="spacingAndGlyphs">DAC</text>
<text x="155.50" y="346.00" font-size="12" text-anchor="start" fill="#000" font-weight="bold">H</text>
<path d="M160.30 417.30 L160.30 417.30 L160.44 417.25 L160.61 417.21 L160.80 417.17 L161.01 417.12 L161.25 417.08 L161.50 417.03 L161.76 416.99 L162.04 416.93 L162.32 416.87 L162.61 416.80 L162.91 416.73 L163.21 416.65 L163.51 416.55 L163.81 416.45 L164.10 416.33 L164.38 416.20 L164.66 416.05 L164.92 415.89 L165.16 415.71 L165.39 415.52 L165.60 415.30 L165.93 414.91 L166.23 414.51 L166.51 414.09 L166.77 413.65 L167.01 413.17 L167.24 412.64 L167.47 412.05 L167.69 411.39 L167.90 410.65 L168.13 409.81 L168.36 408.86 L168.60 407.80 L168.85 406.59 L169.10 405.23 L169.35 403.73 L169.60 402.13 L169.85 400.45 L170.10 398.71 L170.35 396.93 L170.60 395.13 L170.85 393.35 L171.10 391.60 L171.35 389.91 L171.60 388.30 L171.85 386.71 L172.10 385.08 L172.36 383.42 L172.61 381.76 L172.87 380.10 L173.12 378.48 L173.38 376.89 L173.63 375.38 L173.88 373.94 L174.12 372.61 L174.36 371.39 L174.60 370.30 L174.88 369.12 L175.16 368.02 L175.43 367.02 L175.70 366.13 L175.97 365.36 L176.23 364.74 L176.48 364.28 L176.73 363.99 L176.97 363.89 L177.20 364.00 L177.50 364.54 L177.78 365.49 L178.04 366.81 L178.29 368.44 L178.55 370.31 L178.81 372.39 L179.10 374.60 L179.33 376.53 L179.57 378.76 L179.81 381.19 L180.06 383.75 L180.31 386.36 L180.57 388.94 L180.83 391.41 L181.11 393.69 L181.40 395.70 L181.63 397.05 L181.86 398.32 L182.10 399.52 L182.35 400.66 L182.60 401.73 L182.86 402.74 L183.11 403.70 L183.37 404.61 L183.63 405.47 L183.89 406.29 L184.15 407.06 L184.40 407.80 L184.65 408.49 L184.90 409.11 L185.15 409.68 L185.40 410.19 L185.64 410.65 L185.89 411.07 L186.14 411.46 L186.39 411.81 L186.64 412.14 L186.89 412.44 L187.15 412.73 L187.40 413.00 L187.65 413.25 L187.90 413.45 L188.15 413.61 L188.40 413.74 L188.65 413.85 L188.91 413.93 L189.16 414.00 L189.42 414.06 L189.68 414.11 L189.95 414.16 L190.22 414.23 L190.50 414.30 L190.74 414.37 L190.98 414.43 L191.22 414.49 L191.45 414.55 L191.69 414.60 L191.93 414.65 L192.18 414.69 L192.44 414.74 L192.70 414.78 L192.97 414.82 L193.26 414.87 L193.56 414.91 L193.87 414.95 L194.20 415.00 L194.41 415.03 L194.63 415.06 L194.85 415.08 L195.08 415.11 L195.31 415.14 L195.55 415.17 L195.79 415.20 L196.04 415.22 L196.29 415.25 L196.55 415.28 L196.81 415.31 L197.07 415.33 L197.33 415.36 L197.60 415.38 L197.86 415.41 L198.13 415.44 L198.40 415.46 L198.67 415.48 L198.94 415.51 L199.20 415.53 L199.47 415.56 L199.74 415.58 L200.00 415.60 L200.24 415.62 L200.48 415.64 L200.72 415.66 L200.96 415.67 L201.21 415.69 L201.45 415.71 L201.69 415.72 L201.93 415.74 L202.17 415.75 L202.42 415.77 L202.66 415.78 L202.91 415.80 L203.16 415.81 L203.40 415.83 L203.66 415.84 L203.91 415.86 L204.16 415.87 L204.42 415.89 L204.68 415.90 L204.94 415.92 L205.21 415.93 L205.48 415.95 L205.75 415.97 L206.02 415.98 L206.30 416.00 L206.54 416.02 L206.77 416.03 L207.01 416.05 L207.26 416.06 L207.51 416.08 L207.76 416.09 L208.01 416.11 L208.26 416.13 L208.52 416.14 L208.77 416.16 L209.03 416.18 L209.29 416.19 L209.56 416.21 L209.82 416.23 L210.08 416.24 L210.35 416.26 L210.61 416.28 L210.87 416.30 L211.14 416.31 L211.40 416.33 L211.67 416.35 L211.93 416.36 L212.19 416.38 L212.46 416.40 L212.72 416.42 L212.98 416.43 L213.24 416.45 L213.49 416.47 L213.75 416.48 L214.00 416.50 L214.26 416.52 L214.54 416.54 L214.81 416.55 L215.10 416.57 L215.38 416.59 L215.68 416.61 L215.97 416.63 L216.27 416.65 L216.56 416.67 L216.86 416.69 L217.16 416.71 L217.45 416.73 L217.75 416.75 L218.04 416.77 L218.32 416.79 L218.60 416.81 L218.88 416.83 L219.15 416.85 L219.41 416.86 L219.66 416.88 L219.90 416.90 L220.13 416.91 L220.36 416.93 L220.56 416.94 L220.76 416.96 L220.94 416.97 L221.11 416.98 L221.26 416.99 L221.40 417.00 L221.40 417.30 Z" fill="#a6a7aa" fill-opacity="1.0"/>
<path d="M160.30 417.30 L160.44 417.25 L160.61 417.21 L160.80 417.17 L161.01 417.12 L161.25 417.08 L161.50 417.03 L161.76 416.99 L162.04 416.93 L162.32 416.87 L162.61 416.80 L162.91 416.73 L163.21 416.65 L163.51 416.55 L163.81 416.45 L164.10 416.33 L164.38 416.20 L164.66 416.05 L164.92 415.89 L165.16 415.71 L165.39 415.52 L165.60 415.30 L165.93 414.91 L166.23 414.51 L166.51 414.09 L166.77 413.65 L167.01 413.17 L167.24 412.64 L167.47 412.05 L167.69 411.39 L167.90 410.65 L168.13 409.81 L168.36 408.86 L168.60 407.80 L168.85 406.59 L169.10 405.23 L169.35 403.73 L169.60 402.13 L169.85 400.45 L170.10 398.71 L170.35 396.93 L170.60 395.13 L170.85 393.35 L171.10 391.60 L171.35 389.91 L171.60 388.30 L171.85 386.71 L172.10 385.08 L172.36 383.42 L172.61 381.76 L172.87 380.10 L173.12 378.48 L173.38 376.89 L173.63 375.38 L173.88 373.94 L174.12 372.61 L174.36 371.39 L174.60 370.30 L174.88 369.12 L175.16 368.02 L175.43 367.02 L175.70 366.13 L175.97 365.36 L176.23 364.74 L176.48 364.28 L176.73 363.99 L176.97 363.89 L177.20 364.00 L177.50 364.54 L177.78 365.49 L178.04 366.81 L178.29 368.44 L178.55 370.31 L178.81 372.39 L179.10 374.60 L179.33 376.53 L179.57 378.76 L179.81 381.19 L180.06 383.75 L180.31 386.36 L180.57 388.94 L180.83 391.41 L181.11 393.69 L181.40 395.70 L181.63 397.05 L181.86 398.32 L182.10 399.52 L182.35 400.66 L182.60 401.73 L182.86 402.74 L183.11 403.70 L183.37 404.61 L183.63 405.47 L183.89 406.29 L184.15 407.06 L184.40 407.80 L184.65 408.49 L184.90 409.11 L185.15 409.68 L185.40 410.19 L185.64 410.65 L185.89 411.07 L186.14 411.46 L186.39 411.81 L186.64 412.14 L186.89 412.44 L187.15 412.73 L187.40 413.00 L187.65 413.25 L187.90 413.45 L188.15 413.61 L188.40 413.74 L188.65 413.85 L188.91 413.93 L189.16 414.00 L189.42 414.06 L189.68 414.11 L189.95 414.16 L190.22 414.23 L190.50 414.30 L190.74 414.37 L190.98 414.43 L191.22 414.49 L191.45 414.55 L191.69 414.60 L191.93 414.65 L192.18 414.69 L192.44 414.74 L192.70 414.78 L192.97 414.82 L193.26 414.87 L193.56 414.91 L193.87 414.95 L194.20 415.00 L194.41 415.03 L194.63 415.06 L194.85 415.08 L195.08 415.11 L195.31 415.14 L195.55 415.17 L195.79 415.20 L196.04 415.22 L196.29 415.25 L196.55 415.28 L196.81 415.31 L197.07 415.33 L197.33 415.36 L197.60 415.38 L197.86 415.41 L198.13 415.44 L198.40 415.46 L198.67 415.48 L198.94 415.51 L199.20 415.53 L199.47 415.56 L199.74 415.58 L200.00 415.60 L200.24 415.62 L200.48 415.64 L200.72 415.66 L200.96 415.67 L201.21 415.69 L201.45 415.71 L201.69 415.72 L201.93 415.74 L202.17 415.75 L202.42 415.77 L202.66 415.78 L202.91 415.80 L203.16 415.81 L203.40 415.83 L203.66 415.84 L203.91 415.86 L204.16 415.87 L204.42 415.89 L204.68 415.90 L204.94 415.92 L205.21 415.93 L205.48 415.95 L205.75 415.97 L206.02 415.98 L206.30 416.00 L206.54 416.02 L206.77 416.03 L207.01 416.05 L207.26 416.06 L207.51 416.08 L207.76 416.09 L208.01 416.11 L208.26 416.13 L208.52 416.14 L208.77 416.16 L209.03 416.18 L209.29 416.19 L209.56 416.21 L209.82 416.23 L210.08 416.24 L210.35 416.26 L210.61 416.28 L210.87 416.30 L211.14 416.31 L211.40 416.33 L211.67 416.35 L211.93 416.36 L212.19 416.38 L212.46 416.40 L212.72 416.42 L212.98 416.43 L213.24 416.45 L213.49 416.47 L213.75 416.48 L214.00 416.50 L214.26 416.52 L214.54 416.54 L214.81 416.55 L215.10 416.57 L215.38 416.59 L215.68 416.61 L215.97 416.63 L216.27 416.65 L216.56 416.67 L216.86 416.69 L217.16 416.71 L217.45 416.73 L217.75 416.75 L218.04 416.77 L218.32 416.79 L218.60 416.81 L218.88 416.83 L219.15 416.85 L219.41 416.86 L219.66 416.88 L219.90 416.90 L220.13 416.91 L220.36 416.93 L220.56 416.94 L220.76 416.96 L220.94 416.97 L221.11 416.98 L221.26 416.99 L221.40 417.00" fill="none" stroke="#1a1a1a" stroke-width="1.2" stroke-linejoin="round"/>
<path d="M163.30 445.80 L163.30 445.80 L163.45 445.05 L163.64 444.15 L163.87 443.09 L164.13 441.88 L164.40 440.53 L164.70 439.04 L165.00 437.42 L165.30 435.67 L165.60 433.80 L165.83 432.25 L166.06 430.53 L166.30 428.66 L166.55 426.69 L166.80 424.64 L167.06 422.55 L167.31 420.46 L167.57 418.39 L167.83 416.39 L168.09 414.48 L168.35 412.71 L168.60 411.10 L168.85 409.62 L169.11 408.21 L169.37 406.87 L169.63 405.59 L169.89 404.37 L170.14 403.21 L170.40 402.12 L170.65 401.08 L170.90 400.10 L171.14 399.18 L171.37 398.31 L171.60 397.50 L171.89 396.46 L172.16 395.47 L172.42 394.56 L172.68 393.75 L172.92 393.06 L173.17 392.54 L173.41 392.20 L173.65 392.08 L173.90 392.20 L174.18 392.65 L174.45 393.42 L174.73 394.46 L175.00 395.72 L175.27 397.15 L175.55 398.70 L175.82 400.34 L176.10 402.00 L176.35 403.54 L176.59 405.18 L176.83 406.93 L177.08 408.76 L177.32 410.66 L177.58 412.63 L177.84 414.65 L178.11 416.71 L178.40 418.80 L178.63 420.45 L178.86 422.23 L179.10 424.11 L179.35 426.04 L179.60 428.01 L179.86 429.98 L180.11 431.90 L180.37 433.76 L180.63 435.51 L180.89 437.12 L181.15 438.56 L181.40 439.80 L181.66 440.84 L181.93 441.74 L182.22 442.50 L182.51 443.13 L182.80 443.67 L183.09 444.11 L183.36 444.48 L183.62 444.80 L183.86 445.07 L184.07 445.32 L184.26 445.56 L184.40 445.80 L184.40 445.80 Z" fill="#f5c593" fill-opacity="0.65"/>
<path d="M163.30 445.80 L163.45 445.05 L163.64 444.15 L163.87 443.09 L164.13 441.88 L164.40 440.53 L164.70 439.04 L165.00 437.42 L165.30 435.67 L165.60 433.80 L165.83 432.25 L166.06 430.53 L166.30 428.66 L166.55 426.69 L166.80 424.64 L167.06 422.55 L167.31 420.46 L167.57 418.39 L167.83 416.39 L168.09 414.48 L168.35 412.71 L168.60 411.10 L168.85 409.62 L169.11 408.21 L169.37 406.87 L169.63 405.59 L169.89 404.37 L170.14 403.21 L170.40 402.12 L170.65 401.08 L170.90 400.10 L171.14 399.18 L171.37 398.31 L171.60 397.50 L171.89 396.46 L172.16 395.47 L172.42 394.56 L172.68 393.75 L172.92 393.06 L173.17 392.54 L173.41 392.20 L173.65 392.08 L173.90 392.20 L174.18 392.65 L174.45 393.42 L174.73 394.46 L175.00 395.72 L175.27 397.15 L175.55 398.70 L175.82 400.34 L176.10 402.00 L176.35 403.54 L176.59 405.18 L176.83 406.93 L177.08 408.76 L177.32 410.66 L177.58 412.63 L177.84 414.65 L178.11 416.71 L178.40 418.80 L178.63 420.45 L178.86 422.23 L179.10 424.11 L179.35 426.04 L179.60 428.01 L179.86 429.98 L180.11 431.90 L180.37 433.76 L180.63 435.51 L180.89 437.12 L181.15 438.56 L181.40 439.80 L181.66 440.84 L181.93 441.74 L182.22 442.50 L182.51 443.13 L182.80 443.67 L183.09 444.11 L183.36 444.48 L183.62 444.80 L183.86 445.07 L184.07 445.32 L184.26 445.56 L184.40 445.80" fill="none" stroke="#eda55a" stroke-width="0.9" stroke-linejoin="round"/>
<line x1="177.60" y1="364.00" x2="177.60" y2="446.30" stroke="#8a7a6a" stroke-width="0.6"/>
<line x1="156.00" y1="446.50" x2="221.80" y2="446.50" stroke="#222" stroke-width="1.1"/>
<path d="M223.80 446.50 L219.80 444.70 L219.80 448.30 Z" fill="#222"/>
<line x1="161.90" y1="446.50" x2="161.90" y2="448.70" stroke="#222" stroke-width="0.9"/>
<line x1="178.60" y1="446.50" x2="178.60" y2="448.70" stroke="#222" stroke-width="0.9"/>
<line x1="208.10" y1="446.50" x2="208.10" y2="448.70" stroke="#222" stroke-width="0.9"/>
<line x1="158.00" y1="446.50" x2="158.00" y2="447.80" stroke="#222" stroke-width="0.7"/>
<line x1="160.00" y1="446.50" x2="160.00" y2="447.80" stroke="#222" stroke-width="0.7"/>
<line x1="164.00" y1="446.50" x2="164.00" y2="447.80" stroke="#222" stroke-width="0.7"/>
<line x1="166.00" y1="446.50" x2="166.00" y2="447.80" stroke="#222" stroke-width="0.7"/>
<line x1="168.00" y1="446.50" x2="168.00" y2="447.80" stroke="#222" stroke-width="0.7"/>
<line x1="170.00" y1="446.50" x2="170.00" y2="447.80" stroke="#222" stroke-width="0.7"/>
<line x1="172.00" y1="446.50" x2="172.00" y2="447.80" stroke="#222" stroke-width="0.7"/>
<line x1="174.00" y1="446.50" x2="174.00" y2="447.80" stroke="#222" stroke-width="0.7"/>
<line x1="176.00" y1="446.50" x2="176.00" y2="447.80" stroke="#222" stroke-width="0.7"/>
<line x1="186.00" y1="446.50" x2="186.00" y2="447.80" stroke="#222" stroke-width="0.7"/>
<line x1="191.00" y1="446.50" x2="191.00" y2="447.80" stroke="#222" stroke-width="0.7"/>
<line x1="195.00" y1="446.50" x2="195.00" y2="447.80" stroke="#222" stroke-width="0.7"/>
<line x1="198.00" y1="446.50" x2="198.00" y2="447.80" stroke="#222" stroke-width="0.7"/>
<line x1="201.00" y1="446.50" x2="201.00" y2="447.80" stroke="#222" stroke-width="0.7"/>
<line x1="203.00" y1="446.50" x2="203.00" y2="447.80" stroke="#222" stroke-width="0.7"/>
<line x1="205.00" y1="446.50" x2="205.00" y2="447.80" stroke="#222" stroke-width="0.7"/>
<line x1="206.50" y1="446.50" x2="206.50" y2="447.80" stroke="#222" stroke-width="0.7"/>
<text x="161.90" y="457.80" font-size="6.6" text-anchor="middle" fill="#222">0</text>
<text x="179.20" y="457.80" font-size="6.6" text-anchor="middle" fill="#222">10<tspan dy="-2.6" font-size="0.72em">3</tspan><tspan dy="2.6"></tspan></text>
<text x="208.60" y="457.80" font-size="6.6" text-anchor="middle" fill="#222">10<tspan dy="-2.6" font-size="0.72em">4</tspan><tspan dy="2.6"></tspan></text>
<text x="189.80" y="469.50" font-size="8.2" text-anchor="middle" fill="#222" textLength="26.60" lengthAdjust="spacingAndGlyphs">p-S6 APC</text>
<text x="195.40" y="386.90" font-size="6.8" text-anchor="start" fill="#222" textLength="18.60" lengthAdjust="spacingAndGlyphs">DMSO</text>
<text x="196.00" y="437.30" font-size="6.8" text-anchor="start" fill="#222" textLength="13.10" lengthAdjust="spacingAndGlyphs">DAC</text>
<rect x="268.90" y="370.47" width="13.60" height="75.73" fill="#0a0a0a"/>
<line x1="275.70" y1="371.22" x2="275.70" y2="369.80" stroke="#222" stroke-width="1.0"/>
<line x1="272.30" y1="369.80" x2="279.10" y2="369.80" stroke="#222" stroke-width="1.0"/>
<line x1="272.30" y1="371.22" x2="279.10" y2="371.22" stroke="#222" stroke-width="1.0"/>
<line x1="275.70" y1="446.20" x2="275.70" y2="448.70" stroke="#222" stroke-width="0.9"/>
<rect x="289.50" y="391.42" width="13.80" height="54.78" fill="#dd8924"/>
<line x1="296.40" y1="392.26" x2="296.40" y2="390.59" stroke="#222" stroke-width="1.0"/>
<line x1="293.00" y1="390.59" x2="299.80" y2="390.59" stroke="#222" stroke-width="1.0"/>
<line x1="293.00" y1="392.26" x2="299.80" y2="392.26" stroke="#222" stroke-width="1.0"/>
<line x1="296.40" y1="446.20" x2="296.40" y2="448.70" stroke="#222" stroke-width="0.9"/>
<line x1="261.40" y1="360.30" x2="261.40" y2="446.80" stroke="#222" stroke-width="1.2"/>
<line x1="258.40" y1="446.20" x2="261.40" y2="446.20" stroke="#222" stroke-width="1.0"/>
<text x="256.30" y="448.60" font-size="6.8" text-anchor="end" fill="#222">0</text>
<line x1="258.40" y1="429.50" x2="261.40" y2="429.50" stroke="#222" stroke-width="1.0"/>
<text x="256.30" y="431.90" font-size="6.8" text-anchor="end" fill="#222">2</text>
<line x1="258.40" y1="412.80" x2="261.40" y2="412.80" stroke="#222" stroke-width="1.0"/>
<text x="256.30" y="415.20" font-size="6.8" text-anchor="end" fill="#222">4</text>
<line x1="258.40" y1="396.10" x2="261.40" y2="396.10" stroke="#222" stroke-width="1.0"/>
<text x="256.30" y="398.50" font-size="6.8" text-anchor="end" fill="#222">6</text>
<line x1="258.40" y1="379.40" x2="261.40" y2="379.40" stroke="#222" stroke-width="1.0"/>
<text x="256.30" y="381.80" font-size="6.8" text-anchor="end" fill="#222">8</text>
<line x1="258.40" y1="362.70" x2="261.40" y2="362.70" stroke="#222" stroke-width="1.0"/>
<text x="256.30" y="365.10" font-size="6.8" text-anchor="end" fill="#222">10</text>
<line x1="260.80" y1="446.20" x2="309.60" y2="446.20" stroke="#222" stroke-width="1.2"/>
<text x="285.70" y="356.80" font-size="6.8" text-anchor="middle" fill="#222" textLength="27.00" lengthAdjust="spacingAndGlyphs">p&lt;0.0001</text>
<text x="245.20" y="402.90" font-size="8.0" text-anchor="middle" fill="#222" textLength="60.50" lengthAdjust="spacingAndGlyphs" transform="rotate(-90 245.20 402.90)">p-S6 APC MFI (x10<tspan dy="-2.6" font-size="0.72em">2</tspan><tspan dy="2.6">)</tspan></text>
<text x="275.70" y="457.50" font-size="6.8" text-anchor="middle" fill="#222" textLength="19.40" lengthAdjust="spacingAndGlyphs">DMSO</text>
<text x="296.50" y="457.50" font-size="6.8" text-anchor="middle" fill="#222" textLength="13.20" lengthAdjust="spacingAndGlyphs">DAC</text>
<text x="322.60" y="346.00" font-size="12" text-anchor="start" fill="#000" font-weight="bold">I</text>
<path d="M322.90 417.10 L322.90 416.90 L323.03 416.90 L323.17 416.90 L323.31 416.90 L323.46 416.89 L323.62 416.89 L323.79 416.89 L323.96 416.89 L324.14 416.89 L324.33 416.89 L324.52 416.89 L324.72 416.88 L324.92 416.88 L325.13 416.88 L325.34 416.88 L325.56 416.88 L325.79 416.88 L326.02 416.88 L326.25 416.87 L326.49 416.87 L326.74 416.87 L326.99 416.87 L327.24 416.87 L327.49 416.87 L327.75 416.86 L328.02 416.86 L328.28 416.86 L328.55 416.86 L328.82 416.86 L329.10 416.85 L329.37 416.85 L329.65 416.85 L329.94 416.85 L330.22 416.85 L330.51 416.84 L330.79 416.84 L331.08 416.84 L331.37 416.84 L331.66 416.83 L331.96 416.83 L332.25 416.83 L332.54 416.83 L332.84 416.82 L333.13 416.82 L333.42 416.82 L333.72 416.81 L334.01 416.81 L334.30 416.81 L334.60 416.80 L334.89 416.80 L335.18 416.79 L335.46 416.79 L335.75 416.79 L336.04 416.78 L336.32 416.78 L336.60 416.77 L336.88 416.77 L337.16 416.76 L337.43 416.76 L337.71 416.75 L337.98 416.75 L338.24 416.74 L338.50 416.74 L338.76 416.73 L339.02 416.73 L339.27 416.72 L339.52 416.71 L339.76 416.71 L340.00 416.70 L340.27 416.69 L340.54 416.68 L340.81 416.68 L341.09 416.67 L341.36 416.66 L341.64 416.65 L341.92 416.65 L342.20 416.64 L342.47 416.63 L342.76 416.62 L343.04 416.61 L343.32 416.60 L343.60 416.59 L343.88 416.59 L344.16 416.58 L344.45 416.57 L344.73 416.56 L345.01 416.55 L345.29 416.54 L345.57 416.53 L345.85 416.52 L346.14 416.51 L346.41 416.50 L346.69 416.49 L346.97 416.48 L347.25 416.47 L347.52 416.46 L347.79 416.45 L348.07 416.44 L348.34 416.43 L348.61 416.41 L348.87 416.40 L349.14 416.39 L349.40 416.38 L349.66 416.37 L349.92 416.35 L350.17 416.34 L350.43 416.33 L350.68 416.32 L350.93 416.30 L351.17 416.29 L351.41 416.28 L351.65 416.26 L351.89 416.25 L352.12 416.24 L352.35 416.22 L352.57 416.21 L352.79 416.19 L353.01 416.18 L353.22 416.16 L353.43 416.15 L353.63 416.13 L353.83 416.12 L354.03 416.10 L354.22 416.08 L354.41 416.07 L354.59 416.05 L354.76 416.03 L354.93 416.02 L355.10 416.00 L355.61 415.94 L356.07 415.88 L356.47 415.83 L356.83 415.77 L357.14 415.71 L357.41 415.65 L357.65 415.58 L357.87 415.52 L358.06 415.45 L358.23 415.38 L358.39 415.30 L358.54 415.22 L358.70 415.13 L358.85 415.04 L359.01 414.94 L359.19 414.83 L359.38 414.72 L359.60 414.60 L359.88 414.45 L360.15 414.31 L360.42 414.17 L360.68 414.03 L360.95 413.89 L361.21 413.73 L361.47 413.57 L361.72 413.39 L361.97 413.20 L362.22 412.98 L362.46 412.74 L362.70 412.48 L362.94 412.19 L363.17 411.86 L363.40 411.50 L363.68 411.02 L363.95 410.53 L364.21 410.02 L364.46 409.48 L364.71 408.91 L364.95 408.29 L365.19 407.62 L365.43 406.89 L365.67 406.09 L365.91 405.21 L366.15 404.25 L366.40 403.20 L366.65 402.03 L366.90 400.72 L367.15 399.31 L367.40 397.81 L367.65 396.24 L367.90 394.62 L368.15 392.97 L368.40 391.33 L368.65 389.69 L368.90 388.10 L369.15 386.56 L369.40 385.10 L369.65 383.67 L369.90 382.22 L370.16 380.75 L370.41 379.29 L370.67 377.84 L370.92 376.42 L371.18 375.04 L371.43 373.73 L371.68 372.48 L371.92 371.32 L372.16 370.25 L372.40 369.30 L372.68 368.26 L372.94 367.29 L373.21 366.40 L373.46 365.61 L373.72 364.93 L373.97 364.37 L374.23 363.96 L374.48 363.70 L374.74 363.61 L375.00 363.70 L375.26 363.98 L375.53 364.43 L375.79 365.05 L376.06 365.82 L376.32 366.73 L376.59 367.78 L376.86 368.95 L377.14 370.23 L377.42 371.62 L377.70 373.10 L377.94 374.47 L378.18 376.03 L378.43 377.73 L378.68 379.54 L378.93 381.44 L379.18 383.39 L379.43 385.35 L379.69 387.29 L379.94 389.18 L380.20 390.98 L380.45 392.67 L380.70 394.20 L380.94 395.62 L381.18 396.97 L381.41 398.28 L381.64 399.53 L381.87 400.72 L382.10 401.87 L382.34 402.97 L382.58 404.02 L382.84 405.03 L383.11 405.99 L383.39 406.91 L383.70 407.80 L383.92 408.37 L384.14 408.91 L384.37 409.43 L384.60 409.93 L384.85 410.41 L385.09 410.86 L385.34 411.30 L385.60 411.72 L385.86 412.12 L386.13 412.50 L386.39 412.87 L386.66 413.21 L386.93 413.55 L387.21 413.87 L387.48 414.17 L387.75 414.46 L388.03 414.74 L388.30 415.00 L388.55 415.22 L388.82 415.43 L389.10 415.61 L389.38 415.78 L389.68 415.93 L389.98 416.07 L390.28 416.20 L390.59 416.31 L390.89 416.41 L391.19 416.50 L391.48 416.58 L391.77 416.66 L392.04 416.72 L392.30 416.79 L392.55 416.84 L392.78 416.90 L393.00 416.95 L393.19 417.00 L393.36 417.05 L393.50 417.10 L393.50 417.10 Z" fill="#a6a7aa" fill-opacity="1.0"/>
<path d="M322.90 416.90 L323.03 416.90 L323.17 416.90 L323.31 416.90 L323.46 416.89 L323.62 416.89 L323.79 416.89 L323.96 416.89 L324.14 416.89 L324.33 416.89 L324.52 416.89 L324.72 416.88 L324.92 416.88 L325.13 416.88 L325.34 416.88 L325.56 416.88 L325.79 416.88 L326.02 416.88 L326.25 416.87 L326.49 416.87 L326.74 416.87 L326.99 416.87 L327.24 416.87 L327.49 416.87 L327.75 416.86 L328.02 416.86 L328.28 416.86 L328.55 416.86 L328.82 416.86 L329.10 416.85 L329.37 416.85 L329.65 416.85 L329.94 416.85 L330.22 416.85 L330.51 416.84 L330.79 416.84 L331.08 416.84 L331.37 416.84 L331.66 416.83 L331.96 416.83 L332.25 416.83 L332.54 416.83 L332.84 416.82 L333.13 416.82 L333.42 416.82 L333.72 416.81 L334.01 416.81 L334.30 416.81 L334.60 416.80 L334.89 416.80 L335.18 416.79 L335.46 416.79 L335.75 416.79 L336.04 416.78 L336.32 416.78 L336.60 416.77 L336.88 416.77 L337.16 416.76 L337.43 416.76 L337.71 416.75 L337.98 416.75 L338.24 416.74 L338.50 416.74 L338.76 416.73 L339.02 416.73 L339.27 416.72 L339.52 416.71 L339.76 416.71 L340.00 416.70 L340.27 416.69 L340.54 416.68 L340.81 416.68 L341.09 416.67 L341.36 416.66 L341.64 416.65 L341.92 416.65 L342.20 416.64 L342.47 416.63 L342.76 416.62 L343.04 416.61 L343.32 416.60 L343.60 416.59 L343.88 416.59 L344.16 416.58 L344.45 416.57 L344.73 416.56 L345.01 416.55 L345.29 416.54 L345.57 416.53 L345.85 416.52 L346.14 416.51 L346.41 416.50 L346.69 416.49 L346.97 416.48 L347.25 416.47 L347.52 416.46 L347.79 416.45 L348.07 416.44 L348.34 416.43 L348.61 416.41 L348.87 416.40 L349.14 416.39 L349.40 416.38 L349.66 416.37 L349.92 416.35 L350.17 416.34 L350.43 416.33 L350.68 416.32 L350.93 416.30 L351.17 416.29 L351.41 416.28 L351.65 416.26 L351.89 416.25 L352.12 416.24 L352.35 416.22 L352.57 416.21 L352.79 416.19 L353.01 416.18 L353.22 416.16 L353.43 416.15 L353.63 416.13 L353.83 416.12 L354.03 416.10 L354.22 416.08 L354.41 416.07 L354.59 416.05 L354.76 416.03 L354.93 416.02 L355.10 416.00 L355.61 415.94 L356.07 415.88 L356.47 415.83 L356.83 415.77 L357.14 415.71 L357.41 415.65 L357.65 415.58 L357.87 415.52 L358.06 415.45 L358.23 415.38 L358.39 415.30 L358.54 415.22 L358.70 415.13 L358.85 415.04 L359.01 414.94 L359.19 414.83 L359.38 414.72 L359.60 414.60 L359.88 414.45 L360.15 414.31 L360.42 414.17 L360.68 414.03 L360.95 413.89 L361.21 413.73 L361.47 413.57 L361.72 413.39 L361.97 413.20 L362.22 412.98 L362.46 412.74 L362.70 412.48 L362.94 412.19 L363.17 411.86 L363.40 411.50 L363.68 411.02 L363.95 410.53 L364.21 410.02 L364.46 409.48 L364.71 408.91 L364.95 408.29 L365.19 407.62 L365.43 406.89 L365.67 406.09 L365.91 405.21 L366.15 404.25 L366.40 403.20 L366.65 402.03 L366.90 400.72 L367.15 399.31 L367.40 397.81 L367.65 396.24 L367.90 394.62 L368.15 392.97 L368.40 391.33 L368.65 389.69 L368.90 388.10 L369.15 386.56 L369.40 385.10 L369.65 383.67 L369.90 382.22 L370.16 380.75 L370.41 379.29 L370.67 377.84 L370.92 376.42 L371.18 375.04 L371.43 373.73 L371.68 372.48 L371.92 371.32 L372.16 370.25 L372.40 369.30 L372.68 368.26 L372.94 367.29 L373.21 366.40 L373.46 365.61 L373.72 364.93 L373.97 364.37 L374.23 363.96 L374.48 363.70 L374.74 363.61 L375.00 363.70 L375.26 363.98 L375.53 364.43 L375.79 365.05 L376.06 365.82 L376.32 366.73 L376.59 367.78 L376.86 368.95 L377.14 370.23 L377.42 371.62 L377.70 373.10 L377.94 374.47 L378.18 376.03 L378.43 377.73 L378.68 379.54 L378.93 381.44 L379.18 383.39 L379.43 385.35 L379.69 387.29 L379.94 389.18 L380.20 390.98 L380.45 392.67 L380.70 394.20 L380.94 395.62 L381.18 396.97 L381.41 398.28 L381.64 399.53 L381.87 400.72 L382.10 401.87 L382.34 402.97 L382.58 404.02 L382.84 405.03 L383.11 405.99 L383.39 406.91 L383.70 407.80 L383.92 408.37 L384.14 408.91 L384.37 409.43 L384.60 409.93 L384.85 410.41 L385.09 410.86 L385.34 411.30 L385.60 411.72 L385.86 412.12 L386.13 412.50 L386.39 412.87 L386.66 413.21 L386.93 413.55 L387.21 413.87 L387.48 414.17 L387.75 414.46 L388.03 414.74 L388.30 415.00 L388.55 415.22 L388.82 415.43 L389.10 415.61 L389.38 415.78 L389.68 415.93 L389.98 416.07 L390.28 416.20 L390.59 416.31 L390.89 416.41 L391.19 416.50 L391.48 416.58 L391.77 416.66 L392.04 416.72 L392.30 416.79 L392.55 416.84 L392.78 416.90 L393.00 416.95 L393.19 417.00 L393.36 417.05 L393.50 417.10" fill="none" stroke="#1a1a1a" stroke-width="1.2" stroke-linejoin="round"/>
<path d="M351.30 445.60 L351.30 445.60 L351.44 445.46 L351.60 445.31 L351.79 445.16 L351.99 444.99 L352.21 444.82 L352.45 444.63 L352.70 444.44 L352.97 444.23 L353.24 444.00 L353.53 443.76 L353.81 443.51 L354.11 443.23 L354.40 442.94 L354.70 442.63 L354.99 442.30 L355.28 441.94 L355.56 441.56 L355.84 441.16 L356.10 440.73 L356.36 440.28 L356.60 439.80 L356.87 439.20 L357.14 438.55 L357.40 437.85 L357.67 437.12 L357.93 436.34 L358.19 435.54 L358.44 434.71 L358.69 433.85 L358.94 432.98 L359.19 432.08 L359.44 431.17 L359.68 430.26 L359.92 429.34 L360.16 428.42 L360.40 427.50 L360.64 426.59 L360.87 425.69 L361.10 424.80 L361.38 423.73 L361.65 422.63 L361.92 421.51 L362.18 420.37 L362.45 419.22 L362.71 418.06 L362.97 416.90 L363.22 415.74 L363.47 414.59 L363.72 413.46 L363.96 412.35 L364.20 411.26 L364.44 410.20 L364.67 409.18 L364.90 408.20 L365.18 407.01 L365.45 405.83 L365.71 404.68 L365.96 403.55 L366.21 402.45 L366.45 401.39 L366.69 400.38 L366.93 399.40 L367.17 398.49 L367.41 397.62 L367.65 396.83 L367.90 396.10 L368.15 395.42 L368.40 394.77 L368.65 394.16 L368.90 393.59 L369.15 393.08 L369.40 392.62 L369.65 392.24 L369.90 391.93 L370.15 391.70 L370.40 391.57 L370.65 391.53 L370.90 391.60 L371.15 391.78 L371.40 392.07 L371.65 392.45 L371.90 392.93 L372.14 393.49 L372.39 394.12 L372.64 394.83 L372.89 395.59 L373.14 396.41 L373.39 397.27 L373.65 398.17 L373.90 399.10 L374.16 400.09 L374.41 401.18 L374.67 402.34 L374.93 403.57 L375.19 404.85 L375.45 406.18 L375.71 407.52 L375.97 408.89 L376.23 410.25 L376.49 411.60 L376.74 412.92 L377.00 414.20 L377.25 415.47 L377.51 416.77 L377.76 418.08 L378.01 419.40 L378.26 420.72 L378.51 422.04 L378.76 423.33 L379.00 424.61 L379.25 425.85 L379.50 427.05 L379.75 428.20 L380.00 429.30 L380.25 430.35 L380.50 431.37 L380.75 432.36 L381.00 433.31 L381.25 434.24 L381.50 435.13 L381.75 435.99 L382.00 436.82 L382.25 437.61 L382.50 438.38 L382.75 439.10 L383.00 439.80 L383.26 440.47 L383.53 441.11 L383.82 441.72 L384.11 442.30 L384.40 442.84 L384.69 443.36 L384.96 443.83 L385.22 444.27 L385.46 444.67 L385.67 445.02 L385.86 445.33 L386.00 445.60 L386.00 445.60 Z" fill="#f5c593" fill-opacity="0.65"/>
<path d="M351.30 445.60 L351.44 445.46 L351.60 445.31 L351.79 445.16 L351.99 444.99 L352.21 444.82 L352.45 444.63 L352.70 444.44 L352.97 444.23 L353.24 444.00 L353.53 443.76 L353.81 443.51 L354.11 443.23 L354.40 442.94 L354.70 442.63 L354.99 442.30 L355.28 441.94 L355.56 441.56 L355.84 441.16 L356.10 440.73 L356.36 440.28 L356.60 439.80 L356.87 439.20 L357.14 438.55 L357.40 437.85 L357.67 437.12 L357.93 436.34 L358.19 435.54 L358.44 434.71 L358.69 433.85 L358.94 432.98 L359.19 432.08 L359.44 431.17 L359.68 430.26 L359.92 429.34 L360.16 428.42 L360.40 427.50 L360.64 426.59 L360.87 425.69 L361.10 424.80 L361.38 423.73 L361.65 422.63 L361.92 421.51 L362.18 420.37 L362.45 419.22 L362.71 418.06 L362.97 416.90 L363.22 415.74 L363.47 414.59 L363.72 413.46 L363.96 412.35 L364.20 411.26 L364.44 410.20 L364.67 409.18 L364.90 408.20 L365.18 407.01 L365.45 405.83 L365.71 404.68 L365.96 403.55 L366.21 402.45 L366.45 401.39 L366.69 400.38 L366.93 399.40 L367.17 398.49 L367.41 397.62 L367.65 396.83 L367.90 396.10 L368.15 395.42 L368.40 394.77 L368.65 394.16 L368.90 393.59 L369.15 393.08 L369.40 392.62 L369.65 392.24 L369.90 391.93 L370.15 391.70 L370.40 391.57 L370.65 391.53 L370.90 391.60 L371.15 391.78 L371.40 392.07 L371.65 392.45 L371.90 392.93 L372.14 393.49 L372.39 394.12 L372.64 394.83 L372.89 395.59 L373.14 396.41 L373.39 397.27 L373.65 398.17 L373.90 399.10 L374.16 400.09 L374.41 401.18 L374.67 402.34 L374.93 403.57 L375.19 404.85 L375.45 406.18 L375.71 407.52 L375.97 408.89 L376.23 410.25 L376.49 411.60 L376.74 412.92 L377.00 414.20 L377.25 415.47 L377.51 416.77 L377.76 418.08 L378.01 419.40 L378.26 420.72 L378.51 422.04 L378.76 423.33 L379.00 424.61 L379.25 425.85 L379.50 427.05 L379.75 428.20 L380.00 429.30 L380.25 430.35 L380.50 431.37 L380.75 432.36 L381.00 433.31 L381.25 434.24 L381.50 435.13 L381.75 435.99 L382.00 436.82 L382.25 437.61 L382.50 438.38 L382.75 439.10 L383.00 439.80 L383.26 440.47 L383.53 441.11 L383.82 441.72 L384.11 442.30 L384.40 442.84 L384.69 443.36 L384.96 443.83 L385.22 444.27 L385.46 444.67 L385.67 445.02 L385.86 445.33 L386.00 445.60" fill="none" stroke="#eda55a" stroke-width="0.9" stroke-linejoin="round"/>
<line x1="375.30" y1="363.70" x2="375.30" y2="446.30" stroke="#8a7a6a" stroke-width="0.6"/>
<line x1="320.40" y1="446.50" x2="398.50" y2="446.50" stroke="#222" stroke-width="1.1"/>
<path d="M400.50 446.50 L396.50 444.70 L396.50 448.30 Z" fill="#222"/>
<line x1="324.90" y1="446.50" x2="324.90" y2="448.70" stroke="#222" stroke-width="0.9"/>
<line x1="349.50" y1="446.50" x2="349.50" y2="448.70" stroke="#222" stroke-width="0.9"/>
<line x1="392.60" y1="446.50" x2="392.60" y2="448.70" stroke="#222" stroke-width="0.9"/>
<line x1="322.00" y1="446.50" x2="322.00" y2="447.80" stroke="#222" stroke-width="0.7"/>
<line x1="327.00" y1="446.50" x2="327.00" y2="447.80" stroke="#222" stroke-width="0.7"/>
<line x1="329.00" y1="446.50" x2="329.00" y2="447.80" stroke="#222" stroke-width="0.7"/>
<line x1="331.00" y1="446.50" x2="331.00" y2="447.80" stroke="#222" stroke-width="0.7"/>
<line x1="333.00" y1="446.50" x2="333.00" y2="447.80" stroke="#222" stroke-width="0.7"/>
<line x1="335.00" y1="446.50" x2="335.00" y2="447.80" stroke="#222" stroke-width="0.7"/>
<line x1="337.00" y1="446.50" x2="337.00" y2="447.80" stroke="#222" stroke-width="0.7"/>
<line x1="339.00" y1="446.50" x2="339.00" y2="447.80" stroke="#222" stroke-width="0.7"/>
<line x1="341.00" y1="446.50" x2="341.00" y2="447.80" stroke="#222" stroke-width="0.7"/>
<line x1="343.00" y1="446.50" x2="343.00" y2="447.80" stroke="#222" stroke-width="0.7"/>
<line x1="345.00" y1="446.50" x2="345.00" y2="447.80" stroke="#222" stroke-width="0.7"/>
<line x1="347.00" y1="446.50" x2="347.00" y2="447.80" stroke="#222" stroke-width="0.7"/>
<line x1="360.00" y1="446.50" x2="360.00" y2="447.80" stroke="#222" stroke-width="0.7"/>
<line x1="367.00" y1="446.50" x2="367.00" y2="447.80" stroke="#222" stroke-width="0.7"/>
<line x1="372.00" y1="446.50" x2="372.00" y2="447.80" stroke="#222" stroke-width="0.7"/>
<line x1="376.00" y1="446.50" x2="376.00" y2="447.80" stroke="#222" stroke-width="0.7"/>
<line x1="379.00" y1="446.50" x2="379.00" y2="447.80" stroke="#222" stroke-width="0.7"/>
<line x1="382.00" y1="446.50" x2="382.00" y2="447.80" stroke="#222" stroke-width="0.7"/>
<line x1="384.00" y1="446.50" x2="384.00" y2="447.80" stroke="#222" stroke-width="0.7"/>
<line x1="386.00" y1="446.50" x2="386.00" y2="447.80" stroke="#222" stroke-width="0.7"/>
<line x1="388.00" y1="446.50" x2="388.00" y2="447.80" stroke="#222" stroke-width="0.7"/>
<line x1="390.00" y1="446.50" x2="390.00" y2="447.80" stroke="#222" stroke-width="0.7"/>
<text x="324.90" y="456.50" font-size="6.6" text-anchor="middle" fill="#222">0</text>
<text x="350.10" y="456.50" font-size="6.6" text-anchor="middle" fill="#222">10<tspan dy="-2.6" font-size="0.72em">3</tspan><tspan dy="2.6"></tspan></text>
<text x="393.20" y="456.50" font-size="6.6" text-anchor="middle" fill="#222">10<tspan dy="-2.6" font-size="0.72em">4</tspan><tspan dy="2.6"></tspan></text>
<text x="361.35" y="469.60" font-size="8.2" text-anchor="middle" fill="#222" textLength="29.70" lengthAdjust="spacingAndGlyphs">p-S6K APC</text>
<text x="326.30" y="395.70" font-size="6.8" text-anchor="start" fill="#222" textLength="18.20" lengthAdjust="spacingAndGlyphs">DMSO</text>
<text x="326.30" y="432.60" font-size="6.8" text-anchor="start" fill="#222" textLength="12.30" lengthAdjust="spacingAndGlyphs">DAC</text>
<rect x="440.50" y="380.26" width="12.10" height="66.04" fill="#0a0a0a"/>
<line x1="446.55" y1="380.80" x2="446.55" y2="379.73" stroke="#222" stroke-width="1.0"/>
<line x1="443.15" y1="379.73" x2="449.95" y2="379.73" stroke="#222" stroke-width="1.0"/>
<line x1="443.15" y1="380.80" x2="449.95" y2="380.80" stroke="#222" stroke-width="1.0"/>
<line x1="446.55" y1="446.30" x2="446.55" y2="448.80" stroke="#222" stroke-width="0.9"/>
<rect x="458.10" y="392.37" width="12.40" height="53.93" fill="#dd8924"/>
<line x1="464.30" y1="393.79" x2="464.30" y2="390.59" stroke="#222" stroke-width="1.0"/>
<line x1="460.90" y1="390.59" x2="467.70" y2="390.59" stroke="#222" stroke-width="1.0"/>
<line x1="460.90" y1="393.79" x2="467.70" y2="393.79" stroke="#222" stroke-width="1.0"/>
<line x1="464.30" y1="446.30" x2="464.30" y2="448.80" stroke="#222" stroke-width="0.9"/>
<line x1="434.60" y1="372.60" x2="434.60" y2="446.90" stroke="#222" stroke-width="1.2"/>
<line x1="431.60" y1="446.30" x2="434.60" y2="446.30" stroke="#222" stroke-width="1.0"/>
<text x="429.30" y="448.70" font-size="6.8" text-anchor="end" fill="#222">0</text>
<line x1="431.60" y1="428.50" x2="434.60" y2="428.50" stroke="#222" stroke-width="1.0"/>
<text x="429.30" y="430.90" font-size="6.8" text-anchor="end" fill="#222">1</text>
<line x1="431.60" y1="410.70" x2="434.60" y2="410.70" stroke="#222" stroke-width="1.0"/>
<text x="429.30" y="413.10" font-size="6.8" text-anchor="end" fill="#222">2</text>
<line x1="431.60" y1="392.90" x2="434.60" y2="392.90" stroke="#222" stroke-width="1.0"/>
<text x="429.30" y="395.30" font-size="6.8" text-anchor="end" fill="#222">3</text>
<line x1="431.60" y1="375.10" x2="434.60" y2="375.10" stroke="#222" stroke-width="1.0"/>
<text x="429.30" y="377.50" font-size="6.8" text-anchor="end" fill="#222">4</text>
<line x1="434.00" y1="446.30" x2="475.40" y2="446.30" stroke="#222" stroke-width="1.2"/>
<text x="455.00" y="366.70" font-size="6.8" text-anchor="middle" fill="#222" textLength="27.10" lengthAdjust="spacingAndGlyphs">p&lt;0.0001</text>
<text x="421.00" y="409.30" font-size="8.0" text-anchor="middle" fill="#222" textLength="64.80" lengthAdjust="spacingAndGlyphs" transform="rotate(-90 421.00 409.30)">p-S6K APC MFI (x10<tspan dy="-2.6" font-size="0.72em">3</tspan><tspan dy="2.6">)</tspan></text>
<text x="447.00" y="457.50" font-size="6.8" text-anchor="middle" fill="#222" textLength="20.00" lengthAdjust="spacingAndGlyphs">DMSO</text>
<text x="464.10" y="457.50" font-size="6.8" text-anchor="middle" fill="#222" textLength="12.80" lengthAdjust="spacingAndGlyphs">DAC</text>
<text x="6.30" y="490.50" font-size="12" text-anchor="start" fill="#000" font-weight="bold">J</text>
<path d="M90.92 501.35 H127.53 V520.39 H136.68 V539.42 H173.30 V577.50" fill="none" stroke="#b0306e" stroke-width="1.2"/>
<path d="M36.00 501.35 H90.92 V524.20 H100.07 V547.04 H109.22 V569.88 H127.53 V577.50" fill="none" stroke="#333" stroke-width="1.3"/>
<line x1="36.00" y1="497.90" x2="36.00" y2="578.10" stroke="#222" stroke-width="1.2"/>
<line x1="33.00" y1="577.50" x2="36.00" y2="577.50" stroke="#222" stroke-width="1.0"/>
<text x="30.00" y="579.90" font-size="6.8" text-anchor="end" fill="#222">0</text>
<line x1="33.00" y1="539.42" x2="36.00" y2="539.42" stroke="#222" stroke-width="1.0"/>
<text x="30.00" y="541.82" font-size="6.8" text-anchor="end" fill="#222">50</text>
<line x1="33.00" y1="501.35" x2="36.00" y2="501.35" stroke="#222" stroke-width="1.0"/>
<text x="30.00" y="503.75" font-size="6.8" text-anchor="end" fill="#222">100</text>
<line x1="35.40" y1="577.70" x2="177.00" y2="577.70" stroke="#222" stroke-width="1.3"/>
<line x1="36.00" y1="577.70" x2="36.00" y2="580.10" stroke="#222" stroke-width="0.9"/>
<line x1="45.15" y1="577.70" x2="45.15" y2="579.10" stroke="#222" stroke-width="0.9"/>
<line x1="54.31" y1="577.70" x2="54.31" y2="579.10" stroke="#222" stroke-width="0.9"/>
<line x1="63.46" y1="577.70" x2="63.46" y2="579.10" stroke="#222" stroke-width="0.9"/>
<line x1="72.61" y1="577.70" x2="72.61" y2="579.10" stroke="#222" stroke-width="0.9"/>
<line x1="81.77" y1="577.70" x2="81.77" y2="580.10" stroke="#222" stroke-width="0.9"/>
<line x1="90.92" y1="577.70" x2="90.92" y2="579.10" stroke="#222" stroke-width="0.9"/>
<line x1="100.07" y1="577.70" x2="100.07" y2="579.10" stroke="#222" stroke-width="0.9"/>
<line x1="109.22" y1="577.70" x2="109.22" y2="579.10" stroke="#222" stroke-width="0.9"/>
<line x1="118.38" y1="577.70" x2="118.38" y2="579.10" stroke="#222" stroke-width="0.9"/>
<line x1="127.53" y1="577.70" x2="127.53" y2="580.10" stroke="#222" stroke-width="0.9"/>
<line x1="136.68" y1="577.70" x2="136.68" y2="579.10" stroke="#222" stroke-width="0.9"/>
<line x1="145.84" y1="577.70" x2="145.84" y2="579.10" stroke="#222" stroke-width="0.9"/>
<line x1="154.99" y1="577.70" x2="154.99" y2="579.10" stroke="#222" stroke-width="0.9"/>
<line x1="164.14" y1="577.70" x2="164.14" y2="579.10" stroke="#222" stroke-width="0.9"/>
<line x1="173.30" y1="577.70" x2="173.30" y2="580.10" stroke="#222" stroke-width="0.9"/>
<text x="36.00" y="589.00" font-size="6.8" text-anchor="middle" fill="#222">0</text>
<text x="81.77" y="589.00" font-size="6.8" text-anchor="middle" fill="#222">5</text>
<text x="127.53" y="589.00" font-size="6.8" text-anchor="middle" fill="#222">10</text>
<text x="173.30" y="589.00" font-size="6.8" text-anchor="middle" fill="#222">15</text>
<text x="107.15" y="600.70" font-size="8.6" text-anchor="middle" fill="#222" textLength="33.70" lengthAdjust="spacingAndGlyphs">Time (days)</text>
<text x="14.70" y="537.30" font-size="8.9" text-anchor="middle" fill="#222" textLength="11.60" lengthAdjust="spacingAndGlyphs" transform="rotate(-90 14.70 537.30)">DSS</text>
<text x="142.50" y="531.30" font-size="6.8" text-anchor="start" fill="#b0306e" textLength="30.40" lengthAdjust="spacingAndGlyphs">DAC (n=4)</text>
<text x="52.00" y="561.70" font-size="6.8" text-anchor="start" fill="#222" textLength="43.20" lengthAdjust="spacingAndGlyphs">placebo (n=10)</text>
<text x="135.40" y="561.50" font-size="6.8" text-anchor="start" fill="#222" textLength="23.40" lengthAdjust="spacingAndGlyphs">p=0.003</text>
<text x="186.00" y="490.50" font-size="12" text-anchor="start" fill="#000" font-weight="bold">K</text>
<line x1="218.90" y1="577.20" x2="299.40" y2="514.96" stroke="#111" stroke-width="1.0"/>
<line x1="218.90" y1="577.20" x2="299.40" y2="575.13" stroke="#b0306e" stroke-width="1.4"/>
<line x1="218.90" y1="577.80" x2="299.40" y2="577.80" stroke="#b0306e" stroke-width="1.0"/>
<circle cx="299.00" cy="505.10" r="1.35" fill="#111"/>
<circle cx="299.00" cy="507.00" r="1.35" fill="#111"/>
<circle cx="299.00" cy="508.70" r="1.35" fill="#111"/>
<circle cx="299.00" cy="510.30" r="1.35" fill="#111"/>
<circle cx="299.00" cy="511.90" r="1.35" fill="#111"/>
<circle cx="299.00" cy="513.50" r="1.35" fill="#111"/>
<circle cx="299.00" cy="515.10" r="1.35" fill="#111"/>
<circle cx="299.00" cy="516.70" r="1.35" fill="#111"/>
<circle cx="299.00" cy="524.40" r="1.35" fill="#111"/>
<circle cx="299.00" cy="529.30" r="1.35" fill="#111"/>
<rect x="298.00" y="572.20" width="2.40" height="6.00" fill="#b0306e"/>
<path d="M299.20 571.20 L297.40 574.00 L301.00 574.00 Z" fill="#b0306e"/>
<path d="M299.20 573.40 L297.40 576.20 L301.00 576.20 Z" fill="#b0306e"/>
<circle cx="219.00" cy="577.00" r="1.5" fill="#b0306e"/>
<line x1="302.00" y1="514.90" x2="310.40" y2="514.90" stroke="#111" stroke-width="0.9"/>
<circle cx="305.80" cy="514.90" r="1.3" fill="#111"/>
<line x1="302.00" y1="575.20" x2="310.40" y2="575.20" stroke="#b0306e" stroke-width="0.9"/>
<path d="M305.8 573.6 L304.3 576.2 L307.3 576.2 Z" fill="#b0306e"/>
<text x="313.00" y="517.20" font-size="7.2" text-anchor="start" fill="#222" textLength="23.40" lengthAdjust="spacingAndGlyphs">placebo</text>
<text x="313.40" y="577.00" font-size="7.2" text-anchor="start" fill="#222" textLength="13.60" lengthAdjust="spacingAndGlyphs">DAC</text>
<line x1="218.90" y1="497.20" x2="218.90" y2="577.80" stroke="#222" stroke-width="1.2"/>
<line x1="215.90" y1="577.20" x2="218.90" y2="577.20" stroke="#222" stroke-width="1.0"/>
<text x="213.40" y="579.60" font-size="6.8" text-anchor="end" fill="#222">0</text>
<line x1="215.90" y1="551.27" x2="218.90" y2="551.27" stroke="#222" stroke-width="1.0"/>
<text x="213.40" y="553.67" font-size="6.8" text-anchor="end" fill="#222">50</text>
<line x1="215.90" y1="525.33" x2="218.90" y2="525.33" stroke="#222" stroke-width="1.0"/>
<text x="213.40" y="527.73" font-size="6.8" text-anchor="end" fill="#222">100</text>
<line x1="215.90" y1="499.40" x2="218.90" y2="499.40" stroke="#222" stroke-width="1.0"/>
<text x="213.40" y="501.80" font-size="6.8" text-anchor="end" fill="#222">150</text>
<line x1="217.10" y1="572.01" x2="218.90" y2="572.01" stroke="#222" stroke-width="0.8"/>
<line x1="217.10" y1="566.83" x2="218.90" y2="566.83" stroke="#222" stroke-width="0.8"/>
<line x1="217.10" y1="561.64" x2="218.90" y2="561.64" stroke="#222" stroke-width="0.8"/>
<line x1="217.10" y1="556.45" x2="218.90" y2="556.45" stroke="#222" stroke-width="0.8"/>
<line x1="217.10" y1="546.08" x2="218.90" y2="546.08" stroke="#222" stroke-width="0.8"/>
<line x1="217.10" y1="540.89" x2="218.90" y2="540.89" stroke="#222" stroke-width="0.8"/>
<line x1="217.10" y1="535.70" x2="218.90" y2="535.70" stroke="#222" stroke-width="0.8"/>
<line x1="217.10" y1="530.52" x2="218.90" y2="530.52" stroke="#222" stroke-width="0.8"/>
<line x1="217.10" y1="520.14" x2="218.90" y2="520.14" stroke="#222" stroke-width="0.8"/>
<line x1="217.10" y1="514.96" x2="218.90" y2="514.96" stroke="#222" stroke-width="0.8"/>
<line x1="217.10" y1="509.77" x2="218.90" y2="509.77" stroke="#222" stroke-width="0.8"/>
<line x1="217.10" y1="504.58" x2="218.90" y2="504.58" stroke="#222" stroke-width="0.8"/>
<line x1="218.30" y1="577.40" x2="300.00" y2="577.40" stroke="#222" stroke-width="1.3"/>
<line x1="218.90" y1="577.40" x2="218.90" y2="579.80" stroke="#222" stroke-width="0.9"/>
<line x1="230.40" y1="577.40" x2="230.40" y2="578.80" stroke="#222" stroke-width="0.9"/>
<line x1="241.90" y1="577.40" x2="241.90" y2="579.80" stroke="#222" stroke-width="0.9"/>
<line x1="253.40" y1="577.40" x2="253.40" y2="578.80" stroke="#222" stroke-width="0.9"/>
<line x1="264.90" y1="577.40" x2="264.90" y2="579.80" stroke="#222" stroke-width="0.9"/>
<line x1="276.40" y1="577.40" x2="276.40" y2="578.80" stroke="#222" stroke-width="0.9"/>
<line x1="287.90" y1="577.40" x2="287.90" y2="579.80" stroke="#222" stroke-width="0.9"/>
<line x1="299.40" y1="577.40" x2="299.40" y2="578.80" stroke="#222" stroke-width="0.9"/>
<text x="218.90" y="589.00" font-size="6.8" text-anchor="middle" fill="#222">0</text>
<text x="241.90" y="589.00" font-size="6.8" text-anchor="middle" fill="#222">2</text>
<text x="264.90" y="589.00" font-size="6.8" text-anchor="middle" fill="#222">4</text>
<text x="287.90" y="589.00" font-size="6.8" text-anchor="middle" fill="#222">6</text>
<text x="258.60" y="600.50" font-size="8.6" text-anchor="middle" fill="#222" textLength="33.70" lengthAdjust="spacingAndGlyphs">Time (days)</text>
<text x="245.00" y="505.10" font-size="6.8" text-anchor="start" fill="#222" textLength="27.00" lengthAdjust="spacingAndGlyphs">p&lt;0.0001</text>
<text x="196.80" y="537.50" font-size="8.0" text-anchor="middle" fill="#222" textLength="72.40" lengthAdjust="spacingAndGlyphs" transform="rotate(-90 196.80 537.50)">WBC count (10<tspan dy="-2.6" font-size="0.72em">3</tspan><tspan dy="2.6"> cells/µl)</tspan></text>
<text x="345.30" y="490.50" font-size="12" text-anchor="start" fill="#000" font-weight="bold">L</text>
<rect x="380.30" y="529.70" width="13.70" height="47.70" fill="#fff" stroke="#111" stroke-width="1.1"/>
<rect x="399.90" y="560.49" width="13.80" height="16.91" fill="#fff" stroke="#b0306e" stroke-width="1.1"/>
<line x1="387.15" y1="532.01" x2="387.15" y2="525.78" stroke="#111" stroke-width="1.0"/>
<line x1="383.55" y1="525.78" x2="390.75" y2="525.78" stroke="#111" stroke-width="1.0"/>
<line x1="383.55" y1="532.01" x2="390.75" y2="532.01" stroke="#111" stroke-width="1.0"/>
<line x1="406.80" y1="560.49" x2="406.80" y2="548.92" stroke="#b0306e" stroke-width="1.0"/>
<line x1="403.20" y1="548.92" x2="410.40" y2="548.92" stroke="#b0306e" stroke-width="1.0"/>
<circle cx="387.20" cy="509.60" r="1.5" fill="#111"/>
<circle cx="382.80" cy="520.80" r="1.5" fill="#111"/>
<circle cx="391.50" cy="519.90" r="1.5" fill="#111"/>
<circle cx="387.20" cy="522.40" r="1.5" fill="#111"/>
<circle cx="383.60" cy="526.30" r="1.5" fill="#111"/>
<circle cx="387.20" cy="527.30" r="1.5" fill="#111"/>
<circle cx="385.60" cy="532.20" r="1.5" fill="#111"/>
<circle cx="391.50" cy="536.80" r="1.5" fill="#111"/>
<circle cx="389.10" cy="546.00" r="1.5" fill="#111"/>
<circle cx="385.20" cy="549.30" r="1.5" fill="#111"/>
<circle cx="406.80" cy="548.50" r="1.5" fill="#9c1f5e"/>
<circle cx="406.80" cy="554.20" r="1.5" fill="#9c1f5e"/>
<circle cx="405.40" cy="569.20" r="1.5" fill="#9c1f5e"/>
<circle cx="408.00" cy="569.20" r="1.5" fill="#9c1f5e"/>
<line x1="374.40" y1="504.10" x2="374.40" y2="578.00" stroke="#222" stroke-width="1.2"/>
<line x1="371.40" y1="577.40" x2="374.40" y2="577.40" stroke="#222" stroke-width="1.0"/>
<text x="369.60" y="579.80" font-size="6.8" text-anchor="end" fill="#222">0</text>
<line x1="371.40" y1="559.60" x2="374.40" y2="559.60" stroke="#222" stroke-width="1.0"/>
<text x="369.60" y="562.00" font-size="6.8" text-anchor="end" fill="#222">200</text>
<line x1="371.40" y1="541.80" x2="374.40" y2="541.80" stroke="#222" stroke-width="1.0"/>
<text x="369.60" y="544.20" font-size="6.8" text-anchor="end" fill="#222">400</text>
<line x1="371.40" y1="524.00" x2="374.40" y2="524.00" stroke="#222" stroke-width="1.0"/>
<text x="369.60" y="526.40" font-size="6.8" text-anchor="end" fill="#222">600</text>
<line x1="371.40" y1="506.20" x2="374.40" y2="506.20" stroke="#222" stroke-width="1.0"/>
<text x="369.60" y="508.60" font-size="6.8" text-anchor="end" fill="#222">800</text>
<line x1="372.60" y1="568.50" x2="374.40" y2="568.50" stroke="#222" stroke-width="0.8"/>
<line x1="372.60" y1="550.70" x2="374.40" y2="550.70" stroke="#222" stroke-width="0.8"/>
<line x1="372.60" y1="532.90" x2="374.40" y2="532.90" stroke="#222" stroke-width="0.8"/>
<line x1="372.60" y1="515.10" x2="374.40" y2="515.10" stroke="#222" stroke-width="0.8"/>
<line x1="373.80" y1="577.40" x2="419.60" y2="577.40" stroke="#222" stroke-width="1.2"/>
<line x1="387.15" y1="577.40" x2="387.15" y2="579.90" stroke="#222" stroke-width="0.9"/>
<line x1="406.80" y1="577.40" x2="406.80" y2="579.90" stroke="#222" stroke-width="0.9"/>
<text x="397.20" y="504.10" font-size="6.8" text-anchor="middle" fill="#222" textLength="24.00" lengthAdjust="spacingAndGlyphs">p=0.008</text>
<text x="352.60" y="540.40" font-size="8.2" text-anchor="middle" fill="#222" textLength="59.10" lengthAdjust="spacingAndGlyphs" transform="rotate(-90 352.60 540.40)">Spleen weight (mg)</text>
<text x="390.60" y="585.60" font-size="7.2" text-anchor="end" fill="#222" textLength="23.50" lengthAdjust="spacingAndGlyphs" transform="rotate(-45 390.60 585.60)">placebo</text>
<text x="410.60" y="585.60" font-size="7.2" text-anchor="end" fill="#222" textLength="14.50" lengthAdjust="spacingAndGlyphs" transform="rotate(-45 410.60 585.60)">DAC</text>
<rect x="463.70" y="538.14" width="13.80" height="39.26" fill="#fff" stroke="#111" stroke-width="1.1"/>
<rect x="483.30" y="568.60" width="13.80" height="8.80" fill="#fff" stroke="#b0306e" stroke-width="1.1"/>
<line x1="470.60" y1="541.54" x2="470.60" y2="532.95" stroke="#111" stroke-width="1.0"/>
<line x1="467.00" y1="532.95" x2="474.20" y2="532.95" stroke="#111" stroke-width="1.0"/>
<line x1="467.00" y1="541.54" x2="474.20" y2="541.54" stroke="#111" stroke-width="1.0"/>
<line x1="490.20" y1="568.60" x2="490.20" y2="558.87" stroke="#b0306e" stroke-width="1.0"/>
<line x1="486.60" y1="558.87" x2="493.80" y2="558.87" stroke="#b0306e" stroke-width="1.0"/>
<circle cx="468.60" cy="515.50" r="1.5" fill="#111"/>
<circle cx="472.50" cy="519.50" r="1.5" fill="#111"/>
<circle cx="468.60" cy="528.30" r="1.5" fill="#111"/>
<circle cx="473.10" cy="526.30" r="1.5" fill="#111"/>
<circle cx="468.20" cy="538.10" r="1.5" fill="#111"/>
<circle cx="472.20" cy="542.10" r="1.5" fill="#111"/>
<circle cx="470.60" cy="547.40" r="1.5" fill="#111"/>
<circle cx="470.20" cy="552.90" r="1.5" fill="#111"/>
<circle cx="472.50" cy="554.80" r="1.5" fill="#111"/>
<circle cx="468.60" cy="558.40" r="1.5" fill="#111"/>
<circle cx="489.80" cy="555.80" r="1.5" fill="#9c1f5e"/>
<circle cx="489.80" cy="565.60" r="1.5" fill="#9c1f5e"/>
<circle cx="492.80" cy="572.90" r="1.5" fill="#9c1f5e"/>
<circle cx="487.90" cy="577.00" r="1.5" fill="#9c1f5e"/>
<line x1="457.00" y1="504.10" x2="457.00" y2="578.00" stroke="#222" stroke-width="1.2"/>
<line x1="454.00" y1="577.40" x2="457.00" y2="577.40" stroke="#222" stroke-width="1.0"/>
<text x="452.50" y="579.80" font-size="6.8" text-anchor="end" fill="#222">0</text>
<line x1="454.00" y1="563.20" x2="457.00" y2="563.20" stroke="#222" stroke-width="1.0"/>
<text x="452.50" y="565.60" font-size="6.8" text-anchor="end" fill="#222">20</text>
<line x1="454.00" y1="549.00" x2="457.00" y2="549.00" stroke="#222" stroke-width="1.0"/>
<text x="452.50" y="551.40" font-size="6.8" text-anchor="end" fill="#222">40</text>
<line x1="454.00" y1="534.80" x2="457.00" y2="534.80" stroke="#222" stroke-width="1.0"/>
<text x="452.50" y="537.20" font-size="6.8" text-anchor="end" fill="#222">60</text>
<line x1="454.00" y1="520.60" x2="457.00" y2="520.60" stroke="#222" stroke-width="1.0"/>
<text x="452.50" y="523.00" font-size="6.8" text-anchor="end" fill="#222">80</text>
<line x1="454.00" y1="506.40" x2="457.00" y2="506.40" stroke="#222" stroke-width="1.0"/>
<text x="452.50" y="508.80" font-size="6.8" text-anchor="end" fill="#222">100</text>
<line x1="455.20" y1="570.30" x2="457.00" y2="570.30" stroke="#222" stroke-width="0.8"/>
<line x1="455.20" y1="556.10" x2="457.00" y2="556.10" stroke="#222" stroke-width="0.8"/>
<line x1="455.20" y1="541.90" x2="457.00" y2="541.90" stroke="#222" stroke-width="0.8"/>
<line x1="455.20" y1="527.70" x2="457.00" y2="527.70" stroke="#222" stroke-width="0.8"/>
<line x1="455.20" y1="513.50" x2="457.00" y2="513.50" stroke="#222" stroke-width="0.8"/>
<line x1="456.40" y1="577.40" x2="502.60" y2="577.40" stroke="#222" stroke-width="1.2"/>
<line x1="470.60" y1="577.40" x2="470.60" y2="579.90" stroke="#222" stroke-width="0.9"/>
<line x1="490.20" y1="577.40" x2="490.20" y2="579.90" stroke="#222" stroke-width="0.9"/>
<text x="480.50" y="504.10" font-size="6.8" text-anchor="middle" fill="#222" textLength="23.80" lengthAdjust="spacingAndGlyphs">p=0.003</text>
<text x="436.80" y="540.40" font-size="8.2" text-anchor="middle" fill="#222" textLength="61.00" lengthAdjust="spacingAndGlyphs" transform="rotate(-90 436.80 540.40)">Thymus weight (mg)</text>
<text x="474.40" y="586.20" font-size="7.2" text-anchor="end" fill="#222" textLength="23.50" lengthAdjust="spacingAndGlyphs" transform="rotate(-45 474.40 586.20)">placebo</text>
<text x="492.60" y="586.20" font-size="7.2" text-anchor="end" fill="#222" textLength="14.50" lengthAdjust="spacingAndGlyphs" transform="rotate(-45 492.60 586.20)">DAC</text>
<rect x="0.5" y="0.5" width="519" height="609" fill="none" stroke="#000" stroke-width="1.2"/>
</svg></body></html>
